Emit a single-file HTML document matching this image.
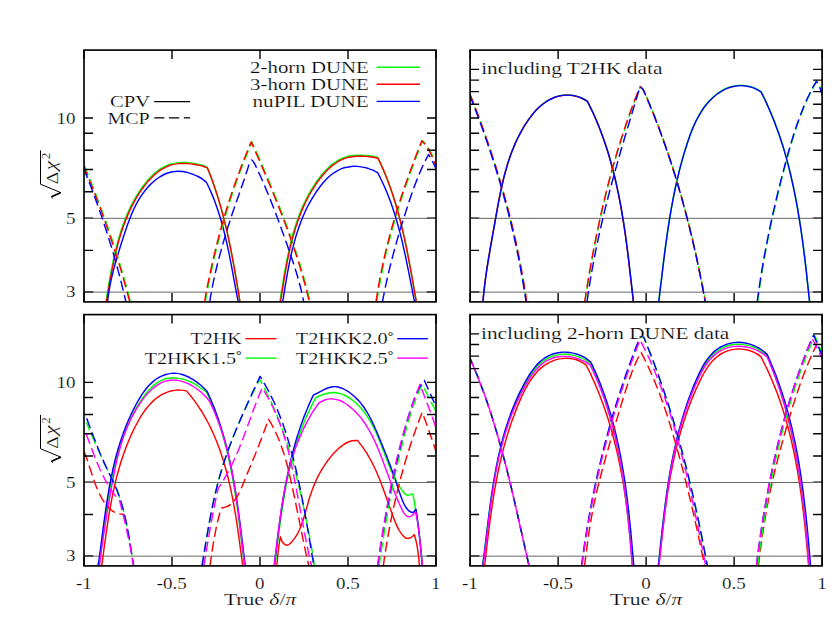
<!DOCTYPE html>
<html><head><meta charset="utf-8"><title>CPV / MCP sensitivity</title>
<style>html,body{margin:0;padding:0;background:#fff}svg{display:block}text{font-family:"Liberation Serif",serif;fill:#000;stroke:#fff;stroke-width:0.2px}</style></head><body>
<svg width="839" height="629" viewBox="0 0 839 629">
<rect width="839" height="629" fill="#fff"/>
<clipPath id="cp1"><rect x="84.00" y="50.10" width="352.00" height="251.80"/></clipPath>
<line x1="84.00" y1="218.34" x2="436.00" y2="218.34" stroke="#666" stroke-width="1.0"/>
<line x1="84.00" y1="292.13" x2="436.00" y2="292.13" stroke="#666" stroke-width="1.0"/>
<g clip-path="url(#cp1)" fill="none" stroke-width="1.45" stroke-linejoin="round">
<path d="M105.75 302.20C105.9 301.4 106.3 299.1 106.6 297.4C106.8 295.8 107.1 294.1 107.4 292.4C107.7 290.7 108.0 289.0 108.3 287.3C108.5 285.6 108.8 283.9 109.1 282.2C109.4 280.5 109.7 278.8 110.0 277.1C110.3 275.4 110.7 273.7 111.0 272.0C111.3 270.3 111.6 268.6 112.0 266.9C112.3 265.2 112.6 263.5 113.0 261.8C113.4 260.1 113.7 258.3 114.1 256.6C114.5 254.9 114.9 253.2 115.3 251.5C115.7 249.9 116.1 248.2 116.5 246.5C116.9 244.8 117.4 243.1 117.8 241.4C118.3 239.8 118.8 238.1 119.3 236.4C119.8 234.8 120.3 233.1 120.8 231.4C121.3 229.8 121.9 228.2 122.4 226.5C123.0 224.9 123.6 223.3 124.2 221.7C124.8 220.0 125.4 218.4 126.1 216.9C126.7 215.3 127.4 213.7 128.1 212.1C128.8 210.5 129.5 209.0 130.2 207.4C131.0 205.9 131.8 204.4 132.6 202.9C133.4 201.3 134.2 199.8 135.0 198.4C135.9 196.9 136.8 195.4 137.7 193.9C138.6 192.5 139.5 191.1 140.5 189.6C141.5 188.2 142.5 186.8 143.5 185.4C144.6 184.1 145.6 182.7 146.7 181.4C147.8 180.0 149.0 178.7 150.2 177.5C151.3 176.3 152.6 175.1 153.8 173.9C155.1 172.8 156.4 171.7 157.7 170.7C159.1 169.7 160.5 168.8 161.9 167.9C163.4 167.1 164.9 166.3 166.4 165.6C168.0 165.0 169.5 164.4 171.2 163.9C172.8 163.5 174.6 163.1 176.3 162.9C178.1 162.6 179.9 162.5 181.7 162.4C183.5 162.4 185.3 162.5 187.2 162.6C189.0 162.7 190.8 162.9 192.6 163.2C194.4 163.4 196.1 163.8 197.8 164.1C199.5 164.5 201.1 164.8 202.6 165.3C204.2 165.8 206.3 166.8 207.0 167.0C207.3 167.9 208.3 170.3 209.0 171.9C209.6 173.5 210.2 175.1 210.9 176.7C211.5 178.4 212.1 180.0 212.7 181.6C213.2 183.3 213.8 184.9 214.4 186.6C214.9 188.2 215.5 189.8 216.0 191.5C216.6 193.1 217.1 194.8 217.6 196.4C218.1 198.1 218.6 199.8 219.1 201.4C219.6 203.1 220.1 204.7 220.6 206.4C221.1 208.1 221.5 209.7 222.0 211.4C222.4 213.1 222.9 214.8 223.3 216.4C223.7 218.1 224.2 219.8 224.6 221.5C225.0 223.2 225.4 224.9 225.8 226.5C226.2 228.2 226.6 229.9 227.0 231.6C227.4 233.3 227.8 235.0 228.1 236.7C228.5 238.4 228.9 240.1 229.2 241.8C229.6 243.5 229.9 245.2 230.3 246.9C230.6 248.6 231.0 250.3 231.3 252.0C231.6 253.7 231.9 255.4 232.3 257.1C232.6 258.8 232.9 260.5 233.2 262.2C233.5 263.9 233.9 265.6 234.2 267.4C234.5 269.1 234.8 270.8 235.1 272.5C235.4 274.2 235.7 275.9 236.0 277.6C236.2 279.3 236.5 281.0 236.8 282.8C237.1 284.5 237.4 286.2 237.7 287.9C238.0 289.6 238.3 291.3 238.5 293.0C238.8 294.7 239.1 296.6 239.4 298.2C239.6 299.7 239.9 301.5 240.0 302.2" stroke="#00ff00"/>
<path d="M279.77 302.20C279.9 301.4 280.3 299.0 280.5 297.3C280.8 295.7 281.1 294.0 281.3 292.2C281.6 290.5 281.9 288.8 282.2 287.1C282.4 285.4 282.7 283.7 283.0 282.0C283.3 280.2 283.6 278.5 283.8 276.8C284.1 275.1 284.4 273.3 284.7 271.6C285.0 269.9 285.3 268.2 285.7 266.4C286.0 264.7 286.3 263.0 286.6 261.2C287.0 259.5 287.3 257.8 287.7 256.1C288.0 254.3 288.4 252.6 288.8 250.9C289.2 249.2 289.5 247.5 289.9 245.7C290.4 244.0 290.8 242.3 291.2 240.6C291.6 238.9 292.1 237.2 292.5 235.5C293.0 233.8 293.5 232.1 294.0 230.5C294.5 228.8 295.0 227.1 295.5 225.4C296.1 223.8 296.6 222.1 297.2 220.5C297.8 218.8 298.3 217.2 299.0 215.6C299.6 213.9 300.2 212.3 300.9 210.7C301.5 209.1 302.2 207.5 302.9 205.9C303.6 204.3 304.3 202.8 305.1 201.2C305.8 199.7 306.6 198.1 307.4 196.6C308.2 195.0 309.1 193.5 309.9 192.0C310.8 190.5 311.7 189.0 312.6 187.6C313.5 186.1 314.5 184.6 315.4 183.2C316.4 181.8 317.4 180.3 318.5 179.0C319.5 177.6 320.6 176.2 321.7 174.8C322.8 173.5 324.0 172.1 325.1 170.9C326.3 169.6 327.5 168.4 328.8 167.2C330.1 166.0 331.4 164.9 332.7 163.9C334.1 162.9 335.5 161.9 336.9 161.0C338.3 160.2 339.8 159.4 341.3 158.7C342.9 158.0 344.5 157.4 346.1 156.9C347.7 156.4 349.4 156.1 351.1 155.8C352.9 155.5 354.6 155.3 356.4 155.2C358.1 155.1 359.9 155.1 361.7 155.1C363.5 155.2 365.3 155.3 367.1 155.5C368.9 155.7 370.7 156.0 372.4 156.3C374.2 156.6 376.7 157.2 377.6 157.4C378.0 158.2 379.1 160.5 379.9 162.1C380.6 163.6 381.3 165.2 382.0 166.8C382.7 168.4 383.4 170.0 384.1 171.6C384.8 173.2 385.5 174.8 386.1 176.4C386.7 178.1 387.4 179.7 388.0 181.3C388.6 182.9 389.2 184.5 389.8 186.2C390.4 187.8 391.0 189.5 391.5 191.1C392.1 192.7 392.6 194.4 393.2 196.0C393.7 197.7 394.2 199.4 394.7 201.0C395.3 202.7 395.8 204.3 396.3 206.0C396.7 207.7 397.2 209.4 397.7 211.0C398.2 212.7 398.6 214.4 399.1 216.1C399.5 217.8 399.9 219.4 400.4 221.1C400.8 222.8 401.2 224.5 401.6 226.2C402.0 227.9 402.4 229.6 402.8 231.3C403.2 233.0 403.6 234.7 404.0 236.4C404.4 238.1 404.8 239.8 405.1 241.5C405.5 243.2 405.8 244.9 406.2 246.7C406.5 248.4 406.9 250.1 407.2 251.8C407.6 253.5 407.9 255.2 408.2 256.9C408.6 258.7 408.9 260.4 409.2 262.1C409.6 263.8 409.9 265.5 410.2 267.3C410.5 269.0 410.8 270.7 411.1 272.4C411.4 274.1 411.7 275.8 412.0 277.6C412.4 279.3 412.7 281.0 413.0 282.7C413.3 284.4 413.6 286.2 413.9 287.9C414.2 289.6 414.5 291.3 414.8 293.0C415.1 294.7 415.4 296.6 415.7 298.2C415.9 299.7 416.2 301.5 416.4 302.2" stroke="#00ff00"/>
<path d="M106.42 302.20C106.5 301.6 106.8 299.9 107.1 298.4C107.3 297.0 107.6 295.1 107.9 293.4C108.2 291.7 108.5 290.0 108.8 288.3C109.0 286.6 109.3 284.9 109.6 283.2C109.9 281.5 110.2 279.8 110.5 278.1C110.8 276.4 111.2 274.7 111.5 273.0C111.8 271.3 112.1 269.6 112.5 267.9C112.8 266.2 113.1 264.5 113.5 262.8C113.9 261.1 114.2 259.3 114.6 257.6C115.0 255.9 115.4 254.2 115.8 252.5C116.2 250.9 116.6 249.2 117.0 247.5C117.4 245.8 117.9 244.1 118.3 242.4C118.8 240.8 119.3 239.1 119.8 237.4C120.3 235.8 120.8 234.1 121.3 232.4C121.8 230.8 122.4 229.2 122.9 227.5C123.5 225.9 124.1 224.3 124.7 222.7C125.3 221.0 125.9 219.4 126.6 217.9C127.2 216.3 127.9 214.7 128.6 213.1C129.3 211.5 130.0 210.0 130.7 208.4C131.5 206.9 132.3 205.4 133.1 203.9C133.9 202.3 134.7 200.8 135.5 199.4C136.4 197.9 137.3 196.4 138.2 194.9C139.1 193.5 140.0 192.1 141.0 190.6C142.0 189.2 143.0 187.8 144.0 186.4C145.1 185.1 146.1 183.7 147.2 182.4C148.3 181.0 149.5 179.7 150.7 178.5C151.8 177.3 153.1 176.1 154.3 174.9C155.6 173.8 156.9 172.7 158.2 171.7C159.6 170.7 161.0 169.8 162.4 168.9C163.9 168.1 165.4 167.3 166.9 166.6C168.5 166.0 170.0 165.4 171.7 164.9C173.3 164.5 175.1 164.1 176.8 163.9C178.6 163.6 180.4 163.5 182.2 163.4C184.0 163.4 185.8 163.5 187.7 163.6C189.5 163.7 191.3 163.9 193.1 164.2C194.9 164.4 196.6 164.8 198.3 165.1C200.0 165.5 201.6 165.8 203.1 166.3C204.7 166.8 206.8 167.8 207.5 168.0C207.8 168.9 208.8 171.4 209.5 173.0C210.1 174.7 210.8 176.4 211.4 178.1C212.0 179.7 212.6 181.4 213.2 183.1C213.8 184.8 214.4 186.5 215.0 188.2C215.5 189.9 216.1 191.6 216.6 193.3C217.2 195.0 217.7 196.7 218.2 198.4C218.7 200.1 219.2 201.8 219.7 203.5C220.2 205.2 220.7 206.9 221.2 208.6C221.7 210.4 222.1 212.1 222.6 213.8C223.1 215.5 223.5 217.3 223.9 219.0C224.4 220.7 224.8 222.5 225.2 224.2C225.7 225.9 226.1 227.7 226.5 229.4C226.9 231.1 227.3 232.9 227.7 234.6C228.0 236.4 228.4 238.1 228.8 239.9C229.2 241.6 229.5 243.4 229.9 245.1C230.3 246.9 230.6 248.6 231.0 250.4C231.3 252.1 231.7 253.9 232.0 255.6C232.3 257.4 232.7 259.1 233.0 260.9C233.3 262.6 233.6 264.4 234.0 266.2C234.3 267.9 234.6 269.7 234.9 271.4C235.2 273.2 235.5 275.0 235.8 276.7C236.1 278.5 236.4 280.2 236.7 282.0C237.0 283.8 237.3 285.5 237.6 287.3C237.9 289.1 238.2 290.8 238.5 292.6C238.8 294.3 239.1 296.3 239.3 297.9C239.6 299.5 239.9 301.5 240.0 302.2" stroke="#ff0000"/>
<path d="M280.42 302.20C280.5 301.6 280.8 299.8 281.0 298.3C281.3 296.9 281.6 295.0 281.8 293.2C282.1 291.5 282.4 289.8 282.7 288.1C282.9 286.4 283.2 284.7 283.5 283.0C283.8 281.2 284.1 279.5 284.3 277.8C284.6 276.1 284.9 274.3 285.2 272.6C285.5 270.9 285.8 269.2 286.2 267.4C286.5 265.7 286.8 264.0 287.1 262.2C287.5 260.5 287.8 258.8 288.2 257.1C288.5 255.3 288.9 253.6 289.3 251.9C289.7 250.2 290.0 248.5 290.4 246.7C290.9 245.0 291.3 243.3 291.7 241.6C292.1 239.9 292.6 238.2 293.0 236.5C293.5 234.8 294.0 233.1 294.5 231.5C295.0 229.8 295.5 228.1 296.0 226.4C296.6 224.8 297.1 223.1 297.7 221.5C298.3 219.8 298.8 218.2 299.5 216.6C300.1 214.9 300.7 213.3 301.4 211.7C302.0 210.1 302.7 208.5 303.4 206.9C304.1 205.3 304.8 203.8 305.6 202.2C306.3 200.7 307.1 199.1 307.9 197.6C308.7 196.0 309.6 194.5 310.4 193.0C311.3 191.5 312.2 190.0 313.1 188.6C314.0 187.1 315.0 185.6 315.9 184.2C316.9 182.8 317.9 181.3 319.0 180.0C320.0 178.6 321.1 177.2 322.2 175.8C323.3 174.5 324.5 173.1 325.6 171.9C326.8 170.6 328.0 169.4 329.3 168.2C330.6 167.0 331.9 165.9 333.2 164.9C334.6 163.9 336.0 162.9 337.4 162.0C338.8 161.2 340.3 160.4 341.8 159.7C343.4 159.0 345.0 158.4 346.6 157.9C348.2 157.4 349.9 157.1 351.6 156.8C353.4 156.5 355.1 156.3 356.9 156.2C358.6 156.1 360.4 156.1 362.2 156.1C364.0 156.2 365.8 156.3 367.6 156.5C369.4 156.7 371.2 157.0 372.9 157.3C374.7 157.6 377.2 158.2 378.1 158.4C378.5 159.1 379.6 161.5 380.3 163.0C381.1 164.6 381.8 166.2 382.5 167.8C383.2 169.4 383.8 170.9 384.5 172.5C385.2 174.1 385.8 175.7 386.5 177.3C387.1 178.9 387.7 180.5 388.3 182.2C388.9 183.8 389.5 185.4 390.1 187.0C390.7 188.6 391.2 190.3 391.8 191.9C392.3 193.5 392.9 195.2 393.4 196.8C393.9 198.5 394.5 200.1 395.0 201.8C395.5 203.4 396.0 205.1 396.4 206.7C396.9 208.4 397.4 210.0 397.9 211.7C398.3 213.4 398.8 215.0 399.2 216.7C399.7 218.4 400.1 220.1 400.5 221.7C400.9 223.4 401.4 225.1 401.8 226.8C402.2 228.5 402.6 230.1 403.0 231.8C403.3 233.5 403.7 235.2 404.1 236.9C404.5 238.6 404.9 240.3 405.2 242.0C405.6 243.7 405.9 245.4 406.3 247.1C406.6 248.8 407.0 250.5 407.3 252.2C407.7 253.9 408.0 255.6 408.3 257.3C408.6 259.0 409.0 260.7 409.3 262.4C409.6 264.1 409.9 265.8 410.2 267.5C410.6 269.2 410.9 271.0 411.2 272.7C411.5 274.4 411.8 276.1 412.1 277.8C412.4 279.5 412.7 281.2 413.0 282.9C413.3 284.6 413.6 286.3 413.9 288.0C414.2 289.7 414.5 291.4 414.8 293.1C415.1 294.8 415.4 296.7 415.7 298.2C415.9 299.8 416.2 301.5 416.4 302.2" stroke="#ff0000"/>
<path d="M107.55 302.20C107.6 301.5 107.8 299.5 108.0 298.0C108.2 296.4 108.5 294.5 108.7 292.8C109.0 291.1 109.3 289.4 109.6 287.8C109.9 286.1 110.2 284.4 110.5 282.7C110.9 281.1 111.2 279.4 111.6 277.8C112.0 276.1 112.4 274.5 112.8 272.8C113.2 271.2 113.6 269.6 114.1 267.9C114.5 266.3 114.9 264.7 115.4 263.0C115.9 261.4 116.3 259.8 116.8 258.1C117.3 256.5 117.8 254.9 118.3 253.3C118.8 251.6 119.3 250.0 119.8 248.4C120.3 246.7 120.8 245.1 121.3 243.5C121.9 241.8 122.4 240.2 122.9 238.6C123.4 236.9 124.0 235.3 124.5 233.6C125.0 232.0 125.6 230.3 126.2 228.7C126.7 227.0 127.3 225.4 127.9 223.8C128.5 222.1 129.1 220.5 129.7 218.9C130.3 217.3 131.0 215.7 131.6 214.1C132.3 212.5 133.0 210.9 133.7 209.3C134.5 207.8 135.2 206.2 136.0 204.7C136.8 203.2 137.6 201.7 138.5 200.2C139.4 198.7 140.3 197.3 141.2 195.9C142.2 194.4 143.1 193.0 144.2 191.7C145.2 190.3 146.3 189.0 147.4 187.7C148.6 186.4 149.7 185.1 151.0 183.9C152.2 182.7 153.5 181.6 154.8 180.5C156.1 179.4 157.5 178.4 158.9 177.5C160.3 176.6 161.7 175.7 163.2 175.0C164.7 174.2 166.2 173.5 167.8 173.0C169.3 172.5 170.9 172.0 172.5 171.7C174.2 171.4 175.8 171.2 177.5 171.2C179.2 171.2 181.0 171.3 182.7 171.5C184.4 171.7 186.2 172.1 188.0 172.6C189.7 173.1 191.4 173.6 193.1 174.3C194.8 175.0 196.4 175.7 198.0 176.5C199.6 177.4 201.1 178.3 202.5 179.2C203.9 180.1 205.7 181.6 206.3 182.1C206.7 182.9 207.9 185.2 208.6 186.8C209.4 188.4 210.1 190.0 210.8 191.6C211.5 193.2 212.2 194.8 212.8 196.4C213.5 198.0 214.1 199.7 214.7 201.3C215.3 202.9 215.9 204.6 216.5 206.2C217.1 207.9 217.6 209.5 218.2 211.2C218.7 212.8 219.3 214.5 219.8 216.2C220.3 217.8 220.8 219.5 221.3 221.2C221.7 222.8 222.2 224.5 222.7 226.2C223.1 227.9 223.6 229.6 224.0 231.3C224.4 233.0 224.8 234.7 225.2 236.4C225.7 238.1 226.0 239.8 226.4 241.5C226.8 243.2 227.2 244.9 227.6 246.6C227.9 248.3 228.3 250.0 228.7 251.7C229.0 253.5 229.4 255.2 229.7 256.9C230.0 258.6 230.4 260.3 230.7 262.1C231.1 263.8 231.4 265.5 231.7 267.2C232.0 268.9 232.4 270.7 232.7 272.4C233.0 274.1 233.3 275.8 233.6 277.6C233.9 279.3 234.3 281.0 234.6 282.7C234.9 284.5 235.2 286.2 235.5 287.9C235.9 289.6 236.2 291.3 236.5 293.0C236.8 294.8 237.2 296.7 237.5 298.2C237.8 299.7 238.2 301.5 238.3 302.2" stroke="#0000ff"/>
<path d="M282.61 302.20C282.7 301.5 283.0 299.7 283.3 298.2C283.5 296.6 283.8 294.7 284.1 293.0C284.4 291.3 284.7 289.5 284.9 287.8C285.2 286.1 285.5 284.3 285.8 282.6C286.1 280.9 286.4 279.1 286.7 277.4C287.0 275.7 287.3 273.9 287.6 272.2C287.9 270.4 288.3 268.7 288.6 267.0C288.9 265.2 289.3 263.5 289.6 261.8C290.0 260.0 290.4 258.3 290.7 256.6C291.1 254.9 291.5 253.1 291.9 251.4C292.3 249.7 292.8 248.0 293.2 246.3C293.6 244.6 294.1 242.9 294.6 241.2C295.0 239.5 295.5 237.8 296.0 236.1C296.5 234.4 297.1 232.8 297.6 231.1C298.1 229.4 298.7 227.8 299.3 226.1C299.9 224.5 300.5 222.8 301.1 221.2C301.8 219.6 302.4 217.9 303.1 216.3C303.8 214.7 304.5 213.1 305.2 211.5C306.0 209.9 306.7 208.4 307.5 206.8C308.3 205.2 309.1 203.7 310.0 202.2C310.8 200.6 311.7 199.1 312.6 197.6C313.5 196.1 314.5 194.6 315.5 193.1C316.4 191.6 317.4 190.2 318.5 188.7C319.5 187.3 320.6 185.9 321.7 184.5C322.8 183.1 324.0 181.8 325.2 180.5C326.4 179.2 327.6 178.0 328.9 176.8C330.2 175.6 331.5 174.5 332.9 173.5C334.3 172.5 335.7 171.6 337.2 170.8C338.6 169.9 340.2 169.2 341.7 168.6C343.3 168.0 345.0 167.5 346.6 167.2C348.3 166.8 350.1 166.6 351.8 166.4C353.6 166.3 355.4 166.3 357.2 166.4C359.0 166.5 360.8 166.8 362.5 167.1C364.3 167.4 366.1 167.8 367.8 168.3C369.5 168.9 371.3 169.5 372.9 170.2C374.5 170.9 376.8 172.2 377.6 172.5C378.0 173.3 379.2 175.7 380.0 177.2C380.8 178.8 381.6 180.4 382.3 182.0C383.1 183.6 383.8 185.2 384.5 186.8C385.2 188.4 385.9 190.0 386.6 191.6C387.2 193.2 387.9 194.8 388.5 196.4C389.1 198.1 389.8 199.7 390.4 201.3C391.0 203.0 391.5 204.6 392.1 206.3C392.7 207.9 393.2 209.6 393.8 211.2C394.3 212.9 394.8 214.6 395.4 216.2C395.9 217.9 396.4 219.6 396.9 221.2C397.3 222.9 397.8 224.6 398.3 226.3C398.7 228.0 399.2 229.7 399.6 231.4C400.1 233.0 400.5 234.7 400.9 236.4C401.3 238.1 401.8 239.8 402.2 241.6C402.6 243.3 403.0 245.0 403.3 246.7C403.7 248.4 404.1 250.1 404.5 251.8C404.9 253.5 405.2 255.2 405.6 257.0C406.0 258.7 406.3 260.4 406.7 262.1C407.0 263.8 407.4 265.5 407.7 267.3C408.1 269.0 408.4 270.7 408.8 272.4C409.1 274.1 409.4 275.9 409.8 277.6C410.1 279.3 410.5 281.0 410.8 282.7C411.1 284.5 411.5 286.2 411.8 287.9C412.1 289.6 412.5 291.3 412.8 293.0C413.2 294.8 413.5 296.7 413.8 298.2C414.2 299.7 414.5 301.5 414.7 302.2" stroke="#0000ff"/>
<path d="M84.47 165.88C84.8 166.7 85.8 169.1 86.4 170.7C87.1 172.3 87.7 173.9 88.4 175.5C89.0 177.1 89.7 178.7 90.3 180.3C91.0 181.9 91.6 183.5 92.2 185.1C92.9 186.7 93.5 188.3 94.1 190.0C94.7 191.6 95.4 193.2 96.0 194.8C96.6 196.4 97.2 198.0 97.8 199.7C98.4 201.3 99.0 202.9 99.7 204.5C100.3 206.1 100.9 207.8 101.5 209.4C102.1 211.0 102.6 212.6 103.2 214.2C103.8 215.9 104.4 217.5 105.0 219.1C105.6 220.8 106.2 222.4 106.7 224.0C107.3 225.7 107.9 227.3 108.4 228.9C109.0 230.6 109.6 232.2 110.1 233.8C110.7 235.5 111.2 237.1 111.8 238.7C112.3 240.4 112.9 242.0 113.4 243.7C114.0 245.3 114.5 246.9 115.0 248.6C115.6 250.2 116.1 251.9 116.6 253.5C117.1 255.2 117.7 256.8 118.2 258.5C118.7 260.1 119.2 261.8 119.7 263.4C120.2 265.1 120.7 266.7 121.2 268.4C121.7 270.1 122.2 271.7 122.7 273.4C123.2 275.0 123.6 276.7 124.1 278.4C124.6 280.0 125.1 281.7 125.5 283.4C126.0 285.0 126.5 286.7 126.9 288.4C127.4 290.0 127.8 291.7 128.3 293.4C128.7 295.0 129.2 296.9 129.6 298.4C130.0 299.8 130.4 301.6 130.6 302.2" stroke="#00ff00" stroke-dasharray="10.2 4.6" stroke-dashoffset="0.4"/>
<path d="M205.22 302.20C205.3 301.5 205.7 299.6 206.0 298.1C206.2 296.5 206.6 294.6 206.9 292.9C207.2 291.2 207.6 289.5 207.9 287.8C208.2 286.0 208.6 284.3 208.9 282.6C209.3 280.9 209.6 279.2 210.0 277.4C210.3 275.7 210.7 274.0 211.1 272.3C211.4 270.6 211.8 268.9 212.2 267.1C212.6 265.4 213.0 263.7 213.4 262.0C213.7 260.3 214.1 258.6 214.5 256.9C214.9 255.2 215.4 253.5 215.8 251.8C216.2 250.0 216.6 248.3 217.0 246.6C217.4 244.9 217.9 243.2 218.3 241.5C218.8 239.8 219.2 238.1 219.6 236.4C220.1 234.7 220.5 233.0 221.0 231.3C221.5 229.6 221.9 228.0 222.4 226.3C222.9 224.6 223.4 222.9 223.8 221.2C224.3 219.5 224.8 217.8 225.3 216.1C225.8 214.5 226.3 212.8 226.8 211.1C227.3 209.4 227.8 207.7 228.4 206.1C228.9 204.4 229.4 202.7 229.9 201.0C230.5 199.4 231.0 197.7 231.6 196.0C232.1 194.4 232.7 192.7 233.2 191.0C233.8 189.4 234.4 187.7 234.9 186.1C235.5 184.4 236.1 182.8 236.7 181.1C237.3 179.5 237.8 177.8 238.4 176.2C239.0 174.5 239.6 172.9 240.3 171.2C240.9 169.6 241.5 167.9 242.1 166.3C242.7 164.7 243.4 163.0 244.0 161.4C244.7 159.8 245.3 158.2 246.0 156.5C246.6 154.9 247.3 153.3 247.9 151.7C248.6 150.1 249.3 148.4 250.0 146.8C250.6 145.2 251.7 142.8 252.0 142.0C252.4 142.8 253.4 145.2 254.1 146.8C254.8 148.4 255.5 149.9 256.2 151.5C256.9 153.1 257.6 154.7 258.3 156.3C259.0 157.9 259.7 159.5 260.4 161.1C261.1 162.7 261.7 164.2 262.4 165.8C263.1 167.4 263.8 169.0 264.5 170.6C265.2 172.2 265.9 173.8 266.5 175.4C267.2 177.0 267.9 178.6 268.6 180.2C269.2 181.8 269.9 183.4 270.6 185.0C271.3 186.6 271.9 188.2 272.6 189.8C273.2 191.4 273.9 193.0 274.6 194.7C275.2 196.3 275.9 197.9 276.5 199.5C277.2 201.1 277.8 202.7 278.5 204.3C279.1 205.9 279.8 207.5 280.4 209.2C281.0 210.8 281.7 212.4 282.3 214.0C282.9 215.6 283.5 217.3 284.1 218.9C284.8 220.5 285.4 222.1 286.0 223.8C286.6 225.4 287.2 227.0 287.8 228.6C288.4 230.3 289.0 231.9 289.6 233.5C290.2 235.2 290.8 236.8 291.3 238.4C291.9 240.1 292.5 241.7 293.1 243.4C293.6 245.0 294.2 246.6 294.7 248.3C295.3 249.9 295.8 251.6 296.4 253.2C296.9 254.9 297.5 256.5 298.0 258.2C298.5 259.8 299.0 261.5 299.6 263.1C300.1 264.8 300.6 266.5 301.1 268.1C301.6 269.8 302.1 271.4 302.6 273.1C303.0 274.8 303.5 276.4 304.0 278.1C304.5 279.8 304.9 281.5 305.4 283.1C305.8 284.8 306.3 286.5 306.7 288.2C307.2 289.8 307.6 291.5 308.0 293.2C308.4 294.9 308.9 296.8 309.3 298.3C309.6 299.8 310.0 301.5 310.2 302.2" stroke="#00ff00" stroke-dasharray="10.2 4.6" stroke-dashoffset="0.4"/>
<path d="M376.73 302.20C376.8 301.5 377.1 299.5 377.4 298.0C377.6 296.4 377.9 294.5 378.2 292.7C378.4 291.0 378.7 289.3 379.0 287.5C379.3 285.8 379.6 284.0 380.0 282.3C380.3 280.6 380.6 278.8 380.9 277.1C381.3 275.4 381.6 273.7 382.0 271.9C382.3 270.2 382.7 268.5 383.0 266.8C383.4 265.0 383.8 263.3 384.1 261.6C384.5 259.9 384.9 258.2 385.3 256.4C385.7 254.7 386.1 253.0 386.5 251.3C386.9 249.6 387.3 247.9 387.8 246.2C388.2 244.4 388.6 242.7 389.1 241.0C389.5 239.3 390.0 237.6 390.4 235.9C390.9 234.2 391.3 232.5 391.8 230.8C392.3 229.1 392.7 227.4 393.2 225.7C393.7 224.0 394.2 222.3 394.7 220.6C395.2 218.9 395.7 217.3 396.2 215.6C396.7 213.9 397.2 212.2 397.7 210.5C398.2 208.8 398.8 207.1 399.3 205.5C399.8 203.8 400.4 202.1 400.9 200.4C401.4 198.7 402.0 197.1 402.5 195.4C403.1 193.7 403.7 192.0 404.2 190.4C404.8 188.7 405.4 187.0 405.9 185.4C406.5 183.7 407.1 182.0 407.7 180.4C408.3 178.7 408.8 177.0 409.4 175.4C410.0 173.7 410.6 172.1 411.2 170.4C411.8 168.8 412.5 167.1 413.1 165.5C413.7 163.8 414.3 162.2 414.9 160.5C415.5 158.9 416.2 157.2 416.8 155.6C417.4 153.9 418.1 152.3 418.7 150.7C419.3 149.0 420.0 147.4 420.6 145.7C421.3 144.1 422.3 141.7 422.6 140.8C423.4 141.8 425.9 144.2 427.6 146.7C429.3 149.2 431.1 152.7 432.6 155.9C434.1 159.1 435.7 163.2 436.8 165.9C437.9 168.5 438.9 170.7 439.3 171.7" stroke="#00ff00" stroke-dasharray="10.2 4.6" stroke-dashoffset="0.4"/>
<path d="M83.67 165.88C84.0 166.7 85.0 169.1 85.6 170.7C86.3 172.3 86.9 173.9 87.6 175.5C88.2 177.1 88.9 178.7 89.5 180.3C90.2 181.9 90.8 183.5 91.4 185.1C92.1 186.7 92.7 188.3 93.3 190.0C93.9 191.6 94.6 193.2 95.2 194.8C95.8 196.4 96.4 198.0 97.0 199.7C97.6 201.3 98.2 202.9 98.9 204.5C99.5 206.1 100.1 207.8 100.7 209.4C101.3 211.0 101.8 212.6 102.4 214.2C103.0 215.9 103.6 217.5 104.2 219.1C104.8 220.8 105.4 222.4 105.9 224.0C106.5 225.7 107.1 227.3 107.6 228.9C108.2 230.6 108.8 232.2 109.3 233.8C109.9 235.5 110.4 237.1 111.0 238.7C111.5 240.4 112.1 242.0 112.6 243.7C113.2 245.3 113.7 246.9 114.2 248.6C114.8 250.2 115.3 251.9 115.8 253.5C116.3 255.2 116.9 256.8 117.4 258.5C117.9 260.1 118.4 261.8 118.9 263.4C119.4 265.1 119.9 266.7 120.4 268.4C120.9 270.1 121.4 271.7 121.9 273.4C122.4 275.0 122.8 276.7 123.3 278.4C123.8 280.0 124.3 281.7 124.7 283.4C125.2 285.0 125.7 286.7 126.1 288.4C126.6 290.0 127.0 291.7 127.5 293.4C127.9 295.0 128.4 296.9 128.8 298.4C129.2 299.8 129.6 301.6 129.8 302.2" stroke="#ff0000" stroke-dasharray="10.2 4.6"/>
<path d="M204.42 302.20C204.5 301.5 204.9 299.6 205.2 298.1C205.4 296.5 205.8 294.6 206.1 292.9C206.4 291.2 206.8 289.5 207.1 287.8C207.4 286.0 207.8 284.3 208.1 282.6C208.5 280.9 208.8 279.2 209.2 277.4C209.5 275.7 209.9 274.0 210.3 272.3C210.6 270.6 211.0 268.9 211.4 267.1C211.8 265.4 212.2 263.7 212.6 262.0C212.9 260.3 213.3 258.6 213.7 256.9C214.1 255.2 214.6 253.5 215.0 251.8C215.4 250.0 215.8 248.3 216.2 246.6C216.6 244.9 217.1 243.2 217.5 241.5C218.0 239.8 218.4 238.1 218.8 236.4C219.3 234.7 219.7 233.0 220.2 231.3C220.7 229.6 221.1 228.0 221.6 226.3C222.1 224.6 222.6 222.9 223.0 221.2C223.5 219.5 224.0 217.8 224.5 216.1C225.0 214.5 225.5 212.8 226.0 211.1C226.5 209.4 227.0 207.7 227.6 206.1C228.1 204.4 228.6 202.7 229.1 201.0C229.7 199.4 230.2 197.7 230.8 196.0C231.3 194.4 231.9 192.7 232.4 191.0C233.0 189.4 233.6 187.7 234.1 186.1C234.7 184.4 235.3 182.8 235.9 181.1C236.5 179.5 237.0 177.8 237.6 176.2C238.2 174.5 238.8 172.9 239.5 171.2C240.1 169.6 240.7 167.9 241.3 166.3C241.9 164.7 242.6 163.0 243.2 161.4C243.9 159.8 244.5 158.2 245.2 156.5C245.8 154.9 246.5 153.3 247.1 151.7C247.8 150.1 248.5 148.4 249.2 146.8C249.8 145.2 250.9 142.8 251.2 142.0C251.6 142.8 252.6 145.2 253.3 146.8C254.0 148.4 254.7 149.9 255.4 151.5C256.1 153.1 256.8 154.7 257.5 156.3C258.2 157.9 258.9 159.5 259.6 161.1C260.3 162.7 260.9 164.2 261.6 165.8C262.3 167.4 263.0 169.0 263.7 170.6C264.4 172.2 265.1 173.8 265.7 175.4C266.4 177.0 267.1 178.6 267.8 180.2C268.4 181.8 269.1 183.4 269.8 185.0C270.5 186.6 271.1 188.2 271.8 189.8C272.4 191.4 273.1 193.0 273.8 194.7C274.4 196.3 275.1 197.9 275.7 199.5C276.4 201.1 277.0 202.7 277.7 204.3C278.3 205.9 279.0 207.5 279.6 209.2C280.2 210.8 280.9 212.4 281.5 214.0C282.1 215.6 282.7 217.3 283.3 218.9C284.0 220.5 284.6 222.1 285.2 223.8C285.8 225.4 286.4 227.0 287.0 228.6C287.6 230.3 288.2 231.9 288.8 233.5C289.4 235.2 290.0 236.8 290.5 238.4C291.1 240.1 291.7 241.7 292.3 243.4C292.8 245.0 293.4 246.6 293.9 248.3C294.5 249.9 295.0 251.6 295.6 253.2C296.1 254.9 296.7 256.5 297.2 258.2C297.7 259.8 298.2 261.5 298.8 263.1C299.3 264.8 299.8 266.5 300.3 268.1C300.8 269.8 301.3 271.4 301.8 273.1C302.2 274.8 302.7 276.4 303.2 278.1C303.7 279.8 304.1 281.5 304.6 283.1C305.0 284.8 305.5 286.5 305.9 288.2C306.4 289.8 306.8 291.5 307.2 293.2C307.6 294.9 308.1 296.8 308.5 298.3C308.8 299.8 309.2 301.5 309.4 302.2" stroke="#ff0000" stroke-dasharray="10.2 4.6"/>
<path d="M375.93 302.20C376.0 301.5 376.3 299.5 376.6 298.0C376.8 296.4 377.1 294.5 377.4 292.7C377.6 291.0 377.9 289.3 378.2 287.5C378.5 285.8 378.8 284.0 379.2 282.3C379.5 280.6 379.8 278.8 380.1 277.1C380.5 275.4 380.8 273.7 381.2 271.9C381.5 270.2 381.9 268.5 382.2 266.8C382.6 265.0 383.0 263.3 383.3 261.6C383.7 259.9 384.1 258.2 384.5 256.4C384.9 254.7 385.3 253.0 385.7 251.3C386.1 249.6 386.5 247.9 387.0 246.2C387.4 244.4 387.8 242.7 388.3 241.0C388.7 239.3 389.2 237.6 389.6 235.9C390.1 234.2 390.5 232.5 391.0 230.8C391.5 229.1 391.9 227.4 392.4 225.7C392.9 224.0 393.4 222.3 393.9 220.6C394.4 218.9 394.9 217.3 395.4 215.6C395.9 213.9 396.4 212.2 396.9 210.5C397.4 208.8 398.0 207.1 398.5 205.5C399.0 203.8 399.6 202.1 400.1 200.4C400.6 198.7 401.2 197.1 401.7 195.4C402.3 193.7 402.9 192.0 403.4 190.4C404.0 188.7 404.6 187.0 405.1 185.4C405.7 183.7 406.3 182.0 406.9 180.4C407.5 178.7 408.0 177.0 408.6 175.4C409.2 173.7 409.8 172.1 410.4 170.4C411.0 168.8 411.7 167.1 412.3 165.5C412.9 163.8 413.5 162.2 414.1 160.5C414.7 158.9 415.4 157.2 416.0 155.6C416.6 153.9 417.3 152.3 417.9 150.7C418.5 149.0 419.2 147.4 419.8 145.7C420.5 144.1 421.5 141.7 421.8 140.8C422.6 141.8 425.1 144.2 426.8 146.7C428.5 149.2 430.3 152.7 431.8 155.9C433.3 159.1 434.9 163.2 436.0 165.9C437.1 168.5 438.1 170.7 438.5 171.7" stroke="#ff0000" stroke-dasharray="10.2 4.6"/>
<path d="M83.67 168.38C84.0 169.2 85.0 171.6 85.6 173.2C86.3 174.9 86.9 176.5 87.5 178.1C88.2 179.8 88.8 181.4 89.4 183.0C90.1 184.6 90.7 186.3 91.3 187.9C91.9 189.6 92.6 191.2 93.2 192.8C93.8 194.5 94.4 196.1 95.0 197.7C95.6 199.4 96.2 201.0 96.8 202.7C97.4 204.3 98.0 206.0 98.5 207.6C99.1 209.3 99.7 210.9 100.3 212.6C100.8 214.2 101.4 215.9 102.0 217.5C102.5 219.2 103.1 220.9 103.6 222.5C104.2 224.2 104.7 225.8 105.3 227.5C105.8 229.2 106.4 230.8 106.9 232.5C107.4 234.1 108.0 235.8 108.5 237.5C109.0 239.2 109.5 240.8 110.0 242.5C110.6 244.2 111.1 245.8 111.6 247.5C112.1 249.2 112.6 250.9 113.1 252.5C113.6 254.2 114.0 255.9 114.5 257.6C115.0 259.3 115.5 260.9 116.0 262.6C116.4 264.3 116.9 266.0 117.4 267.7C117.8 269.4 118.3 271.1 118.7 272.7C119.2 274.4 119.6 276.1 120.1 277.8C120.5 279.5 120.9 281.2 121.4 282.9C121.8 284.6 122.2 286.3 122.6 288.0C123.1 289.7 123.5 291.4 123.9 293.1C124.3 294.8 124.7 296.7 125.1 298.2C125.4 299.7 125.8 301.5 126.0 302.2" stroke="#0000ff" stroke-dasharray="10.2 4.6"/>
<path d="M209.63 302.20C209.7 301.6 210.0 299.8 210.3 298.3C210.5 296.8 210.8 295.0 211.2 293.3C211.5 291.6 211.8 289.9 212.1 288.2C212.4 286.5 212.8 284.8 213.1 283.1C213.5 281.5 213.8 279.8 214.2 278.1C214.6 276.4 214.9 274.7 215.3 273.0C215.7 271.4 216.1 269.7 216.5 268.0C216.9 266.3 217.3 264.6 217.7 263.0C218.2 261.3 218.6 259.6 219.0 257.9C219.5 256.3 219.9 254.6 220.4 252.9C220.8 251.2 221.3 249.6 221.7 247.9C222.2 246.3 222.7 244.6 223.1 242.9C223.6 241.3 224.1 239.6 224.6 238.0C225.1 236.3 225.6 234.7 226.1 233.0C226.6 231.4 227.1 229.8 227.6 228.1C228.1 226.5 228.6 224.9 229.2 223.2C229.7 221.6 230.2 220.0 230.7 218.4C231.3 216.8 231.8 215.1 232.3 213.5C232.9 211.9 233.4 210.3 234.0 208.7C234.5 207.1 235.1 205.6 235.6 204.0C236.2 202.4 236.7 200.8 237.3 199.2C237.8 197.6 238.4 196.0 239.0 194.4C239.5 192.8 240.1 191.2 240.7 189.6C241.2 188.0 241.8 186.4 242.4 184.7C242.9 183.0 243.5 181.4 244.1 179.7C244.7 178.0 245.3 176.2 245.8 174.5C246.4 172.7 247.0 170.9 247.6 169.1C248.2 167.3 248.6 165.1 249.3 163.5C250.0 162.0 250.8 160.0 251.6 159.9C252.5 159.8 253.4 161.7 254.2 163.0C255.0 164.3 255.7 166.0 256.4 167.5C257.1 169.1 257.9 170.6 258.6 172.1C259.3 173.7 260.0 175.2 260.7 176.8C261.4 178.3 262.1 179.9 262.8 181.4C263.4 183.0 264.1 184.6 264.8 186.1C265.5 187.7 266.1 189.3 266.8 190.9C267.4 192.4 268.1 194.0 268.7 195.6C269.4 197.2 270.0 198.8 270.7 200.4C271.3 202.0 271.9 203.6 272.6 205.2C273.2 206.8 273.8 208.4 274.4 210.0C275.0 211.6 275.7 213.2 276.3 214.9C276.9 216.5 277.5 218.1 278.1 219.7C278.7 221.3 279.3 223.0 279.9 224.6C280.5 226.2 281.1 227.8 281.6 229.4C282.2 231.1 282.8 232.7 283.4 234.3C284.0 235.9 284.5 237.6 285.1 239.2C285.7 240.8 286.3 242.4 286.8 244.1C287.4 245.7 288.0 247.3 288.5 248.9C289.1 250.6 289.7 252.2 290.2 253.8C290.8 255.4 291.3 257.0 291.9 258.7C292.4 260.3 293.0 261.9 293.5 263.5C294.0 265.2 294.6 266.8 295.1 268.4C295.6 270.0 296.1 271.7 296.6 273.3C297.1 274.9 297.6 276.6 298.0 278.2C298.5 279.9 299.0 281.5 299.4 283.2C299.9 284.8 300.3 286.5 300.7 288.1C301.1 289.8 301.5 291.5 301.9 293.2C302.3 294.8 302.7 296.7 303.0 298.2C303.3 299.7 303.6 301.5 303.7 302.2" stroke="#0000ff" stroke-dasharray="10.2 4.6"/>
<path d="M382.37 302.20C382.5 301.5 382.8 299.7 383.1 298.2C383.4 296.7 383.8 294.8 384.1 293.1C384.5 291.4 384.8 289.7 385.2 288.0C385.6 286.3 385.9 284.6 386.3 282.9C386.7 281.2 387.0 279.5 387.4 277.8C387.8 276.1 388.2 274.4 388.6 272.7C389.0 271.0 389.4 269.3 389.8 267.6C390.2 265.9 390.7 264.3 391.1 262.6C391.5 260.9 392.0 259.2 392.4 257.5C392.8 255.8 393.3 254.1 393.7 252.5C394.2 250.8 394.6 249.1 395.1 247.4C395.6 245.7 396.0 244.1 396.5 242.4C397.0 240.7 397.4 239.0 397.9 237.4C398.4 235.7 398.9 234.0 399.4 232.3C399.9 230.7 400.4 229.0 400.9 227.3C401.4 225.7 401.9 224.0 402.4 222.3C402.9 220.7 403.4 219.0 404.0 217.4C404.5 215.7 405.0 214.0 405.6 212.4C406.1 210.7 406.6 209.1 407.2 207.4C407.7 205.7 408.2 204.1 408.8 202.4C409.3 200.8 409.9 199.1 410.5 197.5C411.0 195.8 411.6 194.2 412.2 192.6C412.8 190.9 413.3 189.3 413.9 187.7C414.5 186.0 415.2 184.4 415.8 182.8C416.4 181.2 417.0 179.6 417.7 178.0C418.3 176.4 419.0 174.8 419.6 173.2C420.3 171.6 421.0 170.0 421.7 168.4C422.4 166.9 423.1 165.3 423.8 163.7C424.6 162.2 425.3 160.6 426.1 159.1C426.9 157.6 428.1 155.3 428.5 154.5C429.0 155.4 430.6 157.7 431.8 160.0C433.1 162.4 434.9 166.3 436.0 168.7C437.1 171.1 438.1 173.3 438.5 174.2" stroke="#0000ff" stroke-dasharray="10.2 4.6"/>
</g>
<path d="M84.00 291.93h9.00M436.00 291.93h-9.00M84.00 250.37h9.00M436.00 250.37h-9.00M84.00 218.14h9.00M436.00 218.14h-9.00M84.00 191.80h9.00M436.00 191.80h-9.00M84.00 169.53h9.00M436.00 169.53h-9.00M84.00 150.24h9.00M436.00 150.24h-9.00M84.00 133.22h9.00M436.00 133.22h-9.00M84.00 118.00h9.00M436.00 118.00h-9.00M84.00 50.10v9.00M84.00 301.90v-9.00M172.00 50.10v9.00M172.00 301.90v-9.00M260.00 50.10v9.00M260.00 301.90v-9.00M348.00 50.10v9.00M348.00 301.90v-9.00M436.00 50.10v9.00M436.00 301.90v-9.00" stroke="#000" stroke-width="1.40" fill="none"/>
<path d="M84.00 218.34h9.50M436.00 218.34h-9.50" stroke="#666" stroke-width="1.0" fill="none" opacity="1"/>
<path d="M84.00 292.13h9.50M436.00 292.13h-9.50" stroke="#666" stroke-width="1.0" fill="none" opacity="1"/>
<rect x="84.00" y="50.10" width="352.00" height="251.80" fill="none" stroke="#000" stroke-width="1.65"/>
<clipPath id="cp2"><rect x="470.10" y="50.10" width="352.00" height="251.80"/></clipPath>
<line x1="470.10" y1="218.34" x2="822.10" y2="218.34" stroke="#666" stroke-width="1.0"/>
<line x1="470.10" y1="292.13" x2="822.10" y2="292.13" stroke="#666" stroke-width="1.0"/>
<g clip-path="url(#cp2)" fill="none" stroke-width="1.45" stroke-linejoin="round">
<path d="M482.92 302.20C483.0 301.5 483.1 299.5 483.3 297.9C483.4 296.4 483.6 294.6 483.8 292.9C484.0 291.2 484.2 289.5 484.3 287.8C484.5 286.1 484.7 284.4 485.0 282.7C485.2 281.0 485.4 279.4 485.6 277.7C485.9 276.0 486.1 274.3 486.3 272.6C486.6 271.0 486.8 269.3 487.1 267.6C487.3 265.9 487.6 264.3 487.9 262.6C488.1 260.9 488.4 259.3 488.7 257.6C489.0 255.9 489.2 254.2 489.5 252.6C489.8 250.9 490.1 249.2 490.4 247.6C490.7 245.9 491.0 244.2 491.3 242.6C491.6 240.9 491.9 239.2 492.2 237.5C492.5 235.9 492.8 234.2 493.1 232.5C493.4 230.9 493.7 229.2 494.0 227.5C494.3 225.8 494.6 224.2 494.9 222.5C495.2 220.8 495.4 219.1 495.7 217.5C496.0 215.8 496.3 214.1 496.6 212.4C496.9 210.7 497.2 209.1 497.6 207.4C497.9 205.7 498.2 204.0 498.5 202.3C498.8 200.7 499.1 199.0 499.5 197.3C499.8 195.6 500.1 194.0 500.5 192.3C500.8 190.6 501.2 189.0 501.5 187.3C501.9 185.6 502.3 184.0 502.7 182.3C503.1 180.7 503.5 179.0 503.9 177.4C504.3 175.7 504.7 174.1 505.1 172.4C505.6 170.8 506.0 169.2 506.5 167.5C507.0 165.9 507.5 164.3 508.0 162.7C508.5 161.1 509.0 159.4 509.6 157.8C510.1 156.2 510.7 154.6 511.3 153.1C511.9 151.5 512.5 149.9 513.1 148.3C513.8 146.7 514.4 145.2 515.1 143.6C515.8 142.1 516.5 140.5 517.2 139.0C518.0 137.4 518.7 135.9 519.5 134.4C520.3 132.9 521.1 131.4 522.0 129.9C522.8 128.4 523.7 126.9 524.6 125.4C525.5 123.9 526.4 122.5 527.4 121.0C528.4 119.6 529.4 118.2 530.4 116.8C531.5 115.4 532.5 114.1 533.6 112.8C534.7 111.5 535.9 110.2 537.1 109.0C538.3 107.8 539.5 106.7 540.7 105.6C542.0 104.5 543.3 103.5 544.6 102.5C546.0 101.6 547.3 100.7 548.8 99.9C550.2 99.1 551.6 98.4 553.1 97.8C554.6 97.1 556.2 96.6 557.7 96.2C559.3 95.7 560.9 95.4 562.5 95.2C564.1 94.9 565.8 94.8 567.4 94.8C569.1 94.8 570.7 94.9 572.4 95.2C574.1 95.4 575.8 95.8 577.4 96.3C579.1 96.8 580.8 97.5 582.5 98.3C584.1 99.1 586.6 100.6 587.4 101.1C587.8 101.9 589.0 104.2 589.8 105.8C590.6 107.4 591.3 109.0 592.1 110.5C592.8 112.1 593.5 113.7 594.2 115.3C594.9 116.9 595.6 118.5 596.3 120.1C597.0 121.7 597.7 123.3 598.3 124.9C599.0 126.5 599.6 128.1 600.2 129.7C600.9 131.3 601.5 133.0 602.1 134.6C602.7 136.2 603.2 137.9 603.8 139.5C604.4 141.1 605.0 142.8 605.5 144.4C606.0 146.0 606.6 147.7 607.1 149.3C607.6 151.0 608.1 152.6 608.6 154.3C609.1 155.9 609.6 157.6 610.1 159.3C610.6 160.9 611.0 162.6 611.5 164.3C612.0 165.9 612.4 167.6 612.8 169.3C613.3 171.0 613.7 172.6 614.1 174.3C614.5 176.0 614.9 177.7 615.3 179.4C615.7 181.1 616.1 182.7 616.5 184.4C616.9 186.1 617.2 187.8 617.6 189.5C617.9 191.2 618.3 192.9 618.6 194.6C619.0 196.3 619.3 198.0 619.6 199.7C620.0 201.4 620.3 203.1 620.6 204.8C620.9 206.5 621.2 208.2 621.5 210.0C621.8 211.7 622.1 213.4 622.4 215.1C622.7 216.8 623.0 218.5 623.2 220.2C623.5 222.0 623.8 223.7 624.0 225.4C624.3 227.1 624.6 228.8 624.8 230.6C625.1 232.3 625.3 234.0 625.5 235.7C625.8 237.5 626.0 239.2 626.3 240.9C626.5 242.6 626.7 244.4 626.9 246.1C627.2 247.8 627.4 249.5 627.6 251.3C627.8 253.0 628.0 254.7 628.3 256.5C628.5 258.2 628.7 259.9 628.9 261.6C629.1 263.4 629.3 265.1 629.5 266.8C629.7 268.5 629.9 270.3 630.1 272.0C630.3 273.7 630.5 275.5 630.7 277.2C630.9 278.9 631.1 280.6 631.3 282.4C631.5 284.1 631.7 285.8 631.8 287.5C632.0 289.3 632.2 291.0 632.4 292.7C632.6 294.4 632.8 296.3 633.0 297.9C633.2 299.5 633.4 301.5 633.5 302.2" stroke="#00ff00" stroke-width="1.30"/>
<path d="M482.80 302.20C482.9 301.5 483.0 299.8 483.1 298.2C483.3 296.7 483.5 294.9 483.6 293.2C483.8 291.5 484.0 289.8 484.2 288.1C484.4 286.4 484.6 284.7 484.8 283.0C485.0 281.3 485.2 279.7 485.5 278.0C485.7 276.3 485.9 274.6 486.2 272.9C486.4 271.3 486.7 269.6 486.9 267.9C487.2 266.2 487.5 264.6 487.7 262.9C488.0 261.2 488.3 259.6 488.5 257.9C488.8 256.2 489.1 254.5 489.4 252.9C489.7 251.2 489.9 249.5 490.2 247.9C490.5 246.2 490.8 244.5 491.1 242.9C491.4 241.2 491.7 239.5 492.0 237.8C492.3 236.2 492.6 234.5 492.9 232.8C493.2 231.2 493.5 229.5 493.8 227.8C494.1 226.1 494.4 224.5 494.7 222.8C495.0 221.1 495.3 219.4 495.6 217.8C495.9 216.1 496.2 214.4 496.5 212.7C496.8 211.0 497.1 209.4 497.4 207.7C497.7 206.0 498.0 204.3 498.3 202.6C498.7 201.0 499.0 199.3 499.3 197.6C499.6 195.9 500.0 194.3 500.3 192.6C500.7 190.9 501.0 189.3 501.4 187.6C501.8 185.9 502.1 184.3 502.5 182.6C502.9 181.0 503.3 179.3 503.7 177.7C504.1 176.0 504.6 174.4 505.0 172.7C505.4 171.1 505.9 169.5 506.4 167.8C506.8 166.2 507.3 164.6 507.8 163.0C508.4 161.4 508.9 159.7 509.4 158.1C510.0 156.5 510.5 154.9 511.1 153.4C511.7 151.8 512.3 150.2 513.0 148.6C513.6 147.0 514.3 145.5 514.9 143.9C515.6 142.4 516.3 140.8 517.1 139.3C517.8 137.7 518.6 136.2 519.4 134.7C520.1 133.2 521.0 131.7 521.8 130.2C522.7 128.7 523.5 127.2 524.4 125.7C525.3 124.2 526.3 122.8 527.3 121.3C528.2 119.9 529.2 118.5 530.3 117.1C531.3 115.7 532.4 114.4 533.5 113.1C534.6 111.8 535.7 110.5 536.9 109.3C538.1 108.1 539.3 107.0 540.6 105.9C541.8 104.8 543.1 103.8 544.5 102.8C545.8 101.9 547.2 101.0 548.6 100.2C550.0 99.4 551.5 98.7 553.0 98.1C554.5 97.4 556.0 96.9 557.6 96.5C559.2 96.0 560.7 95.7 562.4 95.5C564.0 95.2 565.6 95.1 567.3 95.1C568.9 95.1 570.6 95.2 572.3 95.5C573.9 95.7 575.6 96.1 577.3 96.6C579.0 97.1 580.6 97.8 582.3 98.6C584.0 99.4 586.4 100.9 587.3 101.4C587.7 102.2 588.9 104.5 589.6 106.1C590.4 107.7 591.2 109.3 591.9 110.8C592.6 112.4 593.4 114.0 594.1 115.6C594.8 117.2 595.5 118.8 596.2 120.4C596.8 122.0 597.5 123.6 598.2 125.2C598.8 126.8 599.5 128.4 600.1 130.0C600.7 131.6 601.3 133.3 601.9 134.9C602.5 136.5 603.1 138.2 603.7 139.8C604.2 141.4 604.8 143.1 605.3 144.7C605.9 146.3 606.4 148.0 607.0 149.6C607.5 151.3 608.0 152.9 608.5 154.6C609.0 156.2 609.5 157.9 609.9 159.6C610.4 161.2 610.9 162.9 611.3 164.6C611.8 166.2 612.2 167.9 612.7 169.6C613.1 171.3 613.5 172.9 614.0 174.6C614.4 176.3 614.8 178.0 615.2 179.7C615.6 181.4 615.9 183.0 616.3 184.7C616.7 186.4 617.1 188.1 617.4 189.8C617.8 191.5 618.1 193.2 618.5 194.9C618.8 196.6 619.2 198.3 619.5 200.0C619.8 201.7 620.1 203.4 620.5 205.1C620.8 206.8 621.1 208.5 621.4 210.3C621.7 212.0 622.0 213.7 622.2 215.4C622.5 217.1 622.8 218.8 623.1 220.5C623.4 222.3 623.6 224.0 623.9 225.7C624.1 227.4 624.4 229.1 624.7 230.9C624.9 232.6 625.2 234.3 625.4 236.0C625.6 237.8 625.9 239.5 626.1 241.2C626.3 242.9 626.6 244.7 626.8 246.4C627.0 248.1 627.2 249.8 627.5 251.6C627.7 253.3 627.9 255.0 628.1 256.8C628.3 258.5 628.5 260.2 628.7 261.9C628.9 263.7 629.1 265.4 629.3 267.1C629.5 268.8 629.7 270.6 629.9 272.3C630.1 274.0 630.3 275.8 630.5 277.5C630.7 279.2 630.9 280.9 631.1 282.7C631.3 284.4 631.5 286.1 631.7 287.8C631.9 289.6 632.1 291.3 632.3 293.0C632.5 294.7 632.7 296.6 632.9 298.2C633.0 299.7 633.2 301.5 633.3 302.2" stroke="#ff0000" stroke-width="1.30"/>
<path d="M658.65 302.20C658.7 301.5 659.0 299.3 659.2 297.7C659.4 296.1 659.6 294.3 659.8 292.6C660.0 290.8 660.2 289.1 660.4 287.4C660.6 285.7 660.8 284.0 661.1 282.3C661.3 280.6 661.5 278.8 661.7 277.1C661.9 275.4 662.1 273.7 662.3 272.0C662.5 270.3 662.7 268.6 662.9 266.9C663.1 265.2 663.3 263.5 663.5 261.8C663.7 260.1 664.0 258.4 664.2 256.6C664.4 254.9 664.6 253.2 664.8 251.5C665.0 249.8 665.3 248.1 665.5 246.4C665.7 244.7 665.9 243.0 666.2 241.3C666.4 239.6 666.7 238.0 666.9 236.3C667.1 234.6 667.4 232.9 667.6 231.2C667.9 229.5 668.1 227.8 668.4 226.1C668.6 224.4 668.9 222.7 669.2 221.0C669.4 219.3 669.7 217.6 670.0 215.9C670.3 214.3 670.6 212.6 670.9 210.9C671.1 209.2 671.4 207.5 671.8 205.8C672.1 204.1 672.4 202.5 672.7 200.8C673.0 199.1 673.3 197.4 673.7 195.7C674.0 194.0 674.3 192.4 674.7 190.7C675.0 189.0 675.4 187.3 675.8 185.6C676.1 184.0 676.5 182.3 676.9 180.6C677.3 178.9 677.7 177.2 678.1 175.6C678.5 173.9 678.9 172.2 679.3 170.5C679.7 168.9 680.2 167.2 680.6 165.5C681.1 163.8 681.5 162.2 682.0 160.5C682.4 158.8 682.9 157.2 683.4 155.5C683.9 153.8 684.4 152.1 684.9 150.5C685.4 148.8 685.9 147.1 686.5 145.5C687.0 143.8 687.5 142.1 688.1 140.5C688.7 138.8 689.2 137.1 689.8 135.5C690.4 133.8 691.0 132.2 691.7 130.6C692.3 128.9 693.0 127.3 693.7 125.7C694.4 124.1 695.1 122.5 695.9 121.0C696.6 119.4 697.4 117.9 698.3 116.4C699.1 114.9 700.0 113.4 700.9 111.9C701.8 110.5 702.7 109.0 703.7 107.6C704.7 106.2 705.8 104.9 706.9 103.6C708.0 102.3 709.1 101.0 710.3 99.8C711.5 98.5 712.7 97.4 714.0 96.3C715.3 95.1 716.6 94.1 718.0 93.1C719.3 92.2 720.7 91.2 722.1 90.4C723.6 89.6 725.1 88.9 726.6 88.2C728.1 87.6 729.6 87.0 731.2 86.6C732.8 86.1 734.4 85.8 736.0 85.6C737.6 85.3 739.3 85.2 740.9 85.2C742.6 85.2 744.2 85.3 745.9 85.6C747.6 85.8 749.3 86.2 751.0 86.7C752.7 87.2 754.4 87.9 756.1 88.7C757.7 89.5 760.2 91.1 761.1 91.6C761.5 92.4 762.6 94.7 763.4 96.3C764.2 97.9 764.9 99.4 765.7 101.0C766.4 102.6 767.1 104.2 767.8 105.7C768.5 107.3 769.2 108.9 769.9 110.5C770.6 112.1 771.3 113.7 771.9 115.3C772.6 116.9 773.2 118.5 773.9 120.1C774.5 121.7 775.1 123.3 775.7 125.0C776.3 126.6 776.9 128.2 777.5 129.8C778.1 131.4 778.7 133.1 779.2 134.7C779.8 136.3 780.3 138.0 780.9 139.6C781.4 141.3 781.9 142.9 782.5 144.5C783.0 146.2 783.5 147.8 784.0 149.5C784.5 151.1 785.0 152.8 785.4 154.5C785.9 156.1 786.4 157.8 786.8 159.4C787.3 161.1 787.7 162.8 788.2 164.5C788.6 166.1 789.0 167.8 789.4 169.5C789.8 171.1 790.3 172.8 790.7 174.5C791.0 176.2 791.4 177.9 791.8 179.6C792.2 181.2 792.6 182.9 792.9 184.6C793.3 186.3 793.7 188.0 794.0 189.7C794.4 191.4 794.7 193.1 795.0 194.8C795.4 196.5 795.7 198.2 796.0 199.9C796.3 201.6 796.7 203.3 797.0 205.0C797.3 206.7 797.6 208.4 797.9 210.1C798.2 211.8 798.4 213.5 798.7 215.3C799.0 217.0 799.3 218.7 799.6 220.4C799.8 222.1 800.1 223.8 800.4 225.5C800.6 227.2 800.9 229.0 801.1 230.7C801.4 232.4 801.6 234.1 801.9 235.8C802.1 237.6 802.3 239.3 802.6 241.0C802.8 242.7 803.0 244.4 803.3 246.2C803.5 247.9 803.7 249.6 803.9 251.3C804.1 253.0 804.3 254.8 804.6 256.5C804.8 258.2 805.0 259.9 805.2 261.7C805.4 263.4 805.6 265.1 805.8 266.8C806.0 268.5 806.2 270.3 806.4 272.0C806.6 273.7 806.8 275.4 807.0 277.1C807.1 278.9 807.3 280.6 807.5 282.3C807.7 284.0 807.9 285.7 808.1 287.5C808.3 289.2 808.5 290.9 808.6 292.6C808.8 294.3 809.0 296.2 809.2 297.8C809.4 299.4 809.6 301.5 809.7 302.2" stroke="#00ff00"/>
<path d="M482.99 302.20C483.0 301.5 483.2 299.7 483.3 298.2C483.5 296.7 483.7 294.8 483.8 293.1C484.0 291.4 484.2 289.7 484.4 288.0C484.6 286.3 484.8 284.7 485.0 283.0C485.2 281.3 485.4 279.6 485.7 277.9C485.9 276.2 486.1 274.6 486.4 272.9C486.6 271.2 486.9 269.5 487.1 267.9C487.4 266.2 487.7 264.5 487.9 262.8C488.2 261.2 488.5 259.5 488.7 257.8C489.0 256.2 489.3 254.5 489.6 252.8C489.9 251.1 490.1 249.5 490.4 247.8C490.7 246.1 491.0 244.5 491.3 242.8C491.6 241.1 491.9 239.5 492.2 237.8C492.5 236.1 492.8 234.4 493.1 232.8C493.4 231.1 493.7 229.4 494.0 227.8C494.3 226.1 494.6 224.4 494.9 222.7C495.2 221.1 495.5 219.4 495.8 217.7C496.1 216.0 496.4 214.3 496.7 212.7C497.0 211.0 497.3 209.3 497.6 207.6C497.9 206.0 498.2 204.3 498.5 202.6C498.9 200.9 499.2 199.2 499.5 197.6C499.8 195.9 500.2 194.2 500.5 192.6C500.9 190.9 501.2 189.2 501.6 187.6C502.0 185.9 502.3 184.2 502.7 182.6C503.1 180.9 503.5 179.3 503.9 177.6C504.3 176.0 504.8 174.3 505.2 172.7C505.6 171.1 506.1 169.4 506.6 167.8C507.0 166.2 507.5 164.5 508.0 162.9C508.6 161.3 509.1 159.7 509.6 158.1C510.2 156.5 510.7 154.9 511.3 153.3C511.9 151.7 512.5 150.1 513.2 148.6C513.8 147.0 514.5 145.4 515.1 143.9C515.8 142.3 516.5 140.8 517.3 139.2C518.0 137.7 518.8 136.2 519.6 134.6C520.3 133.1 521.2 131.6 522.0 130.1C522.9 128.6 523.7 127.1 524.6 125.7C525.5 124.2 526.5 122.7 527.5 121.3C528.4 119.9 529.4 118.4 530.5 117.1C531.5 115.7 532.6 114.3 533.7 113.0C534.8 111.7 535.9 110.5 537.1 109.3C538.3 108.1 539.5 106.9 540.8 105.8C542.0 104.8 543.3 103.7 544.7 102.8C546.0 101.8 547.4 101.0 548.8 100.2C550.2 99.4 551.7 98.6 553.2 98.0C554.7 97.4 556.2 96.8 557.8 96.4C559.4 96.0 560.9 95.6 562.6 95.4C564.2 95.2 565.8 95.1 567.5 95.1C569.1 95.1 570.8 95.2 572.5 95.4C574.1 95.7 575.8 96.1 577.5 96.6C579.2 97.1 580.8 97.7 582.5 98.5C584.2 99.3 586.6 100.9 587.5 101.4C587.9 102.1 589.1 104.5 589.8 106.1C590.6 107.6 591.4 109.2 592.1 110.8C592.8 112.4 593.6 114.0 594.3 115.5C595.0 117.1 595.7 118.7 596.4 120.3C597.0 121.9 597.7 123.5 598.4 125.1C599.0 126.7 599.7 128.4 600.3 130.0C600.9 131.6 601.5 133.2 602.1 134.8C602.7 136.5 603.3 138.1 603.9 139.7C604.4 141.4 605.0 143.0 605.5 144.6C606.1 146.3 606.6 147.9 607.2 149.6C607.7 151.2 608.2 152.9 608.7 154.5C609.2 156.2 609.7 157.9 610.1 159.5C610.6 161.2 611.1 162.8 611.5 164.5C612.0 166.2 612.4 167.9 612.9 169.5C613.3 171.2 613.7 172.9 614.2 174.6C614.6 176.2 615.0 177.9 615.4 179.6C615.8 181.3 616.1 183.0 616.5 184.7C616.9 186.4 617.3 188.1 617.6 189.8C618.0 191.5 618.3 193.2 618.7 194.9C619.0 196.6 619.4 198.3 619.7 200.0C620.0 201.7 620.3 203.4 620.7 205.1C621.0 206.8 621.3 208.5 621.6 210.2C621.9 211.9 622.2 213.6 622.4 215.4C622.7 217.1 623.0 218.8 623.3 220.5C623.6 222.2 623.8 223.9 624.1 225.7C624.3 227.4 624.6 229.1 624.9 230.8C625.1 232.5 625.4 234.3 625.6 236.0C625.8 237.7 626.1 239.4 626.3 241.2C626.5 242.9 626.8 244.6 627.0 246.3C627.2 248.1 627.4 249.8 627.7 251.5C627.9 253.2 628.1 255.0 628.3 256.7C628.5 258.4 628.7 260.2 628.9 261.9C629.1 263.6 629.3 265.3 629.5 267.1C629.7 268.8 629.9 270.5 630.1 272.3C630.3 274.0 630.5 275.7 630.7 277.4C630.9 279.2 631.1 280.9 631.3 282.6C631.5 284.3 631.7 286.1 631.9 287.8C632.1 289.5 632.3 291.2 632.5 293.0C632.7 294.7 632.9 296.6 633.1 298.1C633.2 299.7 633.4 301.5 633.5 302.2" stroke="#0000ff"/>
<path d="M658.69 302.20C658.8 301.5 659.0 299.6 659.2 298.1C659.4 296.6 659.6 294.7 659.8 293.0C660.0 291.2 660.2 289.5 660.4 287.8C660.6 286.1 660.8 284.4 661.1 282.7C661.3 281.0 661.5 279.2 661.7 277.5C661.9 275.8 662.1 274.1 662.3 272.4C662.5 270.7 662.7 269.0 662.9 267.3C663.1 265.6 663.3 263.9 663.5 262.2C663.7 260.5 664.0 258.8 664.2 257.0C664.4 255.3 664.6 253.6 664.8 251.9C665.0 250.2 665.3 248.5 665.5 246.8C665.7 245.1 665.9 243.4 666.2 241.7C666.4 240.0 666.7 238.4 666.9 236.7C667.1 235.0 667.4 233.3 667.6 231.6C667.9 229.9 668.1 228.2 668.4 226.5C668.6 224.8 668.9 223.1 669.2 221.4C669.4 219.7 669.7 218.0 670.0 216.3C670.3 214.7 670.6 213.0 670.9 211.3C671.1 209.6 671.4 207.9 671.8 206.2C672.1 204.5 672.4 202.9 672.7 201.2C673.0 199.5 673.3 197.8 673.7 196.1C674.0 194.4 674.3 192.8 674.7 191.1C675.0 189.4 675.4 187.7 675.8 186.0C676.1 184.4 676.5 182.7 676.9 181.0C677.3 179.3 677.7 177.6 678.1 176.0C678.5 174.3 678.9 172.6 679.3 170.9C679.7 169.3 680.2 167.6 680.6 165.9C681.1 164.2 681.5 162.6 682.0 160.9C682.4 159.2 682.9 157.6 683.4 155.9C683.9 154.2 684.4 152.5 684.9 150.9C685.4 149.2 685.9 147.5 686.5 145.9C687.0 144.2 687.5 142.5 688.1 140.9C688.7 139.2 689.2 137.5 689.8 135.9C690.4 134.2 691.0 132.6 691.7 131.0C692.3 129.3 693.0 127.7 693.7 126.1C694.4 124.5 695.1 122.9 695.9 121.4C696.6 119.8 697.4 118.3 698.3 116.8C699.1 115.3 700.0 113.8 700.9 112.3C701.8 110.9 702.7 109.4 703.7 108.0C704.7 106.6 705.8 105.3 706.9 104.0C708.0 102.7 709.1 101.4 710.3 100.2C711.5 98.9 712.7 97.8 714.0 96.7C715.3 95.5 716.6 94.5 718.0 93.5C719.3 92.6 720.7 91.6 722.1 90.8C723.6 90.0 725.1 89.3 726.6 88.6C728.1 88.0 729.6 87.4 731.2 87.0C732.8 86.5 734.4 86.2 736.0 86.0C737.6 85.7 739.3 85.6 740.9 85.6C742.6 85.6 744.2 85.7 745.9 86.0C747.6 86.2 749.3 86.6 751.0 87.1C752.7 87.6 754.4 88.3 756.1 89.1C757.7 89.9 760.2 91.5 761.1 92.0C761.5 92.8 762.6 95.1 763.4 96.7C764.2 98.3 764.9 99.8 765.7 101.4C766.4 103.0 767.1 104.6 767.8 106.1C768.5 107.7 769.2 109.3 769.9 110.9C770.6 112.5 771.3 114.1 771.9 115.7C772.6 117.3 773.2 118.9 773.9 120.5C774.5 122.1 775.1 123.7 775.7 125.4C776.3 127.0 776.9 128.6 777.5 130.2C778.1 131.8 778.7 133.5 779.2 135.1C779.8 136.7 780.3 138.4 780.9 140.0C781.4 141.7 781.9 143.3 782.5 144.9C783.0 146.6 783.5 148.2 784.0 149.9C784.5 151.5 785.0 153.2 785.4 154.9C785.9 156.5 786.4 158.2 786.8 159.8C787.3 161.5 787.7 163.2 788.2 164.9C788.6 166.5 789.0 168.2 789.4 169.9C789.8 171.5 790.3 173.2 790.7 174.9C791.0 176.6 791.4 178.3 791.8 180.0C792.2 181.6 792.6 183.3 792.9 185.0C793.3 186.7 793.7 188.4 794.0 190.1C794.4 191.8 794.7 193.5 795.0 195.2C795.4 196.9 795.7 198.6 796.0 200.3C796.3 202.0 796.7 203.7 797.0 205.4C797.3 207.1 797.6 208.8 797.9 210.5C798.2 212.2 798.4 213.9 798.7 215.7C799.0 217.4 799.3 219.1 799.6 220.8C799.8 222.5 800.1 224.2 800.4 225.9C800.6 227.6 800.9 229.4 801.1 231.1C801.4 232.8 801.6 234.5 801.9 236.2C802.1 238.0 802.3 239.7 802.6 241.4C802.8 243.1 803.0 244.8 803.3 246.6C803.5 248.3 803.7 250.0 803.9 251.7C804.1 253.4 804.3 255.2 804.6 256.9C804.8 258.6 805.0 260.3 805.2 262.1C805.4 263.8 805.6 265.5 805.8 267.2C806.0 268.9 806.2 270.7 806.4 272.4C806.6 274.1 806.8 275.8 807.0 277.5C807.1 279.3 807.3 281.0 807.5 282.7C807.7 284.4 807.9 286.1 808.1 287.9C808.3 289.6 808.5 291.3 808.6 293.0C808.8 294.7 809.0 296.6 809.2 298.2C809.4 299.7 809.6 301.5 809.6 302.2" stroke="#0000ff"/>
<path d="M470.07 95.02C470.4 95.8 471.3 98.2 472.0 99.8C472.6 101.4 473.2 103.0 473.8 104.6C474.4 106.2 475.1 107.8 475.7 109.4C476.3 111.0 476.9 112.7 477.5 114.3C478.1 115.9 478.7 117.5 479.3 119.1C479.9 120.7 480.5 122.3 481.1 123.9C481.6 125.5 482.2 127.2 482.8 128.8C483.4 130.4 484.0 132.0 484.5 133.6C485.1 135.3 485.7 136.9 486.2 138.5C486.8 140.1 487.4 141.7 487.9 143.4C488.5 145.0 489.0 146.6 489.6 148.2C490.1 149.9 490.6 151.5 491.2 153.1C491.7 154.8 492.2 156.4 492.8 158.0C493.3 159.7 493.8 161.3 494.3 162.9C494.9 164.6 495.4 166.2 495.9 167.9C496.4 169.5 496.9 171.1 497.4 172.8C497.9 174.4 498.4 176.1 498.9 177.7C499.4 179.3 499.9 181.0 500.4 182.6C500.8 184.3 501.3 185.9 501.8 187.6C502.3 189.2 502.7 190.9 503.2 192.5C503.7 194.2 504.1 195.8 504.6 197.5C505.0 199.2 505.5 200.8 505.9 202.5C506.4 204.1 506.8 205.8 507.3 207.4C507.7 209.1 508.1 210.8 508.6 212.4C509.0 214.1 509.4 215.7 509.8 217.4C510.2 219.1 510.6 220.7 511.1 222.4C511.5 224.1 511.9 225.7 512.3 227.4C512.7 229.1 513.0 230.8 513.4 232.4C513.8 234.1 514.2 235.8 514.6 237.4C515.0 239.1 515.3 240.8 515.7 242.5C516.1 244.2 516.4 245.8 516.8 247.5C517.1 249.2 517.5 250.9 517.8 252.5C518.2 254.2 518.5 255.9 518.9 257.6C519.2 259.3 519.5 261.0 519.8 262.6C520.2 264.3 520.5 266.0 520.8 267.7C521.1 269.4 521.4 271.1 521.7 272.8C522.0 274.5 522.3 276.2 522.6 277.9C522.9 279.5 523.2 281.2 523.5 282.9C523.8 284.6 524.0 286.3 524.3 288.0C524.6 289.7 524.9 291.4 525.1 293.1C525.4 294.8 525.7 296.7 525.9 298.2C526.1 299.7 526.3 301.5 526.4 302.2" stroke="#00ff00" stroke-dasharray="10.2 4.6" stroke-dashoffset="1.6"/>
<path d="M470.37 95.02C470.7 95.8 471.6 98.2 472.3 99.8C472.9 101.4 473.5 103.0 474.1 104.6C474.7 106.2 475.4 107.8 476.0 109.4C476.6 111.0 477.2 112.7 477.8 114.3C478.4 115.9 479.0 117.5 479.6 119.1C480.2 120.7 480.8 122.3 481.4 123.9C481.9 125.5 482.5 127.2 483.1 128.8C483.7 130.4 484.3 132.0 484.8 133.6C485.4 135.3 486.0 136.9 486.5 138.5C487.1 140.1 487.7 141.7 488.2 143.4C488.8 145.0 489.3 146.6 489.9 148.2C490.4 149.9 490.9 151.5 491.5 153.1C492.0 154.8 492.5 156.4 493.1 158.0C493.6 159.7 494.1 161.3 494.6 162.9C495.2 164.6 495.7 166.2 496.2 167.9C496.7 169.5 497.2 171.1 497.7 172.8C498.2 174.4 498.7 176.1 499.2 177.7C499.7 179.3 500.2 181.0 500.7 182.6C501.1 184.3 501.6 185.9 502.1 187.6C502.6 189.2 503.0 190.9 503.5 192.5C504.0 194.2 504.4 195.8 504.9 197.5C505.3 199.2 505.8 200.8 506.2 202.5C506.7 204.1 507.1 205.8 507.6 207.4C508.0 209.1 508.4 210.8 508.9 212.4C509.3 214.1 509.7 215.7 510.1 217.4C510.5 219.1 510.9 220.7 511.4 222.4C511.8 224.1 512.2 225.7 512.6 227.4C513.0 229.1 513.3 230.8 513.7 232.4C514.1 234.1 514.5 235.8 514.9 237.4C515.3 239.1 515.6 240.8 516.0 242.5C516.4 244.2 516.7 245.8 517.1 247.5C517.4 249.2 517.8 250.9 518.1 252.5C518.5 254.2 518.8 255.9 519.2 257.6C519.5 259.3 519.8 261.0 520.1 262.6C520.5 264.3 520.8 266.0 521.1 267.7C521.4 269.4 521.7 271.1 522.0 272.8C522.3 274.5 522.6 276.2 522.9 277.9C523.2 279.5 523.5 281.2 523.8 282.9C524.1 284.6 524.3 286.3 524.6 288.0C524.9 289.7 525.2 291.4 525.4 293.1C525.7 294.8 526.0 296.7 526.2 298.2C526.4 299.7 526.6 301.5 526.7 302.2" stroke="#ff0000" stroke-dasharray="10.2 4.6" stroke-dashoffset="0.8"/>
<path d="M469.67 95.02C470.0 95.8 470.9 98.2 471.6 99.8C472.2 101.4 472.8 103.0 473.4 104.6C474.0 106.2 474.7 107.8 475.3 109.4C475.9 111.0 476.5 112.7 477.1 114.3C477.7 115.9 478.3 117.5 478.9 119.1C479.5 120.7 480.1 122.3 480.7 123.9C481.2 125.5 481.8 127.2 482.4 128.8C483.0 130.4 483.6 132.0 484.1 133.6C484.7 135.3 485.3 136.9 485.8 138.5C486.4 140.1 487.0 141.7 487.5 143.4C488.1 145.0 488.6 146.6 489.2 148.2C489.7 149.9 490.2 151.5 490.8 153.1C491.3 154.8 491.8 156.4 492.4 158.0C492.9 159.7 493.4 161.3 493.9 162.9C494.5 164.6 495.0 166.2 495.5 167.9C496.0 169.5 496.5 171.1 497.0 172.8C497.5 174.4 498.0 176.1 498.5 177.7C499.0 179.3 499.5 181.0 500.0 182.6C500.4 184.3 500.9 185.9 501.4 187.6C501.9 189.2 502.3 190.9 502.8 192.5C503.3 194.2 503.7 195.8 504.2 197.5C504.6 199.2 505.1 200.8 505.5 202.5C506.0 204.1 506.4 205.8 506.9 207.4C507.3 209.1 507.7 210.8 508.2 212.4C508.6 214.1 509.0 215.7 509.4 217.4C509.8 219.1 510.2 220.7 510.7 222.4C511.1 224.1 511.5 225.7 511.9 227.4C512.3 229.1 512.6 230.8 513.0 232.4C513.4 234.1 513.8 235.8 514.2 237.4C514.6 239.1 514.9 240.8 515.3 242.5C515.7 244.2 516.0 245.8 516.4 247.5C516.7 249.2 517.1 250.9 517.4 252.5C517.8 254.2 518.1 255.9 518.5 257.6C518.8 259.3 519.1 261.0 519.4 262.6C519.8 264.3 520.1 266.0 520.4 267.7C520.7 269.4 521.0 271.1 521.3 272.8C521.6 274.5 521.9 276.2 522.2 277.9C522.5 279.5 522.8 281.2 523.1 282.9C523.4 284.6 523.6 286.3 523.9 288.0C524.2 289.7 524.5 291.4 524.7 293.1C525.0 294.8 525.3 296.7 525.5 298.2C525.7 299.7 525.9 301.5 526.0 302.2" stroke="#0000ff" stroke-dasharray="10.2 4.6"/>
<path d="M584.89 302.20C585.0 301.5 585.3 299.7 585.5 298.1C585.8 296.6 586.1 294.7 586.3 293.0C586.6 291.3 586.9 289.5 587.2 287.8C587.4 286.1 587.7 284.4 588.0 282.7C588.3 281.0 588.6 279.2 588.9 277.5C589.2 275.8 589.5 274.1 589.7 272.4C590.0 270.7 590.3 269.0 590.7 267.2C591.0 265.5 591.3 263.8 591.6 262.1C591.9 260.4 592.2 258.7 592.5 257.0C592.8 255.3 593.2 253.6 593.5 251.8C593.8 250.1 594.1 248.4 594.5 246.7C594.8 245.0 595.1 243.3 595.5 241.6C595.8 239.9 596.2 238.2 596.5 236.5C596.8 234.8 597.2 233.1 597.6 231.4C597.9 229.7 598.3 228.0 598.6 226.3C599.0 224.6 599.4 222.9 599.7 221.2C600.1 219.5 600.5 217.8 600.8 216.1C601.2 214.4 601.6 212.7 602.0 211.0C602.4 209.3 602.8 207.6 603.2 205.9C603.6 204.2 604.0 202.5 604.4 200.8C604.8 199.1 605.2 197.4 605.6 195.7C606.0 194.1 606.4 192.4 606.9 190.7C607.3 189.0 607.7 187.3 608.1 185.6C608.6 183.9 609.0 182.3 609.4 180.6C609.9 178.9 610.3 177.2 610.8 175.5C611.2 173.9 611.7 172.2 612.1 170.5C612.6 168.8 613.1 167.2 613.5 165.5C614.0 163.8 614.5 162.1 615.0 160.5C615.5 158.8 615.9 157.1 616.4 155.5C616.9 153.8 617.4 152.1 617.9 150.5C618.4 148.8 618.9 147.1 619.4 145.5C620.0 143.8 620.5 142.2 621.0 140.5C621.5 138.8 622.0 137.2 622.6 135.5C623.1 133.9 623.7 132.2 624.2 130.6C624.7 128.9 625.3 127.3 625.9 125.6C626.4 124.0 627.0 122.4 627.5 120.7C628.1 119.1 628.7 117.4 629.3 115.8C629.8 114.1 630.4 112.5 631.0 110.9C631.6 109.2 632.2 107.6 632.8 106.0C633.4 104.3 634.0 102.7 634.6 101.1C635.3 99.5 635.9 97.8 636.5 96.2C637.1 94.6 637.8 93.0 638.4 91.4C639.1 89.7 640.0 87.3 640.4 86.5L643.53 89.68C643.9 90.5 644.9 92.9 645.6 94.4C646.3 96.0 647.0 97.6 647.7 99.2C648.3 100.8 649.0 102.4 649.7 104.0C650.3 105.6 651.0 107.2 651.6 108.8C652.3 110.4 652.9 112.0 653.6 113.6C654.2 115.2 654.8 116.8 655.5 118.4C656.1 120.1 656.7 121.7 657.4 123.3C658.0 124.9 658.6 126.5 659.2 128.1C659.8 129.8 660.4 131.4 661.0 133.0C661.6 134.6 662.2 136.2 662.8 137.9C663.4 139.5 663.9 141.1 664.5 142.8C665.1 144.4 665.7 146.0 666.2 147.6C666.8 149.3 667.4 150.9 667.9 152.6C668.5 154.2 669.0 155.8 669.6 157.5C670.1 159.1 670.7 160.7 671.2 162.4C671.7 164.0 672.3 165.7 672.8 167.3C673.3 169.0 673.8 170.6 674.3 172.3C674.9 173.9 675.4 175.6 675.9 177.2C676.4 178.9 676.9 180.5 677.4 182.2C677.9 183.8 678.4 185.5 678.9 187.2C679.3 188.8 679.8 190.5 680.3 192.1C680.8 193.8 681.3 195.5 681.7 197.1C682.2 198.8 682.7 200.5 683.1 202.1C683.6 203.8 684.0 205.5 684.5 207.1C684.9 208.8 685.4 210.5 685.8 212.1C686.3 213.8 686.7 215.5 687.1 217.2C687.6 218.8 688.0 220.5 688.4 222.2C688.9 223.9 689.3 225.5 689.7 227.2C690.1 228.9 690.5 230.6 690.9 232.3C691.3 233.9 691.8 235.6 692.2 237.3C692.6 239.0 692.9 240.7 693.3 242.4C693.7 244.0 694.1 245.7 694.5 247.4C694.9 249.1 695.3 250.8 695.7 252.5C696.0 254.2 696.4 255.9 696.8 257.5C697.1 259.2 697.5 260.9 697.9 262.6C698.2 264.3 698.6 266.0 698.9 267.7C699.3 269.4 699.6 271.1 700.0 272.8C700.3 274.5 700.7 276.2 701.0 277.9C701.4 279.6 701.7 281.3 702.0 282.9C702.4 284.6 702.7 286.3 703.0 288.0C703.3 289.7 703.7 291.4 704.0 293.1C704.3 294.8 704.7 296.7 704.9 298.2C705.2 299.7 705.5 301.5 705.7 302.2" stroke="#00ff00" stroke-dasharray="10.2 4.6" stroke-dashoffset="1.5"/>
<path d="M584.59 302.20C584.7 301.5 585.0 299.7 585.2 298.1C585.5 296.6 585.8 294.7 586.0 293.0C586.3 291.3 586.6 289.5 586.9 287.8C587.1 286.1 587.4 284.4 587.7 282.7C588.0 281.0 588.3 279.2 588.6 277.5C588.9 275.8 589.2 274.1 589.4 272.4C589.7 270.7 590.0 269.0 590.4 267.2C590.7 265.5 591.0 263.8 591.3 262.1C591.6 260.4 591.9 258.7 592.2 257.0C592.5 255.3 592.9 253.6 593.2 251.8C593.5 250.1 593.8 248.4 594.2 246.7C594.5 245.0 594.8 243.3 595.2 241.6C595.5 239.9 595.9 238.2 596.2 236.5C596.5 234.8 596.9 233.1 597.3 231.4C597.6 229.7 598.0 228.0 598.3 226.3C598.7 224.6 599.1 222.9 599.4 221.2C599.8 219.5 600.2 217.8 600.5 216.1C600.9 214.4 601.3 212.7 601.7 211.0C602.1 209.3 602.5 207.6 602.9 205.9C603.3 204.2 603.7 202.5 604.1 200.8C604.5 199.1 604.9 197.4 605.3 195.7C605.7 194.1 606.1 192.4 606.6 190.7C607.0 189.0 607.4 187.3 607.8 185.6C608.3 183.9 608.7 182.3 609.1 180.6C609.6 178.9 610.0 177.2 610.5 175.5C610.9 173.9 611.4 172.2 611.8 170.5C612.3 168.8 612.8 167.2 613.2 165.5C613.7 163.8 614.2 162.1 614.7 160.5C615.2 158.8 615.6 157.1 616.1 155.5C616.6 153.8 617.1 152.1 617.6 150.5C618.1 148.8 618.6 147.1 619.1 145.5C619.7 143.8 620.2 142.2 620.7 140.5C621.2 138.8 621.7 137.2 622.3 135.5C622.8 133.9 623.4 132.2 623.9 130.6C624.4 128.9 625.0 127.3 625.6 125.6C626.1 124.0 626.7 122.4 627.2 120.7C627.8 119.1 628.4 117.4 629.0 115.8C629.5 114.1 630.1 112.5 630.7 110.9C631.3 109.2 631.9 107.6 632.5 106.0C633.1 104.3 633.7 102.7 634.3 101.1C635.0 99.5 635.6 97.8 636.2 96.2C636.8 94.6 637.5 93.0 638.1 91.4C638.8 89.7 639.7 87.3 640.1 86.5L643.23 89.68C643.6 90.5 644.6 92.9 645.3 94.4C646.0 96.0 646.7 97.6 647.4 99.2C648.0 100.8 648.7 102.4 649.4 104.0C650.0 105.6 650.7 107.2 651.3 108.8C652.0 110.4 652.6 112.0 653.3 113.6C653.9 115.2 654.5 116.8 655.2 118.4C655.8 120.1 656.4 121.7 657.1 123.3C657.7 124.9 658.3 126.5 658.9 128.1C659.5 129.8 660.1 131.4 660.7 133.0C661.3 134.6 661.9 136.2 662.5 137.9C663.1 139.5 663.6 141.1 664.2 142.8C664.8 144.4 665.4 146.0 665.9 147.6C666.5 149.3 667.1 150.9 667.6 152.6C668.2 154.2 668.7 155.8 669.3 157.5C669.8 159.1 670.4 160.7 670.9 162.4C671.4 164.0 672.0 165.7 672.5 167.3C673.0 169.0 673.5 170.6 674.0 172.3C674.6 173.9 675.1 175.6 675.6 177.2C676.1 178.9 676.6 180.5 677.1 182.2C677.6 183.8 678.1 185.5 678.6 187.2C679.0 188.8 679.5 190.5 680.0 192.1C680.5 193.8 681.0 195.5 681.4 197.1C681.9 198.8 682.4 200.5 682.8 202.1C683.3 203.8 683.7 205.5 684.2 207.1C684.6 208.8 685.1 210.5 685.5 212.1C686.0 213.8 686.4 215.5 686.8 217.2C687.3 218.8 687.7 220.5 688.1 222.2C688.6 223.9 689.0 225.5 689.4 227.2C689.8 228.9 690.2 230.6 690.6 232.3C691.0 233.9 691.5 235.6 691.9 237.3C692.3 239.0 692.6 240.7 693.0 242.4C693.4 244.0 693.8 245.7 694.2 247.4C694.6 249.1 695.0 250.8 695.4 252.5C695.7 254.2 696.1 255.9 696.5 257.5C696.8 259.2 697.2 260.9 697.6 262.6C697.9 264.3 698.3 266.0 698.6 267.7C699.0 269.4 699.3 271.1 699.7 272.8C700.0 274.5 700.4 276.2 700.7 277.9C701.1 279.6 701.4 281.3 701.7 282.9C702.1 284.6 702.4 286.3 702.7 288.0C703.0 289.7 703.4 291.4 703.7 293.1C704.0 294.8 704.4 296.7 704.6 298.2C704.9 299.7 705.2 301.5 705.4 302.2" stroke="#ff0000" stroke-dasharray="10.2 4.6" stroke-dashoffset="0.0"/>
<path d="M586.98 302.20C587.1 301.5 587.3 299.6 587.5 298.1C587.8 296.6 588.0 294.7 588.3 293.0C588.5 291.2 588.8 289.5 589.1 287.8C589.3 286.1 589.6 284.4 589.9 282.7C590.2 281.0 590.5 279.3 590.7 277.5C591.0 275.8 591.3 274.1 591.6 272.4C591.9 270.7 592.2 269.0 592.6 267.3C592.9 265.6 593.2 263.9 593.5 262.2C593.8 260.5 594.1 258.8 594.5 257.1C594.8 255.4 595.1 253.7 595.5 252.0C595.8 250.3 596.2 248.6 596.5 246.9C596.9 245.2 597.2 243.5 597.6 241.8C597.9 240.1 598.3 238.4 598.7 236.7C599.0 235.0 599.4 233.4 599.8 231.7C600.2 230.0 600.6 228.3 600.9 226.6C601.3 224.9 601.7 223.2 602.1 221.5C602.5 219.8 602.9 218.2 603.3 216.5C603.7 214.8 604.1 213.1 604.5 211.4C604.9 209.7 605.4 208.1 605.8 206.4C606.2 204.7 606.6 203.0 607.0 201.3C607.5 199.7 607.9 198.0 608.3 196.3C608.8 194.6 609.2 193.0 609.6 191.3C610.1 189.6 610.5 187.9 611.0 186.3C611.4 184.6 611.9 182.9 612.3 181.2C612.8 179.6 613.2 177.9 613.7 176.2C614.1 174.6 614.6 172.9 615.1 171.2C615.5 169.5 616.0 167.9 616.5 166.2C616.9 164.5 617.4 162.9 617.9 161.2C618.3 159.5 618.8 157.9 619.3 156.2C619.8 154.5 620.3 152.9 620.7 151.2C621.2 149.5 621.7 147.9 622.2 146.2C622.7 144.6 623.2 142.9 623.7 141.2C624.1 139.6 624.6 137.9 625.1 136.2C625.6 134.6 626.1 132.9 626.6 131.3C627.1 129.6 627.6 127.9 628.1 126.3C628.6 124.6 629.1 123.0 629.6 121.3C630.1 119.6 630.6 118.0 631.1 116.3C631.6 114.7 632.1 113.0 632.6 111.4C633.1 109.7 633.6 108.0 634.1 106.4C634.6 104.7 635.1 103.1 635.6 101.4C636.1 99.8 636.6 98.1 637.1 96.4C637.6 94.8 638.1 93.1 638.6 91.5C639.1 89.8 639.8 87.3 640.1 86.5L643.23 89.68C643.6 90.5 644.6 92.9 645.3 94.4C646.0 96.0 646.7 97.6 647.4 99.2C648.0 100.8 648.7 102.4 649.4 104.0C650.0 105.6 650.7 107.2 651.3 108.8C652.0 110.4 652.6 112.0 653.3 113.6C653.9 115.2 654.5 116.8 655.2 118.4C655.8 120.1 656.4 121.7 657.1 123.3C657.7 124.9 658.3 126.5 658.9 128.1C659.5 129.8 660.1 131.4 660.7 133.0C661.3 134.6 661.9 136.2 662.5 137.9C663.1 139.5 663.6 141.1 664.2 142.8C664.8 144.4 665.4 146.0 665.9 147.6C666.5 149.3 667.1 150.9 667.6 152.6C668.2 154.2 668.7 155.8 669.3 157.5C669.8 159.1 670.4 160.7 670.9 162.4C671.4 164.0 672.0 165.7 672.5 167.3C673.0 169.0 673.5 170.6 674.0 172.3C674.6 173.9 675.1 175.6 675.6 177.2C676.1 178.9 676.6 180.5 677.1 182.2C677.6 183.8 678.1 185.5 678.6 187.2C679.0 188.8 679.5 190.5 680.0 192.1C680.5 193.8 681.0 195.5 681.4 197.1C681.9 198.8 682.4 200.5 682.8 202.1C683.3 203.8 683.7 205.5 684.2 207.1C684.6 208.8 685.1 210.5 685.5 212.1C686.0 213.8 686.4 215.5 686.8 217.2C687.3 218.8 687.7 220.5 688.1 222.2C688.6 223.9 689.0 225.5 689.4 227.2C689.8 228.9 690.2 230.6 690.6 232.3C691.0 233.9 691.5 235.6 691.9 237.3C692.3 239.0 692.6 240.7 693.0 242.4C693.4 244.0 693.8 245.7 694.2 247.4C694.6 249.1 695.0 250.8 695.4 252.5C695.7 254.2 696.1 255.9 696.5 257.5C696.8 259.2 697.2 260.9 697.6 262.6C697.9 264.3 698.3 266.0 698.6 267.7C699.0 269.4 699.3 271.1 699.7 272.8C700.0 274.5 700.4 276.2 700.7 277.9C701.1 279.6 701.4 281.3 701.7 282.9C702.1 284.6 702.4 286.3 702.7 288.0C703.0 289.7 703.4 291.4 703.7 293.1C704.0 294.8 704.4 296.7 704.6 298.2C704.9 299.7 705.2 301.5 705.4 302.2" stroke="#0000ff" stroke-dasharray="10.2 4.6" stroke-dashoffset="-1.0"/>
<path d="M757.58 302.20C757.7 301.5 757.9 299.7 758.1 298.2C758.3 296.7 758.6 294.8 758.8 293.1C759.0 291.4 759.3 289.7 759.5 288.0C759.8 286.3 760.0 284.6 760.3 282.9C760.5 281.2 760.8 279.6 761.0 277.9C761.3 276.2 761.6 274.5 761.8 272.8C762.1 271.1 762.4 269.4 762.7 267.7C763.0 266.0 763.3 264.4 763.5 262.7C763.8 261.0 764.1 259.3 764.4 257.6C764.7 255.9 765.0 254.3 765.4 252.6C765.7 250.9 766.0 249.2 766.3 247.5C766.6 245.9 766.9 244.2 767.3 242.5C767.6 240.8 767.9 239.1 768.3 237.5C768.6 235.8 769.0 234.1 769.3 232.4C769.6 230.8 770.0 229.1 770.3 227.4C770.7 225.8 771.1 224.1 771.4 222.4C771.8 220.7 772.1 219.1 772.5 217.4C772.9 215.7 773.2 214.1 773.6 212.4C774.0 210.7 774.4 209.1 774.8 207.4C775.2 205.7 775.5 204.1 775.9 202.4C776.3 200.7 776.7 199.1 777.1 197.4C777.5 195.7 777.9 194.1 778.3 192.4C778.7 190.7 779.1 189.1 779.5 187.4C780.0 185.7 780.4 184.1 780.8 182.4C781.2 180.8 781.6 179.1 782.1 177.4C782.5 175.8 782.9 174.1 783.4 172.4C783.8 170.8 784.2 169.1 784.7 167.5C785.1 165.8 785.5 164.1 786.0 162.5C786.4 160.8 786.9 159.2 787.3 157.5C787.8 155.8 788.2 154.2 788.7 152.5C789.2 150.9 789.7 149.2 790.1 147.6C790.6 145.9 791.1 144.3 791.6 142.6C792.1 141.0 792.6 139.3 793.1 137.7C793.6 136.1 794.1 134.4 794.6 132.8C795.2 131.2 795.7 129.5 796.2 127.9C796.8 126.3 797.3 124.7 797.9 123.1C798.5 121.5 799.1 119.9 799.6 118.3C800.2 116.7 800.8 115.1 801.4 113.5C802.1 111.9 802.7 110.3 803.3 108.7C804.0 107.1 804.6 105.6 805.3 104.0C806.0 102.5 806.6 100.9 807.3 99.4C808.0 97.8 808.8 96.3 809.5 94.8C810.2 93.2 811.0 91.7 811.8 90.2C812.6 88.7 813.3 87.2 814.2 85.7C815.0 84.3 816.3 82.1 816.7 81.3C817.2 82.1 818.6 83.7 819.5 85.8C820.5 88.0 821.7 91.8 822.5 94.2C823.4 96.6 824.2 99.1 824.5 100.0" stroke="#00ff00" stroke-dasharray="10.2 4.6" stroke-dashoffset="0.8"/>
<path d="M757.18 302.20C757.3 301.5 757.5 299.7 757.7 298.2C757.9 296.7 758.2 294.8 758.4 293.1C758.6 291.4 758.9 289.7 759.1 288.0C759.4 286.3 759.6 284.6 759.9 282.9C760.1 281.2 760.4 279.6 760.6 277.9C760.9 276.2 761.2 274.5 761.4 272.8C761.7 271.1 762.0 269.4 762.3 267.7C762.6 266.0 762.9 264.4 763.1 262.7C763.4 261.0 763.7 259.3 764.0 257.6C764.3 255.9 764.6 254.3 765.0 252.6C765.3 250.9 765.6 249.2 765.9 247.5C766.2 245.9 766.5 244.2 766.9 242.5C767.2 240.8 767.5 239.1 767.9 237.5C768.2 235.8 768.6 234.1 768.9 232.4C769.2 230.8 769.6 229.1 769.9 227.4C770.3 225.8 770.7 224.1 771.0 222.4C771.4 220.7 771.7 219.1 772.1 217.4C772.5 215.7 772.8 214.1 773.2 212.4C773.6 210.7 774.0 209.1 774.4 207.4C774.8 205.7 775.1 204.1 775.5 202.4C775.9 200.7 776.3 199.1 776.7 197.4C777.1 195.7 777.5 194.1 777.9 192.4C778.3 190.7 778.7 189.1 779.1 187.4C779.6 185.7 780.0 184.1 780.4 182.4C780.8 180.8 781.2 179.1 781.7 177.4C782.1 175.8 782.5 174.1 783.0 172.4C783.4 170.8 783.8 169.1 784.3 167.5C784.7 165.8 785.1 164.1 785.6 162.5C786.0 160.8 786.5 159.2 786.9 157.5C787.4 155.8 787.8 154.2 788.3 152.5C788.8 150.9 789.3 149.2 789.7 147.6C790.2 145.9 790.7 144.3 791.2 142.6C791.7 141.0 792.2 139.3 792.7 137.7C793.2 136.1 793.7 134.4 794.2 132.8C794.8 131.2 795.3 129.5 795.8 127.9C796.4 126.3 796.9 124.7 797.5 123.1C798.1 121.5 798.7 119.9 799.2 118.3C799.8 116.7 800.4 115.1 801.0 113.5C801.7 111.9 802.3 110.3 802.9 108.7C803.6 107.1 804.2 105.6 804.9 104.0C805.6 102.5 806.2 100.9 806.9 99.4C807.6 97.8 808.4 96.3 809.1 94.8C809.8 93.2 810.6 91.7 811.4 90.2C812.2 88.7 812.9 87.2 813.8 85.7C814.6 84.3 815.9 82.1 816.3 81.3C816.8 82.1 818.2 83.7 819.1 85.8C820.1 88.0 821.3 91.8 822.1 94.2C823.0 96.6 823.8 99.1 824.1 100.0" stroke="#0000ff" stroke-dasharray="10.2 4.6"/>
</g>
<path d="M470.10 291.93h9.00M822.10 291.93h-9.00M470.10 250.37h9.00M822.10 250.37h-9.00M470.10 218.14h9.00M822.10 218.14h-9.00M470.10 191.80h9.00M822.10 191.80h-9.00M470.10 169.53h9.00M822.10 169.53h-9.00M470.10 150.24h9.00M822.10 150.24h-9.00M470.10 133.22h9.00M822.10 133.22h-9.00M470.10 118.00h9.00M822.10 118.00h-9.00M470.10 104.23h9.00M822.10 104.23h-9.00M470.10 91.66h9.00M822.10 91.66h-9.00M470.10 80.10h9.00M822.10 80.10h-9.00M470.10 69.39h9.00M822.10 69.39h-9.00M470.10 50.10v9.00M470.10 301.90v-9.00M558.10 50.10v9.00M558.10 301.90v-9.00M646.10 50.10v9.00M646.10 301.90v-9.00M734.10 50.10v9.00M734.10 301.90v-9.00M822.10 50.10v9.00M822.10 301.90v-9.00" stroke="#000" stroke-width="1.40" fill="none"/>
<path d="M470.10 218.34h9.50M822.10 218.34h-9.50" stroke="#666" stroke-width="1.0" fill="none" opacity="1"/>
<path d="M470.10 292.13h9.50M822.10 292.13h-9.50" stroke="#666" stroke-width="1.0" fill="none" opacity="1"/>
<rect x="470.10" y="50.10" width="352.00" height="251.80" fill="none" stroke="#000" stroke-width="1.65"/>
<clipPath id="cp3"><rect x="84.00" y="314.60" width="352.00" height="251.30"/></clipPath>
<line x1="84.00" y1="482.50" x2="436.00" y2="482.50" stroke="#666" stroke-width="1.0"/>
<line x1="84.00" y1="556.15" x2="436.00" y2="556.15" stroke="#666" stroke-width="1.0"/>
<g clip-path="url(#cp3)" fill="none" stroke-width="1.45" stroke-linejoin="round">
<path d="M101.63 566.20C101.7 566.0 101.7 566.0 101.8 564.9C102.0 563.8 102.3 561.5 102.5 559.8C102.8 558.1 103.0 556.4 103.2 554.7C103.5 553.0 103.7 551.3 103.9 549.5C104.2 547.8 104.4 546.1 104.6 544.4C104.9 542.7 105.1 541.0 105.3 539.3C105.6 537.6 105.8 535.9 106.0 534.2C106.3 532.6 106.5 530.9 106.8 529.2C107.0 527.5 107.3 525.8 107.5 524.1C107.8 522.4 108.0 520.7 108.3 519.0C108.6 517.3 108.8 515.6 109.1 513.9C109.4 512.3 109.7 510.6 110.0 508.9C110.3 507.2 110.6 505.5 110.9 503.9C111.2 502.2 111.5 500.5 111.8 498.8C112.1 497.2 112.5 495.5 112.8 493.8C113.2 492.1 113.5 490.5 113.9 488.8C114.3 487.2 114.6 485.5 115.0 483.8C115.4 482.2 115.8 480.5 116.2 478.9C116.6 477.2 117.1 475.6 117.5 473.9C118.0 472.3 118.4 470.6 118.9 469.0C119.3 467.3 119.8 465.7 120.3 464.0C120.8 462.4 121.3 460.8 121.9 459.1C122.4 457.5 123.0 455.9 123.5 454.3C124.1 452.6 124.7 451.0 125.3 449.4C125.9 447.8 126.5 446.2 127.1 444.6C127.8 443.0 128.4 441.4 129.1 439.8C129.8 438.2 130.5 436.6 131.2 435.0C131.9 433.4 132.7 431.8 133.4 430.2C134.2 428.6 135.0 427.0 135.8 425.5C136.6 423.9 137.5 422.3 138.3 420.8C139.2 419.3 140.1 417.7 141.0 416.2C141.9 414.8 142.9 413.3 143.9 411.9C144.9 410.5 145.9 409.1 146.9 407.8C148.0 406.4 149.1 405.1 150.2 403.9C151.4 402.7 152.6 401.5 153.8 400.4C155.0 399.3 156.3 398.3 157.6 397.3C158.9 396.4 160.3 395.5 161.7 394.7C163.1 393.9 164.6 393.2 166.1 392.6C167.6 392.0 169.2 391.4 170.8 391.0C172.4 390.6 174.1 390.3 175.8 390.1C177.5 390.0 179.2 389.9 181.0 390.1C182.8 390.2 185.6 390.7 186.5 390.9C187.0 391.5 188.7 393.5 189.8 394.8C190.9 396.2 192.0 397.6 193.0 398.9C194.1 400.3 195.1 401.7 196.1 403.1C197.1 404.5 198.0 405.9 199.0 407.3C199.9 408.8 200.9 410.2 201.8 411.7C202.7 413.1 203.5 414.6 204.4 416.1C205.2 417.5 206.1 419.0 206.9 420.5C207.7 422.0 208.5 423.5 209.2 425.0C210.0 426.6 210.8 428.1 211.5 429.6C212.2 431.2 212.9 432.7 213.6 434.3C214.3 435.8 215.0 437.4 215.6 439.0C216.3 440.6 216.9 442.1 217.5 443.7C218.1 445.3 218.7 446.9 219.3 448.5C219.9 450.2 220.5 451.8 221.0 453.4C221.6 455.0 222.1 456.6 222.6 458.3C223.1 459.9 223.6 461.6 224.1 463.2C224.6 464.9 225.1 466.5 225.6 468.2C226.0 469.8 226.5 471.5 226.9 473.2C227.4 474.8 227.8 476.5 228.2 478.2C228.6 479.9 229.0 481.6 229.4 483.3C229.8 484.9 230.2 486.6 230.5 488.3C230.9 490.0 231.3 491.7 231.6 493.4C232.0 495.1 232.3 496.8 232.6 498.5C232.9 500.2 233.3 501.9 233.6 503.7C233.9 505.4 234.2 507.1 234.5 508.8C234.8 510.5 235.1 512.2 235.4 513.9C235.7 515.6 235.9 517.4 236.2 519.1C236.5 520.8 236.7 522.5 237.0 524.2C237.3 525.9 237.5 527.7 237.8 529.4C238.0 531.1 238.3 532.8 238.5 534.5C238.8 536.2 239.0 537.9 239.2 539.7C239.5 541.4 239.7 543.1 239.9 544.8C240.2 546.5 240.4 548.2 240.6 549.9C240.9 551.6 241.1 553.3 241.3 555.0C241.5 556.7 241.8 558.4 242.0 560.1C242.2 561.7 242.5 564.1 242.7 565.1C242.8 566.1 242.8 566.0 242.8 566.2" stroke="#ff0000"/>
<path d="M276.73 566.20C276.7 566.2 276.5 568.4 276.8 566.0C277.0 563.5 277.7 555.5 278.1 551.8C278.5 548.0 278.9 545.9 279.3 543.4C279.6 540.9 280.2 537.9 280.4 536.8C280.8 537.7 281.4 540.8 282.5 542.2C283.6 543.7 285.4 545.2 286.8 545.3C288.2 545.4 289.6 543.9 290.8 542.9C292.0 541.8 293.1 540.3 294.1 538.9C295.2 537.6 296.1 536.1 297.0 534.6C297.9 533.1 298.6 531.6 299.4 530.0C300.1 528.4 300.8 526.8 301.4 525.1C302.0 523.4 302.6 521.7 303.2 520.0C303.7 518.3 304.2 516.5 304.8 514.8C305.3 513.0 305.7 511.3 306.2 509.5C306.7 507.7 307.2 506.0 307.7 504.2C308.2 502.4 308.7 500.7 309.2 498.9C309.7 497.2 310.3 495.5 310.9 493.8C311.4 492.1 312.0 490.4 312.7 488.7C313.3 487.0 314.0 485.4 314.7 483.7C315.4 482.1 316.1 480.5 316.8 478.9C317.6 477.3 318.4 475.7 319.2 474.2C320.0 472.6 320.9 471.1 321.8 469.6C322.7 468.1 323.6 466.6 324.6 465.1C325.6 463.7 326.6 462.2 327.6 460.8C328.7 459.4 329.8 458.0 330.9 456.6C332.1 455.2 333.3 453.9 334.5 452.6C335.8 451.3 337.0 449.9 338.4 448.7C339.7 447.5 341.1 446.3 342.6 445.3C344.0 444.2 345.6 443.3 347.1 442.5C348.7 441.8 350.4 441.2 352.1 440.8C353.9 440.5 356.7 440.5 357.6 440.4C358.1 441.1 359.8 443.2 360.8 444.6C361.9 446.0 362.9 447.4 363.9 448.8C364.9 450.3 365.8 451.7 366.7 453.2C367.6 454.7 368.5 456.2 369.3 457.7C370.2 459.2 371.0 460.7 371.8 462.2C372.6 463.7 373.4 465.3 374.1 466.8C374.9 468.4 375.6 470.0 376.3 471.5C377.0 473.1 377.7 474.7 378.3 476.3C379.0 477.9 379.7 479.5 380.3 481.1C380.9 482.8 381.6 484.4 382.2 486.0C382.8 487.7 383.4 489.3 384.0 490.9C384.6 492.6 385.2 494.2 385.8 495.9C386.4 497.6 387.0 499.2 387.5 500.9C388.1 502.6 388.7 504.2 389.3 505.9C389.9 507.6 390.5 509.3 391.1 510.9C391.7 512.6 392.3 514.3 392.9 516.0C393.5 517.6 394.1 519.3 394.8 521.0C395.5 522.6 396.1 524.3 396.9 525.9C397.6 527.5 398.4 529.0 399.3 530.5C400.1 531.9 401.1 533.4 402.1 534.6C403.2 535.8 404.3 537.4 405.6 538.0C406.9 538.5 408.4 538.5 409.8 538.0C411.3 537.5 413.5 535.3 414.3 534.7C414.6 535.7 415.4 538.4 415.9 540.3C416.4 542.2 416.7 544.1 417.1 546.0C417.4 547.9 417.7 549.8 418.0 551.8C418.2 553.7 418.5 555.7 418.7 557.6C418.9 559.6 419.1 562.1 419.2 563.5C419.4 564.9 419.5 565.7 419.5 566.2" stroke="#ff0000"/>
<path d="M98.86 566.20C98.9 566.0 98.9 566.0 99.1 564.9C99.2 563.9 99.6 561.5 99.9 559.8C100.1 558.1 100.4 556.4 100.6 554.7C100.9 553.0 101.1 551.3 101.3 549.6C101.6 547.8 101.8 546.1 102.0 544.4C102.3 542.7 102.5 541.0 102.7 539.3C102.9 537.5 103.2 535.8 103.4 534.1C103.6 532.4 103.8 530.7 104.1 528.9C104.3 527.2 104.5 525.5 104.7 523.8C105.0 522.1 105.2 520.3 105.4 518.6C105.6 516.9 105.9 515.2 106.1 513.5C106.3 511.8 106.6 510.0 106.8 508.3C107.1 506.6 107.3 504.9 107.6 503.2C107.8 501.5 108.1 499.8 108.3 498.0C108.6 496.3 108.9 494.6 109.2 492.9C109.4 491.2 109.7 489.5 110.0 487.8C110.3 486.1 110.6 484.4 111.0 482.7C111.3 481.0 111.6 479.3 111.9 477.6C112.3 475.9 112.6 474.3 113.0 472.6C113.4 470.9 113.7 469.2 114.1 467.5C114.5 465.8 114.9 464.2 115.3 462.5C115.7 460.8 116.2 459.2 116.6 457.5C117.1 455.8 117.5 454.2 118.0 452.5C118.5 450.9 119.0 449.2 119.5 447.6C120.0 446.0 120.5 444.3 121.1 442.7C121.6 441.0 122.2 439.4 122.8 437.8C123.3 436.2 123.9 434.6 124.6 432.9C125.2 431.3 125.8 429.7 126.5 428.1C127.2 426.5 127.9 424.9 128.6 423.4C129.3 421.8 130.0 420.2 130.8 418.6C131.6 417.0 132.4 415.5 133.2 413.9C134.0 412.4 134.8 410.8 135.7 409.3C136.5 407.7 137.4 406.2 138.3 404.7C139.3 403.1 140.2 401.6 141.2 400.1C142.1 398.6 143.2 397.2 144.2 395.8C145.2 394.4 146.3 393.0 147.4 391.7C148.6 390.3 149.7 389.1 150.9 387.9C152.1 386.7 153.4 385.6 154.6 384.6C155.9 383.6 157.3 382.7 158.7 381.8C160.1 381.0 161.5 380.3 163.0 379.7C164.5 379.1 166.0 378.6 167.6 378.3C169.2 378.0 170.9 377.8 172.6 377.7C174.3 377.7 176.2 377.8 178.0 378.1C179.8 378.3 181.7 378.7 183.5 379.2C185.3 379.7 187.1 380.4 188.9 381.1C190.6 381.8 192.2 382.6 193.8 383.4C195.3 384.3 196.6 385.2 198.0 386.1C199.3 387.1 200.5 388.1 201.9 389.0C203.3 389.9 205.6 391.2 206.3 391.7C206.7 392.5 207.8 394.9 208.5 396.5C209.3 398.1 210.0 399.7 210.7 401.3C211.4 402.9 212.0 404.5 212.7 406.1C213.3 407.8 214.0 409.4 214.6 411.0C215.2 412.6 215.8 414.3 216.4 415.9C217.0 417.5 217.6 419.2 218.2 420.8C218.7 422.5 219.3 424.1 219.8 425.8C220.4 427.4 220.9 429.1 221.4 430.8C221.9 432.4 222.4 434.1 222.9 435.8C223.4 437.4 223.8 439.1 224.3 440.8C224.7 442.5 225.2 444.2 225.6 445.8C226.1 447.5 226.5 449.2 226.9 450.9C227.3 452.6 227.7 454.3 228.1 456.0C228.5 457.7 228.9 459.4 229.2 461.1C229.6 462.8 229.9 464.5 230.3 466.2C230.6 467.9 231.0 469.6 231.3 471.3C231.7 473.0 232.0 474.8 232.3 476.5C232.6 478.2 232.9 479.9 233.2 481.6C233.5 483.4 233.8 485.1 234.1 486.8C234.4 488.5 234.7 490.3 234.9 492.0C235.2 493.7 235.5 495.4 235.7 497.2C236.0 498.9 236.2 500.6 236.5 502.4C236.7 504.1 237.0 505.8 237.2 507.6C237.5 509.3 237.7 511.0 237.9 512.8C238.2 514.5 238.4 516.2 238.6 518.0C238.9 519.7 239.1 521.4 239.3 523.2C239.5 524.9 239.7 526.7 239.9 528.4C240.2 530.1 240.4 531.9 240.6 533.6C240.8 535.3 241.0 537.1 241.2 538.8C241.4 540.5 241.6 542.3 241.8 544.0C242.1 545.8 242.3 547.5 242.5 549.2C242.7 551.0 242.9 552.7 243.1 554.4C243.3 556.1 243.5 557.9 243.7 559.6C244.0 561.3 244.2 563.7 244.4 564.8C244.5 565.9 244.5 566.0 244.6 566.2" stroke="#00ff00"/>
<path d="M274.85 566.20C274.9 566.0 274.9 565.9 275.0 564.8C275.2 563.7 275.4 561.3 275.7 559.6C275.9 557.8 276.1 556.1 276.3 554.4C276.5 552.6 276.7 550.9 276.9 549.2C277.1 547.4 277.3 545.7 277.5 543.9C277.7 542.2 277.9 540.5 278.2 538.7C278.4 537.0 278.6 535.2 278.8 533.5C279.0 531.7 279.3 530.0 279.5 528.3C279.7 526.5 279.9 524.8 280.2 523.0C280.4 521.3 280.6 519.5 280.9 517.8C281.1 516.1 281.4 514.3 281.6 512.6C281.9 510.8 282.1 509.1 282.4 507.4C282.7 505.6 282.9 503.9 283.2 502.1C283.5 500.4 283.8 498.7 284.1 496.9C284.4 495.2 284.7 493.5 285.0 491.7C285.3 490.0 285.6 488.3 285.9 486.6C286.2 484.8 286.6 483.1 286.9 481.4C287.2 479.7 287.6 478.0 288.0 476.3C288.3 474.5 288.7 472.8 289.1 471.1C289.5 469.4 289.9 467.7 290.3 466.0C290.7 464.3 291.1 462.6 291.5 460.9C292.0 459.2 292.4 457.5 292.8 455.9C293.3 454.2 293.8 452.5 294.3 450.8C294.7 449.1 295.2 447.5 295.7 445.8C296.3 444.1 296.8 442.5 297.3 440.8C297.9 439.2 298.4 437.5 299.0 435.9C299.5 434.2 300.1 432.6 300.7 430.9C301.3 429.3 301.9 427.7 302.6 426.1C303.2 424.4 303.9 422.8 304.5 421.2C305.2 419.6 305.9 418.0 306.6 416.4C307.3 414.8 308.0 413.2 308.8 411.6C309.5 410.0 310.3 408.4 311.0 406.9C311.8 405.3 312.6 403.7 313.4 402.2C314.3 400.6 315.5 398.3 316.0 397.5C316.7 397.2 319.0 396.1 320.6 395.5C322.3 394.8 324.0 394.2 325.8 393.7C327.5 393.3 329.3 392.9 331.1 392.7C332.8 392.5 334.6 392.5 336.3 392.7C338.0 392.9 339.7 393.4 341.3 393.9C342.9 394.5 344.5 395.2 346.0 396.0C347.6 396.8 349.0 397.7 350.4 398.7C351.9 399.7 353.2 400.7 354.5 401.8C355.8 402.9 357.0 404.0 358.2 405.2C359.5 406.5 360.6 407.7 361.7 409.0C362.8 410.3 363.9 411.7 364.9 413.1C365.9 414.5 366.9 415.9 367.8 417.4C368.8 418.8 369.7 420.3 370.6 421.9C371.4 423.4 372.3 425.0 373.1 426.5C373.9 428.1 374.7 429.7 375.4 431.3C376.2 432.9 376.9 434.6 377.6 436.2C378.3 437.8 379.0 439.5 379.7 441.1C380.4 442.8 381.0 444.4 381.7 446.1C382.3 447.7 382.9 449.4 383.5 451.0C384.2 452.7 384.8 454.3 385.4 455.9C386.0 457.6 386.6 459.2 387.2 460.8C387.9 462.4 388.5 464.0 389.1 465.6C389.8 467.2 390.5 468.8 391.1 470.4C391.8 472.0 392.5 473.5 393.3 475.1C394.0 476.6 394.8 478.2 395.6 479.7C396.4 481.3 397.2 482.8 398.1 484.3C399.0 485.8 399.9 487.3 400.9 488.7C401.9 490.2 402.9 491.8 404.1 492.9C405.2 494.0 406.4 495.2 407.8 495.3C409.3 495.4 411.8 494.0 412.6 493.7C412.8 494.5 413.3 495.7 413.8 498.4C414.3 501.0 415.2 507.8 415.5 509.7C415.6 510.6 416.2 513.3 416.5 515.1C416.9 516.9 417.2 518.7 417.5 520.5C417.8 522.3 418.0 524.1 418.3 525.9C418.5 527.8 418.8 529.6 419.0 531.4C419.2 533.2 419.4 535.0 419.6 536.8C419.8 538.7 420.0 540.5 420.2 542.3C420.4 544.1 420.5 546.0 420.7 547.8C420.9 549.6 421.0 551.4 421.2 553.3C421.4 555.1 421.5 556.9 421.7 558.7C421.9 560.6 422.1 563.0 422.2 564.2C422.4 565.5 422.4 565.9 422.4 566.2" stroke="#00ff00"/>
<path d="M98.05 566.20C98.1 566.0 98.1 566.0 98.2 565.0C98.4 564.0 98.7 561.6 99.0 559.9C99.2 558.2 99.4 556.5 99.7 554.8C99.9 553.1 100.1 551.4 100.4 549.7C100.6 548.1 100.8 546.4 101.0 544.7C101.2 543.0 101.5 541.3 101.7 539.6C101.9 537.9 102.1 536.2 102.4 534.5C102.6 532.8 102.8 531.1 103.0 529.4C103.2 527.7 103.5 526.0 103.7 524.3C103.9 522.6 104.1 520.9 104.4 519.2C104.6 517.5 104.8 515.8 105.1 514.1C105.3 512.4 105.6 510.7 105.8 509.0C106.1 507.3 106.3 505.6 106.6 504.0C106.8 502.3 107.1 500.6 107.4 498.9C107.6 497.2 107.9 495.5 108.2 493.8C108.5 492.1 108.7 490.5 109.0 488.8C109.3 487.1 109.6 485.4 110.0 483.8C110.3 482.1 110.6 480.4 110.9 478.7C111.3 477.1 111.6 475.4 112.0 473.7C112.3 472.1 112.7 470.4 113.0 468.7C113.4 467.1 113.8 465.4 114.2 463.8C114.6 462.1 115.0 460.5 115.4 458.8C115.9 457.2 116.3 455.5 116.7 453.9C117.2 452.3 117.7 450.6 118.1 449.0C118.6 447.3 119.1 445.7 119.6 444.1C120.1 442.5 120.7 440.8 121.2 439.2C121.7 437.6 122.3 436.0 122.9 434.4C123.4 432.8 124.0 431.2 124.7 429.6C125.3 428.0 125.9 426.4 126.5 424.8C127.2 423.2 127.9 421.6 128.5 420.0C129.2 418.5 129.9 416.9 130.7 415.3C131.4 413.8 132.1 412.2 132.9 410.6C133.7 409.1 134.5 407.5 135.3 406.0C136.1 404.4 136.9 402.9 137.8 401.4C138.7 399.8 139.6 398.3 140.5 396.8C141.4 395.3 142.4 393.9 143.4 392.4C144.4 391.0 145.4 389.6 146.5 388.3C147.6 387.0 148.7 385.7 149.9 384.5C151.1 383.3 152.3 382.2 153.6 381.1C154.9 380.1 156.3 379.1 157.7 378.2C159.1 377.4 160.6 376.6 162.1 375.9C163.7 375.3 165.2 374.7 166.8 374.3C168.4 373.9 170.0 373.6 171.6 373.4C173.3 373.3 174.9 373.3 176.5 373.4C178.2 373.6 179.8 373.9 181.4 374.3C183.0 374.7 184.6 375.3 186.2 376.0C187.8 376.6 189.4 377.4 190.9 378.3C192.4 379.1 193.9 380.1 195.4 381.1C196.8 382.1 198.3 383.2 199.6 384.3C201.0 385.5 202.3 386.7 203.5 387.8C204.8 389.0 206.5 390.8 207.1 391.4C207.5 392.2 208.6 394.6 209.3 396.2C210.0 397.8 210.7 399.4 211.4 401.0C212.1 402.6 212.8 404.3 213.4 405.9C214.1 407.5 214.7 409.1 215.3 410.8C215.9 412.4 216.5 414.1 217.1 415.7C217.7 417.4 218.3 419.0 218.8 420.7C219.4 422.3 219.9 424.0 220.5 425.6C221.0 427.3 221.5 428.9 222.0 430.6C222.5 432.3 223.0 434.0 223.5 435.6C224.0 437.3 224.4 439.0 224.9 440.7C225.3 442.3 225.8 444.0 226.2 445.7C226.6 447.4 227.1 449.1 227.5 450.8C227.9 452.5 228.3 454.2 228.7 455.9C229.1 457.6 229.4 459.3 229.8 461.0C230.2 462.7 230.5 464.4 230.9 466.1C231.2 467.8 231.6 469.5 231.9 471.2C232.2 473.0 232.6 474.7 232.9 476.4C233.2 478.1 233.5 479.8 233.8 481.5C234.1 483.3 234.4 485.0 234.7 486.7C235.0 488.4 235.3 490.2 235.6 491.9C235.8 493.6 236.1 495.4 236.4 497.1C236.6 498.8 236.9 500.5 237.1 502.3C237.4 504.0 237.6 505.7 237.9 507.5C238.1 509.2 238.4 510.9 238.6 512.7C238.8 514.4 239.1 516.2 239.3 517.9C239.5 519.6 239.8 521.4 240.0 523.1C240.2 524.8 240.4 526.6 240.6 528.3C240.9 530.1 241.1 531.8 241.3 533.5C241.5 535.3 241.7 537.0 241.9 538.7C242.1 540.5 242.3 542.2 242.6 544.0C242.8 545.7 243.0 547.4 243.2 549.2C243.4 550.9 243.6 552.6 243.8 554.4C244.0 556.1 244.2 557.8 244.4 559.6C244.7 561.3 244.9 563.7 245.1 564.8C245.2 565.9 245.2 566.0 245.3 566.2" stroke="#0000ff"/>
<path d="M274.17 566.20C274.2 566.0 274.2 566.0 274.3 564.9C274.4 563.9 274.7 561.6 274.9 559.8C275.1 558.1 275.3 556.4 275.5 554.7C275.7 553.0 276.0 551.3 276.2 549.6C276.4 547.9 276.6 546.2 276.8 544.5C277.0 542.8 277.2 541.1 277.4 539.4C277.6 537.7 277.8 536.0 278.1 534.3C278.3 532.6 278.5 530.8 278.7 529.1C278.9 527.4 279.2 525.7 279.4 524.0C279.6 522.3 279.9 520.6 280.1 518.9C280.3 517.2 280.6 515.5 280.8 513.8C281.1 512.1 281.3 510.4 281.6 508.7C281.8 507.0 282.1 505.3 282.4 503.6C282.6 501.9 282.9 500.2 283.2 498.5C283.5 496.8 283.8 495.1 284.1 493.4C284.3 491.7 284.6 490.0 284.9 488.3C285.3 486.6 285.6 484.9 285.9 483.2C286.2 481.5 286.5 479.8 286.9 478.1C287.2 476.5 287.6 474.8 287.9 473.1C288.3 471.4 288.6 469.7 289.0 468.0C289.4 466.4 289.7 464.7 290.1 463.0C290.5 461.4 290.9 459.7 291.3 458.0C291.7 456.4 292.2 454.7 292.6 453.0C293.0 451.4 293.4 449.7 293.9 448.1C294.4 446.4 294.8 444.8 295.3 443.1C295.8 441.5 296.2 439.8 296.7 438.2C297.2 436.6 297.7 434.9 298.3 433.3C298.8 431.7 299.3 430.0 299.9 428.4C300.4 426.8 301.0 425.2 301.6 423.6C302.1 421.9 302.7 420.3 303.3 418.7C303.9 417.1 304.5 415.5 305.2 413.9C305.8 412.3 306.4 410.7 307.1 409.2C307.8 407.6 308.4 406.0 309.1 404.4C309.8 402.8 310.5 401.3 311.2 399.7C312.0 398.1 313.1 395.8 313.5 395.0C314.2 394.7 316.4 393.7 317.9 392.9C319.5 392.1 321.1 391.1 322.7 390.3C324.3 389.5 326.0 388.6 327.7 388.0C329.4 387.4 331.2 386.9 332.9 386.7C334.6 386.5 336.3 386.7 338.0 387.0C339.6 387.4 341.3 388.0 342.9 388.7C344.5 389.4 346.1 390.3 347.5 391.2C349.0 392.1 350.4 393.1 351.8 394.2C353.1 395.3 354.4 396.4 355.6 397.6C356.9 398.7 358.0 400.0 359.2 401.3C360.3 402.5 361.4 403.9 362.4 405.3C363.4 406.6 364.4 408.1 365.3 409.5C366.3 411.0 367.2 412.5 368.1 414.0C368.9 415.5 369.8 417.0 370.6 418.6C371.4 420.2 372.2 421.8 372.9 423.4C373.7 425.0 374.4 426.6 375.1 428.3C375.9 429.9 376.6 431.5 377.3 433.2C378.0 434.8 378.6 436.5 379.3 438.1C380.0 439.8 380.7 441.4 381.3 443.0C382.0 444.6 382.7 446.3 383.3 447.9C384.0 449.5 384.6 451.1 385.3 452.7C385.9 454.3 386.6 455.9 387.2 457.5C387.8 459.2 388.4 460.8 389.0 462.4C389.7 464.0 390.3 465.6 390.9 467.2C391.4 468.7 392.0 470.3 392.6 471.9C393.2 473.6 393.7 475.1 394.3 476.8C394.8 478.4 395.3 480.0 395.9 481.6C396.4 483.2 397.0 484.9 397.5 486.5C398.1 488.2 398.6 489.9 399.2 491.6C399.8 493.3 400.4 495.1 401.1 496.9C401.8 498.6 402.4 500.5 403.2 502.2C404.0 503.9 404.8 505.6 405.7 507.0C406.6 508.4 407.6 509.7 408.7 510.6C409.9 511.6 411.3 512.7 412.5 512.5C413.7 512.3 415.4 509.8 416.0 509.2C416.1 510.1 416.5 512.9 416.8 514.7C417.0 516.5 417.3 518.3 417.5 520.2C417.8 522.0 418.0 523.8 418.2 525.6C418.5 527.5 418.7 529.3 418.9 531.1C419.1 533.0 419.3 534.8 419.5 536.6C419.7 538.5 419.9 540.3 420.1 542.1C420.3 544.0 420.5 545.8 420.6 547.6C420.8 549.5 421.0 551.3 421.2 553.1C421.4 555.0 421.6 556.8 421.7 558.6C421.9 560.5 422.2 562.9 422.3 564.1C422.4 565.4 422.5 565.9 422.5 566.2" stroke="#0000ff"/>
<path d="M99.40 566.20C99.4 566.0 99.4 566.0 99.6 564.9C99.7 563.8 100.0 561.5 100.2 559.8C100.4 558.0 100.6 556.3 100.9 554.6C101.1 552.9 101.3 551.2 101.5 549.5C101.8 547.8 102.0 546.1 102.3 544.4C102.5 542.7 102.7 541.0 103.0 539.3C103.2 537.6 103.5 535.9 103.7 534.2C104.0 532.4 104.3 530.7 104.5 529.0C104.8 527.3 105.0 525.6 105.3 523.9C105.6 522.2 105.8 520.5 106.1 518.8C106.4 517.1 106.7 515.4 106.9 513.7C107.2 512.0 107.5 510.3 107.8 508.6C108.1 506.9 108.4 505.2 108.7 503.5C108.9 501.8 109.2 500.1 109.5 498.4C109.8 496.7 110.1 495.0 110.4 493.3C110.7 491.6 111.0 489.9 111.3 488.2C111.6 486.5 111.9 484.8 112.3 483.1C112.6 481.4 112.9 479.7 113.2 478.1C113.5 476.4 113.8 474.7 114.2 473.0C114.5 471.3 114.8 469.6 115.2 467.9C115.6 466.3 115.9 464.6 116.3 462.9C116.7 461.2 117.0 459.6 117.4 457.9C117.8 456.2 118.3 454.6 118.7 452.9C119.1 451.3 119.6 449.6 120.0 448.0C120.5 446.3 121.0 444.7 121.5 443.0C122.0 441.4 122.5 439.8 123.1 438.2C123.6 436.5 124.2 434.9 124.8 433.3C125.4 431.7 126.0 430.1 126.6 428.5C127.3 426.9 128.0 425.3 128.7 423.7C129.4 422.2 130.1 420.6 130.9 419.0C131.7 417.5 132.5 415.9 133.3 414.4C134.1 412.8 135.0 411.3 135.9 409.8C136.8 408.3 137.7 406.8 138.7 405.3C139.7 403.8 140.7 402.3 141.7 400.8C142.8 399.4 143.9 397.9 145.0 396.6C146.1 395.2 147.3 393.9 148.5 392.6C149.7 391.4 150.9 390.1 152.2 389.0C153.5 387.9 154.8 386.8 156.1 385.9C157.5 385.0 158.9 384.1 160.3 383.3C161.7 382.6 163.2 381.9 164.7 381.4C166.2 380.9 167.7 380.5 169.3 380.3C170.8 380.0 172.4 379.9 174.1 380.0C175.7 380.0 177.4 380.3 179.1 380.6C180.8 380.9 182.6 381.5 184.3 382.1C186.0 382.7 187.7 383.4 189.3 384.2C191.0 385.1 192.6 386.0 194.2 387.0C195.8 388.0 197.3 389.1 198.7 390.2C200.1 391.3 201.5 392.5 202.7 393.7C204.0 394.9 205.2 396.1 206.3 397.3C207.4 398.5 208.8 400.3 209.3 400.9C209.7 401.7 210.9 404.1 211.6 405.7C212.4 407.3 213.1 408.9 213.8 410.5C214.5 412.1 215.2 413.7 215.8 415.3C216.5 417.0 217.1 418.6 217.8 420.2C218.4 421.9 219.0 423.5 219.6 425.1C220.2 426.8 220.8 428.4 221.3 430.1C221.9 431.8 222.4 433.4 222.9 435.1C223.4 436.8 223.9 438.4 224.4 440.1C224.9 441.8 225.4 443.5 225.9 445.2C226.3 446.8 226.8 448.5 227.2 450.2C227.6 451.9 228.0 453.6 228.5 455.3C228.9 457.0 229.3 458.7 229.6 460.4C230.0 462.1 230.4 463.9 230.7 465.6C231.1 467.3 231.4 469.0 231.8 470.7C232.1 472.4 232.4 474.2 232.8 475.9C233.1 477.6 233.4 479.4 233.7 481.1C234.0 482.8 234.3 484.6 234.6 486.3C234.8 488.0 235.1 489.8 235.4 491.5C235.7 493.2 235.9 495.0 236.2 496.7C236.4 498.5 236.7 500.2 236.9 502.0C237.2 503.7 237.4 505.4 237.6 507.2C237.9 508.9 238.1 510.7 238.3 512.4C238.5 514.2 238.8 515.9 239.0 517.7C239.2 519.4 239.4 521.2 239.6 522.9C239.8 524.7 240.0 526.4 240.3 528.2C240.5 529.9 240.7 531.7 240.9 533.4C241.1 535.2 241.3 536.9 241.5 538.7C241.7 540.4 241.9 542.2 242.1 543.9C242.3 545.7 242.6 547.4 242.8 549.1C243.0 550.9 243.2 552.6 243.4 554.4C243.6 556.1 243.9 557.8 244.1 559.6C244.3 561.3 244.6 563.7 244.8 564.8C244.9 565.9 244.9 566.0 245.0 566.2" stroke="#ff00ff"/>
<path d="M274.24 566.20C274.3 566.0 274.3 566.1 274.4 565.0C274.5 564.0 274.8 561.7 275.0 560.0C275.2 558.3 275.4 556.6 275.6 554.9C275.8 553.2 276.0 551.5 276.2 549.8C276.4 548.1 276.6 546.3 276.8 544.6C277.0 542.9 277.2 541.2 277.4 539.5C277.6 537.8 277.8 536.1 278.0 534.4C278.2 532.7 278.4 530.9 278.6 529.2C278.8 527.5 279.1 525.8 279.3 524.1C279.5 522.4 279.7 520.7 280.0 518.9C280.2 517.2 280.4 515.5 280.7 513.8C280.9 512.1 281.1 510.4 281.4 508.7C281.7 507.0 281.9 505.3 282.2 503.6C282.5 501.9 282.7 500.1 283.0 498.4C283.3 496.7 283.6 495.0 283.9 493.4C284.2 491.7 284.5 490.0 284.9 488.3C285.2 486.6 285.5 484.9 285.9 483.2C286.2 481.5 286.6 479.9 287.0 478.2C287.4 476.5 287.7 474.8 288.1 473.2C288.5 471.5 289.0 469.9 289.4 468.2C289.8 466.6 290.3 464.9 290.7 463.3C291.2 461.6 291.7 460.0 292.2 458.3C292.7 456.7 293.2 455.1 293.7 453.5C294.2 451.9 294.8 450.2 295.3 448.6C295.9 447.0 296.5 445.4 297.1 443.8C297.7 442.2 298.3 440.7 299.0 439.1C299.6 437.5 300.3 435.9 301.0 434.4C301.6 432.8 302.3 431.3 303.1 429.7C303.8 428.2 304.6 426.7 305.3 425.1C306.1 423.6 306.9 422.1 307.7 420.6C308.5 419.1 309.4 417.6 310.3 416.1C311.1 414.6 312.0 413.2 312.9 411.7C313.9 410.2 314.8 408.8 315.8 407.3C316.8 405.9 318.3 403.8 318.8 403.0C319.7 402.6 322.3 400.9 324.1 400.2C325.8 399.5 327.6 399.1 329.3 398.9C331.0 398.8 332.7 398.8 334.3 399.1C336.0 399.3 337.6 399.8 339.2 400.3C340.8 400.9 342.3 401.7 343.8 402.5C345.3 403.4 346.8 404.4 348.2 405.4C349.6 406.5 351.0 407.6 352.3 408.8C353.7 409.9 354.9 411.2 356.1 412.4C357.4 413.7 358.5 415.0 359.7 416.4C360.8 417.7 361.9 419.1 362.9 420.5C364.0 422.0 365.0 423.4 365.9 424.9C366.9 426.4 367.8 427.9 368.7 429.5C369.6 431.0 370.5 432.6 371.3 434.2C372.1 435.7 372.9 437.4 373.7 439.0C374.5 440.6 375.3 442.2 376.0 443.9C376.7 445.5 377.4 447.2 378.1 448.8C378.8 450.5 379.5 452.2 380.1 453.8C380.8 455.5 381.4 457.1 382.1 458.8C382.7 460.5 383.3 462.1 383.9 463.8C384.5 465.4 385.1 467.0 385.7 468.7C386.3 470.3 386.9 471.9 387.5 473.6C388.1 475.2 388.7 476.8 389.3 478.5C389.9 480.1 390.5 481.7 391.2 483.4C391.8 485.0 392.4 486.6 393.0 488.3C393.7 489.9 394.3 491.6 395.0 493.2C395.6 494.9 396.3 496.5 397.0 498.2C397.7 499.9 398.4 501.6 399.1 503.2C399.9 504.9 400.6 506.7 401.4 508.3C402.2 510.0 403.0 511.9 403.9 513.2C404.9 514.6 405.9 515.9 407.1 516.4C408.4 516.9 410.0 516.8 411.4 516.1C412.8 515.3 414.9 512.4 415.6 511.7C415.8 512.7 416.4 515.5 416.7 517.4C417.1 519.3 417.4 521.2 417.7 523.2C418.0 525.1 418.2 527.0 418.5 528.9C418.8 530.8 419.0 532.7 419.2 534.7C419.5 536.6 419.7 538.5 419.9 540.4C420.1 542.4 420.3 544.3 420.5 546.2C420.7 548.1 420.9 550.1 421.1 552.0C421.2 553.9 421.4 555.9 421.6 557.8C421.8 559.7 422.1 562.2 422.2 563.6C422.3 565.0 422.4 565.8 422.5 566.2" stroke="#ff00ff"/>
<path d="M84.17 451.77C84.5 452.6 85.5 455.1 86.1 456.8C86.8 458.5 87.4 460.3 88.0 462.1C88.5 463.8 89.1 465.6 89.7 467.5C90.3 469.3 90.9 471.1 91.5 472.9C92.1 474.8 92.7 476.6 93.3 478.4C93.9 480.3 94.6 482.1 95.2 483.9C95.9 485.7 96.6 487.5 97.4 489.2C98.1 491.0 98.9 492.7 99.7 494.4C100.6 496.0 101.5 497.7 102.4 499.3C103.4 500.8 104.4 502.4 105.4 503.8C106.5 505.3 107.7 506.7 108.9 508.0C110.2 509.2 111.5 510.4 113.0 511.4C114.5 512.3 116.1 513.1 117.9 513.6C119.7 514.1 122.7 514.3 123.7 514.4L124.39 517.06" stroke="#ff0000" stroke-dasharray="10.2 4.6" stroke-dashoffset="0.0"/>
<path d="M209.97 566.20C210.0 565.8 210.1 565.2 210.3 563.9C210.5 562.5 210.8 560.1 211.1 558.2C211.4 556.3 211.6 554.5 211.9 552.6C212.2 550.7 212.5 548.8 212.8 546.9C213.1 545.1 213.4 543.2 213.7 541.3C214.0 539.4 214.3 537.6 214.7 535.7C215.0 533.8 215.4 532.0 215.8 530.1C216.1 528.3 216.5 526.4 216.9 524.5C217.4 522.7 217.8 520.9 218.3 519.0C218.7 517.2 219.2 515.3 219.7 513.5C220.2 511.7 221.1 509.0 221.4 508.1C222.3 507.8 225.1 507.4 226.7 506.7C228.4 506.0 229.8 505.1 231.1 504.0C232.4 502.9 233.5 501.6 234.6 500.2C235.7 498.9 236.6 497.3 237.6 495.8C238.5 494.2 239.3 492.6 240.1 490.9C240.9 489.2 241.6 487.4 242.4 485.7C243.1 484.0 243.8 482.2 244.5 480.5C245.2 478.7 245.9 477.0 246.6 475.3C247.3 473.6 248.0 471.9 248.7 470.2C249.4 468.5 250.1 466.8 250.8 465.1C251.5 463.4 252.2 461.7 252.9 460.1C253.6 458.4 254.3 456.7 255.0 455.0C255.6 453.4 256.3 451.7 257.0 450.0C257.6 448.4 258.3 446.7 259.0 445.0C259.6 443.3 260.3 441.6 260.9 439.9C261.6 438.3 262.2 436.6 262.8 434.9C263.5 433.1 264.1 431.4 264.7 429.7C265.4 428.0 266.0 426.3 266.6 424.5C267.2 422.8 268.1 420.1 268.4 419.2C268.9 420.0 270.3 422.2 271.2 423.7C272.0 425.2 272.9 426.8 273.7 428.3C274.5 429.9 275.2 431.4 276.0 433.0C276.7 434.6 277.4 436.2 278.1 437.7C278.8 439.3 279.4 440.9 280.0 442.6C280.7 444.2 281.2 445.8 281.8 447.4C282.4 449.1 282.9 450.7 283.5 452.4C284.0 454.0 284.5 455.7 285.0 457.4C285.5 459.0 286.0 460.7 286.4 462.4C286.9 464.1 287.3 465.7 287.8 467.4C288.2 469.1 288.6 470.8 289.0 472.5C289.4 474.2 289.8 475.9 290.2 477.6C290.6 479.3 291.0 481.0 291.4 482.8C291.7 484.5 292.1 486.2 292.5 487.9C292.8 489.6 293.2 491.3 293.6 493.0C293.9 494.7 294.3 496.5 294.7 498.2C295.0 499.9 295.4 501.6 295.7 503.3C296.1 505.0 296.4 506.8 296.8 508.5C297.1 510.2 297.5 511.9 297.8 513.6C298.2 515.3 298.5 517.1 298.9 518.8C299.2 520.5 299.5 522.2 299.9 523.9C300.2 525.7 300.6 527.4 300.9 529.1C301.3 530.8 301.6 532.5 302.0 534.2C302.3 536.0 302.7 537.7 303.0 539.4C303.4 541.1 303.7 542.8 304.1 544.5C304.5 546.2 304.8 547.9 305.2 549.6C305.5 551.4 305.9 553.1 306.3 554.8C306.7 556.5 307.0 558.2 307.4 559.9C307.8 561.6 308.3 563.9 308.6 565.0C308.8 566.0 308.8 566.0 308.9 566.2" stroke="#ff0000" stroke-dasharray="10.2 4.6" stroke-dashoffset="0.0"/>
<path d="M383.28 566.20C383.3 566.0 383.3 565.8 383.5 564.7C383.6 563.6 384.0 561.3 384.2 559.5C384.5 557.8 384.7 556.1 385.0 554.4C385.3 552.6 385.5 550.9 385.8 549.2C386.1 547.4 386.4 545.7 386.7 544.0C386.9 542.3 387.2 540.5 387.5 538.8C387.8 537.1 388.1 535.4 388.4 533.7C388.8 531.9 389.1 530.2 389.4 528.5C389.7 526.8 390.0 525.1 390.4 523.3C390.7 521.6 391.0 519.9 391.4 518.2C391.7 516.5 392.1 514.8 392.4 513.0C392.8 511.3 393.2 509.6 393.5 507.9C393.9 506.2 394.3 504.5 394.7 502.8C395.1 501.1 395.4 499.4 395.8 497.7C396.2 496.0 396.6 494.3 397.0 492.6C397.5 490.9 397.9 489.2 398.3 487.5C398.7 485.8 399.1 484.1 399.6 482.4C400.0 480.7 400.5 479.0 400.9 477.3C401.4 475.6 401.8 473.9 402.3 472.2C402.7 470.6 403.2 468.9 403.7 467.2C404.2 465.5 404.6 463.8 405.1 462.2C405.6 460.5 406.1 458.8 406.6 457.1C407.1 455.5 407.7 453.8 408.2 452.1C408.7 450.4 409.2 448.8 409.8 447.1C410.3 445.5 410.8 443.8 411.4 442.1C411.9 440.5 412.5 438.8 413.1 437.2C413.6 435.5 414.2 433.9 414.8 432.2C415.4 430.6 415.9 428.9 416.5 427.3C417.1 425.6 417.7 424.0 418.4 422.3C419.0 420.7 419.6 419.1 420.2 417.4C420.8 415.8 421.8 413.4 422.1 412.6C422.5 413.4 423.6 416.0 424.2 417.8C424.9 419.5 425.6 421.3 426.2 423.0C426.9 424.8 427.5 426.5 428.1 428.3C428.7 430.1 429.3 431.9 429.9 433.6C430.6 435.4 431.1 437.2 431.8 438.9C432.4 440.7 433.0 442.5 433.6 444.3C434.2 446.0 434.8 447.8 435.4 449.6C436.0 451.3 436.7 453.1 437.3 454.9C438.0 456.6 439.0 459.2 439.3 460.1" stroke="#ff0000" stroke-dasharray="10.2 4.6" stroke-dashoffset="0.0"/>
<path d="M86.34 422.57C86.7 423.4 87.7 425.8 88.4 427.4C89.1 429.0 89.7 430.6 90.4 432.2C91.1 433.8 91.8 435.4 92.5 436.9C93.2 438.5 93.9 440.1 94.6 441.7C95.2 443.3 95.9 444.9 96.6 446.5C97.3 448.1 98.0 449.7 98.8 451.3C99.5 452.8 100.2 454.4 100.9 456.0C101.6 457.6 102.4 459.2 103.1 460.7C103.8 462.3 104.6 463.9 105.3 465.4C106.1 467.0 106.8 468.5 107.6 470.1C108.4 471.6 109.2 473.2 109.9 474.7C110.7 476.3 111.5 477.8 112.2 479.4C113.0 480.9 113.7 482.5 114.4 484.1C115.1 485.6 115.8 487.2 116.4 488.8C117.1 490.4 117.7 492.0 118.3 493.6C118.8 495.3 119.4 496.9 119.9 498.5C120.5 500.2 121.0 501.8 121.5 503.5C122.0 505.1 122.4 506.8 122.9 508.5C123.3 510.2 123.8 511.8 124.2 513.5C124.6 515.2 125.0 516.9 125.4 518.6C125.7 520.3 126.1 522.0 126.4 523.7C126.8 525.4 127.1 527.1 127.5 528.9C127.8 530.6 128.1 532.3 128.4 534.0C128.7 535.7 129.0 537.5 129.3 539.2C129.6 540.9 129.9 542.6 130.2 544.3C130.5 546.1 130.7 547.8 131.0 549.5C131.3 551.2 131.6 553.0 131.9 554.7C132.1 556.4 132.4 558.1 132.7 559.8C133.0 561.5 133.4 563.9 133.6 565.0C133.7 566.0 133.7 566.0 133.8 566.2" stroke="#00ff00" stroke-dasharray="10.2 4.6" stroke-dashoffset="2.0"/>
<path d="M202.05 566.20C202.1 566.0 202.1 566.0 202.3 565.0C202.4 563.9 202.8 561.6 203.1 559.9C203.4 558.2 203.7 556.5 204.0 554.8C204.2 553.1 204.5 551.4 204.8 549.7C205.1 548.0 205.4 546.3 205.6 544.6C205.9 542.9 206.2 541.2 206.5 539.5C206.8 537.8 207.0 536.2 207.3 534.5C207.6 532.8 207.9 531.1 208.2 529.4C208.5 527.7 208.8 526.0 209.1 524.3C209.4 522.6 209.7 520.9 210.0 519.2C210.3 517.5 210.6 515.8 211.0 514.1C211.3 512.5 211.6 510.8 211.9 509.1C212.3 507.4 212.6 505.7 213.0 504.0C213.3 502.4 213.7 500.7 214.0 499.0C214.4 497.3 214.8 495.7 215.1 494.0C215.5 492.3 215.9 490.6 216.3 489.0C216.7 487.3 217.1 485.6 217.5 484.0C218.0 482.3 218.4 480.7 218.9 479.0C219.3 477.4 219.8 475.7 220.2 474.1C220.7 472.4 221.2 470.8 221.7 469.1C222.2 467.5 222.7 465.8 223.2 464.2C223.7 462.6 224.3 461.0 224.8 459.3C225.3 457.7 225.9 456.1 226.5 454.5C227.0 452.8 227.6 451.2 228.2 449.6C228.8 448.0 229.4 446.4 230.0 444.8C230.6 443.2 231.3 441.6 231.9 440.0C232.5 438.4 233.2 436.8 233.8 435.2C234.5 433.6 235.1 432.0 235.8 430.4C236.4 428.8 237.1 427.3 237.8 425.7C238.5 424.1 239.2 422.5 239.8 420.9C240.5 419.4 241.2 417.8 241.9 416.2C242.6 414.6 243.3 413.1 244.1 411.5C244.8 410.0 245.5 408.4 246.2 406.8C246.9 405.3 247.7 403.7 248.4 402.2C249.1 400.6 249.9 399.1 250.6 397.5C251.4 396.0 252.1 394.4 252.9 392.9C253.6 391.4 254.4 389.8 255.1 388.3C255.9 386.8 256.6 385.3 257.4 383.7C258.2 382.2 259.3 379.9 259.7 379.2C260.1 380.0 261.4 382.3 262.2 383.9C263.0 385.4 263.8 387.0 264.6 388.6C265.4 390.1 266.2 391.7 266.9 393.3C267.7 394.8 268.5 396.4 269.2 398.0C270.0 399.6 270.7 401.2 271.5 402.8C272.2 404.3 272.9 405.9 273.6 407.5C274.3 409.1 275.0 410.7 275.7 412.3C276.4 414.0 277.1 415.6 277.7 417.2C278.4 418.8 279.0 420.4 279.6 422.1C280.3 423.7 280.9 425.3 281.5 427.0C282.1 428.6 282.7 430.2 283.3 431.9C283.9 433.5 284.4 435.2 285.0 436.8C285.5 438.5 286.1 440.1 286.6 441.8C287.2 443.5 287.7 445.1 288.2 446.8C288.7 448.5 289.3 450.1 289.8 451.8C290.3 453.5 290.7 455.2 291.2 456.8C291.7 458.5 292.2 460.2 292.7 461.9C293.1 463.6 293.6 465.3 294.0 466.9C294.5 468.6 294.9 470.3 295.4 472.0C295.8 473.7 296.2 475.4 296.6 477.1C297.1 478.8 297.5 480.5 297.9 482.2C298.3 483.9 298.7 485.6 299.1 487.3C299.5 489.0 299.9 490.8 300.3 492.5C300.7 494.2 301.1 495.9 301.5 497.6C301.8 499.3 302.2 501.0 302.6 502.7C303.0 504.4 303.3 506.2 303.7 507.9C304.1 509.6 304.4 511.3 304.8 513.0C305.2 514.7 305.5 516.4 305.9 518.2C306.2 519.9 306.6 521.6 306.9 523.3C307.3 525.0 307.6 526.7 308.0 528.5C308.3 530.2 308.7 531.9 309.0 533.6C309.3 535.3 309.7 537.0 310.0 538.8C310.3 540.5 310.6 542.2 310.9 543.9C311.2 545.7 311.5 547.4 311.8 549.1C312.1 550.8 312.4 552.6 312.7 554.3C312.9 556.0 313.2 557.7 313.5 559.5C313.7 561.2 314.0 563.6 314.2 564.7C314.4 565.8 314.4 565.9 314.4 566.2" stroke="#00ff00" stroke-dasharray="10.2 4.6" stroke-dashoffset="0.5"/>
<path d="M379.04 566.20C379.1 566.0 379.1 566.0 379.2 564.9C379.4 563.8 379.7 561.5 380.0 559.8C380.2 558.1 380.5 556.4 380.8 554.7C381.0 553.0 381.3 551.3 381.5 549.5C381.8 547.8 382.1 546.1 382.3 544.4C382.6 542.7 382.9 541.0 383.1 539.3C383.4 537.6 383.7 535.9 384.0 534.2C384.2 532.5 384.5 530.8 384.8 529.1C385.1 527.4 385.3 525.8 385.6 524.1C385.9 522.4 386.2 520.7 386.5 519.0C386.8 517.3 387.1 515.6 387.4 513.9C387.7 512.2 388.0 510.5 388.3 508.8C388.6 507.1 388.9 505.4 389.2 503.7C389.5 502.0 389.9 500.3 390.2 498.7C390.5 497.0 390.8 495.3 391.2 493.6C391.5 491.9 391.8 490.2 392.2 488.5C392.5 486.8 392.8 485.2 393.2 483.5C393.5 481.8 393.9 480.1 394.2 478.4C394.6 476.7 395.0 475.0 395.3 473.4C395.7 471.7 396.1 470.0 396.4 468.3C396.8 466.6 397.2 464.9 397.6 463.3C398.0 461.6 398.4 459.9 398.8 458.2C399.2 456.5 399.6 454.9 400.0 453.2C400.4 451.5 400.8 449.8 401.2 448.2C401.6 446.5 402.0 444.8 402.5 443.2C402.9 441.5 403.3 439.8 403.8 438.1C404.2 436.5 404.6 434.8 405.1 433.1C405.5 431.5 406.0 429.8 406.5 428.2C406.9 426.5 407.4 424.8 407.9 423.2C408.4 421.5 408.8 419.9 409.3 418.2C409.8 416.6 410.4 414.9 410.9 413.3C411.4 411.7 411.9 410.0 412.5 408.4C413.0 406.8 413.6 405.2 414.2 403.6C414.8 402.0 415.4 400.4 416.0 398.8C416.6 397.2 417.2 395.6 417.9 394.0C418.6 392.4 419.2 390.9 419.9 389.3C420.6 387.8 421.8 385.5 422.1 384.7C422.9 386.1 425.2 390.3 426.8 393.4C428.4 396.5 430.3 400.3 431.8 403.4C433.3 406.4 434.7 408.9 436.0 411.7C437.2 414.5 438.8 418.7 439.3 420.1" stroke="#00ff00" stroke-dasharray="10.2 4.6" stroke-dashoffset="1.0"/>
<path d="M86.67 418.40C87.0 419.2 87.9 421.6 88.5 423.2C89.1 424.8 89.7 426.5 90.3 428.1C90.9 429.7 91.5 431.3 92.1 432.9C92.7 434.5 93.3 436.1 93.9 437.7C94.6 439.4 95.2 441.0 95.8 442.6C96.4 444.2 97.1 445.8 97.7 447.4C98.3 449.0 99.0 450.6 99.6 452.2C100.3 453.7 101.0 455.3 101.6 456.9C102.3 458.5 103.0 460.1 103.7 461.6C104.4 463.2 105.1 464.8 105.8 466.3C106.5 467.9 107.3 469.4 108.0 471.0C108.8 472.5 109.5 474.0 110.3 475.6C111.0 477.1 111.8 478.6 112.5 480.2C113.3 481.7 114.0 483.3 114.7 484.8C115.4 486.4 116.1 488.0 116.7 489.6C117.3 491.1 117.9 492.7 118.5 494.3C119.1 495.9 119.6 497.6 120.2 499.2C120.7 500.8 121.2 502.5 121.7 504.1C122.2 505.7 122.6 507.4 123.1 509.1C123.5 510.7 123.9 512.4 124.3 514.1C124.7 515.7 125.1 517.4 125.5 519.1C125.9 520.8 126.2 522.5 126.6 524.2C126.9 525.9 127.2 527.6 127.6 529.3C127.9 531.0 128.2 532.7 128.5 534.4C128.8 536.1 129.1 537.8 129.4 539.5C129.7 541.2 129.9 542.9 130.2 544.6C130.5 546.3 130.8 548.0 131.0 549.8C131.3 551.5 131.6 553.2 131.9 554.9C132.1 556.6 132.4 558.3 132.7 560.0C133.0 561.7 133.4 564.0 133.6 565.1C133.7 566.1 133.7 566.0 133.8 566.2" stroke="#0000ff" stroke-dasharray="10.2 4.6" stroke-dashoffset="0.0"/>
<path d="M201.95 566.20C202.0 566.0 202.0 565.9 202.2 564.8C202.4 563.7 202.7 561.4 203.0 559.7C203.3 558.0 203.6 556.2 203.8 554.5C204.1 552.8 204.4 551.1 204.7 549.4C205.0 547.6 205.2 545.9 205.5 544.2C205.8 542.5 206.1 540.8 206.4 539.0C206.7 537.3 207.0 535.6 207.3 533.9C207.6 532.2 207.9 530.5 208.2 528.7C208.5 527.0 208.8 525.3 209.1 523.6C209.4 521.9 209.7 520.2 210.1 518.5C210.4 516.8 210.7 515.1 211.1 513.3C211.4 511.6 211.7 509.9 212.1 508.2C212.4 506.5 212.8 504.8 213.2 503.1C213.5 501.4 213.9 499.7 214.3 498.0C214.7 496.3 215.1 494.7 215.5 493.0C215.9 491.3 216.3 489.6 216.7 487.9C217.1 486.2 217.5 484.5 218.0 482.9C218.4 481.2 218.9 479.5 219.3 477.8C219.8 476.2 220.3 474.5 220.8 472.8C221.3 471.2 221.7 469.5 222.3 467.8C222.8 466.2 223.3 464.5 223.8 462.9C224.4 461.2 224.9 459.6 225.5 457.9C226.0 456.3 226.6 454.7 227.2 453.0C227.7 451.4 228.3 449.7 228.9 448.1C229.5 446.5 230.1 444.9 230.8 443.2C231.4 441.6 232.0 440.0 232.6 438.4C233.3 436.7 233.9 435.1 234.6 433.5C235.2 431.9 235.9 430.3 236.5 428.7C237.2 427.1 237.9 425.5 238.5 423.9C239.2 422.3 239.9 420.7 240.6 419.1C241.3 417.5 242.0 415.9 242.7 414.3C243.4 412.7 244.1 411.1 244.8 409.5C245.5 407.9 246.2 406.3 246.9 404.7C247.6 403.1 248.4 401.5 249.1 400.0C249.8 398.4 250.5 396.8 251.3 395.2C252.0 393.6 252.7 392.1 253.4 390.5C254.2 388.9 254.9 387.3 255.6 385.8C256.4 384.2 257.1 382.6 257.9 381.1C258.6 379.5 259.7 377.1 260.1 376.3C260.5 377.1 261.9 379.3 262.8 380.8C263.7 382.3 264.6 383.8 265.4 385.3C266.3 386.8 267.1 388.4 267.9 389.9C268.8 391.4 269.6 393.0 270.3 394.5C271.1 396.1 271.9 397.6 272.6 399.2C273.3 400.7 274.1 402.3 274.8 403.9C275.5 405.4 276.2 407.0 276.9 408.6C277.5 410.2 278.2 411.8 278.8 413.4C279.5 415.0 280.1 416.6 280.7 418.2C281.3 419.8 281.9 421.4 282.5 423.0C283.1 424.7 283.7 426.3 284.2 427.9C284.8 429.5 285.3 431.2 285.9 432.8C286.4 434.5 286.9 436.1 287.4 437.7C287.9 439.4 288.4 441.1 288.9 442.7C289.4 444.4 289.9 446.0 290.4 447.7C290.8 449.4 291.3 451.0 291.7 452.7C292.2 454.4 292.6 456.0 293.1 457.7C293.5 459.4 293.9 461.1 294.3 462.8C294.7 464.4 295.1 466.1 295.6 467.8C296.0 469.5 296.3 471.2 296.7 472.9C297.1 474.6 297.5 476.3 297.9 478.0C298.2 479.7 298.6 481.3 299.0 483.0C299.3 484.7 299.7 486.4 300.1 488.1C300.4 489.8 300.8 491.5 301.1 493.3C301.4 495.0 301.8 496.7 302.1 498.4C302.4 500.1 302.8 501.8 303.1 503.5C303.4 505.2 303.7 506.9 304.1 508.6C304.4 510.3 304.7 512.0 305.0 513.7C305.3 515.4 305.6 517.2 305.9 518.9C306.2 520.6 306.5 522.3 306.8 524.0C307.1 525.7 307.4 527.4 307.7 529.1C308.0 530.8 308.3 532.6 308.6 534.3C308.9 536.0 309.2 537.7 309.5 539.4C309.8 541.1 310.0 542.8 310.3 544.5C310.6 546.2 310.9 547.9 311.2 549.6C311.5 551.3 311.8 553.0 312.0 554.7C312.3 556.5 312.6 558.2 312.9 559.9C313.2 561.6 313.6 563.9 313.8 565.0C313.9 566.0 313.9 566.0 314.0 566.2" stroke="#0000ff" stroke-dasharray="10.2 4.6" stroke-dashoffset="0.0"/>
<path d="M377.65 566.20C377.7 566.0 377.7 565.9 377.8 564.8C378.0 563.7 378.3 561.4 378.6 559.7C378.8 558.0 379.1 556.3 379.3 554.6C379.6 552.8 379.9 551.1 380.1 549.4C380.4 547.7 380.6 546.0 380.9 544.3C381.2 542.6 381.4 540.9 381.7 539.2C382.0 537.5 382.3 535.8 382.5 534.1C382.8 532.4 383.1 530.7 383.4 529.0C383.7 527.3 384.0 525.6 384.3 523.9C384.6 522.2 384.9 520.5 385.2 518.8C385.5 517.1 385.8 515.4 386.1 513.7C386.4 512.0 386.7 510.3 387.0 508.7C387.3 507.0 387.6 505.3 388.0 503.6C388.3 501.9 388.6 500.2 388.9 498.5C389.3 496.8 389.6 495.1 389.9 493.4C390.3 491.7 390.6 490.1 391.0 488.4C391.3 486.7 391.6 485.0 392.0 483.3C392.3 481.6 392.7 479.9 393.1 478.2C393.4 476.6 393.8 474.9 394.2 473.2C394.5 471.5 394.9 469.8 395.3 468.1C395.6 466.4 396.0 464.8 396.4 463.1C396.8 461.4 397.2 459.7 397.6 458.0C398.0 456.3 398.4 454.6 398.8 453.0C399.2 451.3 399.6 449.6 400.0 447.9C400.4 446.2 400.8 444.5 401.2 442.9C401.6 441.2 402.1 439.5 402.5 437.8C402.9 436.1 403.4 434.5 403.8 432.8C404.3 431.1 404.7 429.4 405.2 427.8C405.6 426.1 406.1 424.4 406.6 422.8C407.1 421.1 407.5 419.4 408.0 417.8C408.5 416.1 409.0 414.5 409.6 412.8C410.1 411.2 410.6 409.6 411.1 407.9C411.7 406.3 412.2 404.6 412.8 403.0C413.3 401.4 413.9 399.8 414.5 398.2C415.1 396.6 415.8 395.0 416.5 393.4C417.1 391.9 417.9 390.4 418.7 388.9C419.5 387.4 420.3 385.9 421.2 384.5C422.2 383.1 423.8 381.0 424.3 380.4C424.7 381.3 426.0 384.2 426.9 386.1C427.8 388.0 428.6 389.9 429.5 391.8C430.3 393.8 431.2 395.7 432.0 397.6C432.9 399.5 433.7 401.5 434.6 403.4C435.4 405.3 436.2 407.3 437.0 409.2C437.8 411.1 438.9 414.1 439.3 415.1" stroke="#0000ff" stroke-dasharray="10.2 4.6" stroke-dashoffset="0.0"/>
<path d="M86.34 434.25C86.6 435.1 87.6 437.6 88.2 439.3C88.8 440.9 89.4 442.6 90.0 444.3C90.6 446.0 91.2 447.6 91.9 449.3C92.5 451.0 93.1 452.7 93.8 454.3C94.4 456.0 95.1 457.7 95.7 459.3C96.4 461.0 97.1 462.7 97.8 464.3C98.5 466.0 99.2 467.6 99.9 469.2C100.7 470.8 101.4 472.5 102.2 474.1C103.0 475.7 103.8 477.2 104.6 478.8C105.5 480.4 106.3 481.9 107.2 483.5C108.1 485.0 109.1 486.5 110.0 488.0C111.0 489.5 112.0 491.0 113.0 492.5C114.1 493.9 115.1 495.3 116.2 496.7C117.4 498.1 119.1 500.2 119.7 500.9C119.9 501.7 120.6 504.4 121.0 506.1C121.5 507.9 121.9 509.6 122.3 511.4C122.8 513.1 123.2 514.9 123.6 516.6C124.0 518.4 124.4 520.1 124.9 521.9C125.3 523.7 125.7 525.4 126.1 527.2C126.5 528.9 126.8 530.7 127.2 532.5C127.6 534.2 128.0 536.0 128.3 537.8C128.7 539.5 129.1 541.3 129.4 543.1C129.8 544.9 130.1 546.6 130.5 548.4C130.8 550.2 131.1 552.0 131.4 553.7C131.7 555.5 132.1 557.3 132.3 559.1C132.6 560.8 133.0 563.2 133.2 564.4C133.4 565.6 133.4 565.9 133.5 566.2" stroke="#ff00ff" stroke-dasharray="10.2 4.6" stroke-dashoffset="0.0"/>
<path d="M203.72 566.20C203.8 565.9 203.8 565.5 204.1 564.3C204.3 563.0 204.7 560.6 205.0 558.8C205.3 557.0 205.6 555.2 205.9 553.4C206.2 551.6 206.5 549.8 206.8 547.9C207.1 546.1 207.4 544.3 207.7 542.5C208.1 540.7 208.4 538.9 208.7 537.1C209.0 535.2 209.3 533.4 209.6 531.6C209.9 529.8 210.3 528.0 210.6 526.2C210.9 524.4 211.2 522.6 211.6 520.8C211.9 519.0 212.2 517.1 212.6 515.3C212.9 513.5 213.3 511.7 213.6 509.9C214.0 508.1 214.3 506.3 214.7 504.5C215.1 502.7 215.4 500.9 215.8 499.1C216.2 497.3 216.6 495.5 217.0 493.7C217.4 491.9 218.0 489.3 218.2 488.4C218.7 487.6 220.3 485.3 221.3 483.8C222.2 482.2 223.2 480.7 224.1 479.1C225.1 477.5 226.0 476.0 226.8 474.4C227.7 472.8 228.6 471.2 229.4 469.5C230.3 467.9 231.1 466.3 231.9 464.7C232.7 463.0 233.4 461.4 234.2 459.7C235.0 458.0 235.7 456.4 236.4 454.7C237.2 453.0 237.9 451.3 238.6 449.7C239.3 448.0 239.9 446.3 240.6 444.6C241.3 442.9 242.0 441.2 242.6 439.5C243.3 437.7 243.9 436.0 244.6 434.3C245.2 432.6 245.8 430.9 246.5 429.1C247.1 427.4 247.7 425.7 248.4 424.0C249.0 422.2 249.6 420.5 250.3 418.8C250.9 417.1 251.5 415.3 252.1 413.6C252.8 411.9 253.4 410.2 254.0 408.5C254.7 406.7 255.3 405.0 256.0 403.3C256.6 401.6 257.3 399.9 257.9 398.2C258.6 396.5 259.3 394.8 260.0 393.1C260.7 391.4 261.7 388.9 262.1 388.0C262.5 388.8 264.0 391.0 264.9 392.4C265.8 393.9 266.7 395.4 267.5 396.9C268.4 398.4 269.2 399.9 270.0 401.4C270.8 402.9 271.6 404.5 272.3 406.0C273.1 407.5 273.8 409.1 274.5 410.6C275.2 412.2 275.9 413.8 276.6 415.3C277.2 416.9 277.9 418.5 278.5 420.1C279.1 421.6 279.7 423.2 280.3 424.8C280.9 426.4 281.4 428.0 282.0 429.6C282.5 431.2 283.1 432.9 283.6 434.5C284.1 436.1 284.6 437.7 285.1 439.4C285.5 441.0 286.0 442.6 286.5 444.3C286.9 445.9 287.3 447.6 287.8 449.2C288.2 450.9 288.6 452.5 289.0 454.2C289.4 455.9 289.8 457.5 290.2 459.2C290.6 460.9 291.0 462.5 291.3 464.2C291.7 465.9 292.1 467.6 292.4 469.2C292.8 470.9 293.1 472.6 293.5 474.3C293.8 475.9 294.1 477.6 294.5 479.3C294.8 481.0 295.1 482.7 295.5 484.4C295.8 486.1 296.1 487.8 296.4 489.4C296.7 491.1 297.1 492.8 297.4 494.5C297.7 496.2 298.0 497.9 298.3 499.6C298.6 501.3 298.9 503.0 299.3 504.6C299.6 506.3 299.9 508.0 300.2 509.7C300.5 511.4 300.8 513.1 301.1 514.8C301.4 516.5 301.8 518.2 302.1 519.9C302.4 521.5 302.7 523.2 303.0 524.9C303.3 526.6 303.7 528.3 304.0 530.0C304.3 531.7 304.6 533.4 305.0 535.0C305.3 536.7 305.6 538.4 306.0 540.1C306.3 541.8 306.6 543.4 307.0 545.1C307.3 546.8 307.7 548.5 308.0 550.2C308.4 551.8 308.7 553.5 309.1 555.2C309.5 556.8 309.8 558.5 310.2 560.2C310.6 561.8 311.1 564.2 311.4 565.2C311.6 566.2 311.6 566.0 311.6 566.2" stroke="#ff00ff" stroke-dasharray="10.2 4.6" stroke-dashoffset="0.0"/>
<path d="M377.42 566.20C377.5 566.0 377.5 566.0 377.6 564.9C377.8 563.9 378.1 561.5 378.4 559.8C378.6 558.1 378.9 556.4 379.2 554.7C379.4 553.0 379.7 551.3 379.9 549.6C380.2 547.9 380.5 546.2 380.7 544.5C381.0 542.8 381.3 541.1 381.5 539.4C381.8 537.7 382.1 536.0 382.4 534.3C382.6 532.6 382.9 530.9 383.2 529.2C383.5 527.4 383.7 525.7 384.0 524.0C384.3 522.3 384.6 520.6 384.9 518.9C385.2 517.2 385.5 515.5 385.8 513.8C386.1 512.1 386.4 510.4 386.7 508.7C387.0 507.0 387.3 505.3 387.6 503.6C387.9 501.9 388.2 500.2 388.5 498.5C388.8 496.8 389.1 495.1 389.5 493.4C389.8 491.7 390.1 490.1 390.5 488.4C390.8 486.7 391.1 485.0 391.5 483.3C391.8 481.6 392.2 479.9 392.5 478.2C392.9 476.5 393.2 474.8 393.6 473.2C394.0 471.5 394.3 469.8 394.7 468.1C395.1 466.4 395.5 464.7 395.9 463.1C396.2 461.4 396.6 459.7 397.0 458.0C397.4 456.3 397.8 454.7 398.3 453.0C398.7 451.3 399.1 449.7 399.5 448.0C399.9 446.3 400.4 444.7 400.8 443.0C401.3 441.3 401.7 439.7 402.2 438.0C402.6 436.3 403.1 434.7 403.5 433.0C404.0 431.4 404.5 429.7 405.0 428.1C405.4 426.4 405.9 424.8 406.4 423.1C406.9 421.5 407.4 419.8 408.0 418.2C408.5 416.6 409.0 414.9 409.5 413.3C410.1 411.6 410.6 410.0 411.2 408.4C411.7 406.8 412.3 405.1 412.8 403.5C413.4 401.9 414.0 400.3 414.6 398.6C415.2 397.0 415.8 395.4 416.4 393.8C417.0 392.2 417.6 390.6 418.2 389.0C418.8 387.4 419.8 385.0 420.1 384.2C420.5 385.1 421.4 388.0 422.1 389.9C422.8 391.7 423.5 393.6 424.2 395.5C424.9 397.4 425.6 399.2 426.3 401.1C427.0 403.0 427.7 404.8 428.4 406.7C429.1 408.6 429.8 410.4 430.5 412.3C431.2 414.2 431.9 416.1 432.6 418.0C433.3 419.8 433.9 421.7 434.6 423.6C435.2 425.5 435.8 427.4 436.4 429.3C437.0 431.2 437.9 434.1 438.1 435.1" stroke="#ff00ff" stroke-dasharray="10.2 4.6" stroke-dashoffset="0.0"/>
</g>
<path d="M84.00 555.95h9.00M436.00 555.95h-9.00M84.00 514.47h9.00M436.00 514.47h-9.00M84.00 482.30h9.00M436.00 482.30h-9.00M84.00 456.02h9.00M436.00 456.02h-9.00M84.00 433.79h9.00M436.00 433.79h-9.00M84.00 414.54h9.00M436.00 414.54h-9.00M84.00 397.56h9.00M436.00 397.56h-9.00M84.00 382.36h9.00M436.00 382.36h-9.00M84.00 314.60v9.00M84.00 565.90v-9.00M172.00 314.60v9.00M172.00 565.90v-9.00M260.00 314.60v9.00M260.00 565.90v-9.00M348.00 314.60v9.00M348.00 565.90v-9.00M436.00 314.60v9.00M436.00 565.90v-9.00" stroke="#000" stroke-width="1.40" fill="none"/>
<path d="M84.00 482.50h9.50M436.00 482.50h-9.50" stroke="#666" stroke-width="1.0" fill="none" opacity="1"/>
<path d="M84.00 556.15h9.50M436.00 556.15h-9.50" stroke="#666" stroke-width="1.0" fill="none" opacity="1"/>
<rect x="84.00" y="314.60" width="352.00" height="251.30" fill="none" stroke="#000" stroke-width="1.65"/>
<clipPath id="cp4"><rect x="470.10" y="314.60" width="352.00" height="251.30"/></clipPath>
<line x1="470.10" y1="482.50" x2="822.10" y2="482.50" stroke="#666" stroke-width="1.0"/>
<line x1="470.10" y1="556.15" x2="822.10" y2="556.15" stroke="#666" stroke-width="1.0"/>
<g clip-path="url(#cp4)" fill="none" stroke-width="1.45" stroke-linejoin="round">
<path d="M484.52 566.20C484.6 565.4 484.9 563.3 485.1 561.6C485.2 560.0 485.5 558.2 485.7 556.5C485.9 554.8 486.1 553.0 486.3 551.3C486.5 549.6 486.7 547.9 486.9 546.2C487.1 544.5 487.3 542.7 487.5 541.0C487.7 539.3 487.9 537.6 488.1 535.9C488.3 534.2 488.5 532.5 488.8 530.7C489.0 529.0 489.2 527.3 489.4 525.6C489.6 523.9 489.8 522.2 490.1 520.5C490.3 518.8 490.5 517.1 490.8 515.4C491.0 513.7 491.2 512.0 491.5 510.3C491.7 508.6 492.0 506.9 492.2 505.2C492.5 503.5 492.8 501.8 493.0 500.1C493.3 498.4 493.6 496.7 493.8 495.0C494.1 493.3 494.4 491.6 494.7 489.9C495.0 488.2 495.3 486.5 495.6 484.8C495.9 483.1 496.2 481.5 496.5 479.8C496.8 478.1 497.2 476.4 497.5 474.7C497.8 473.0 498.2 471.4 498.5 469.7C498.9 468.0 499.3 466.3 499.6 464.6C500.0 463.0 500.4 461.3 500.8 459.6C501.2 457.9 501.6 456.3 502.0 454.6C502.4 452.9 502.8 451.3 503.3 449.6C503.7 447.9 504.1 446.3 504.6 444.6C505.1 442.9 505.5 441.3 506.0 439.6C506.5 438.0 507.0 436.3 507.5 434.6C508.0 433.0 508.5 431.3 509.0 429.7C509.6 428.0 510.1 426.4 510.7 424.7C511.2 423.1 511.8 421.4 512.4 419.8C513.0 418.1 513.6 416.5 514.2 414.9C514.8 413.2 515.4 411.6 516.1 409.9C516.7 408.3 517.4 406.7 518.0 405.0C518.7 403.4 519.4 401.8 520.1 400.1C520.8 398.5 521.5 396.9 522.3 395.3C523.0 393.7 523.8 392.1 524.6 390.5C525.4 388.9 526.2 387.4 527.1 385.9C528.0 384.3 528.9 382.8 529.8 381.4C530.7 379.9 531.7 378.5 532.7 377.2C533.7 375.8 534.8 374.5 535.9 373.2C537.0 372.0 538.1 370.8 539.3 369.6C540.5 368.5 541.8 367.4 543.1 366.4C544.4 365.4 545.8 364.5 547.2 363.6C548.6 362.8 550.1 362.0 551.6 361.3C553.1 360.7 554.7 360.1 556.3 359.6C557.9 359.2 559.5 358.8 561.2 358.6C562.8 358.3 564.5 358.2 566.2 358.2C567.9 358.2 569.6 358.3 571.3 358.6C573.0 358.9 574.7 359.3 576.4 359.8C578.1 360.4 579.7 361.1 581.4 362.0C583.0 362.8 585.3 364.5 586.1 365.0C586.5 365.8 587.7 368.2 588.5 369.7C589.3 371.3 590.0 372.8 590.8 374.4C591.5 376.0 592.2 377.6 592.9 379.2C593.7 380.7 594.4 382.3 595.1 383.9C595.7 385.5 596.4 387.1 597.1 388.7C597.7 390.3 598.4 391.9 599.0 393.5C599.7 395.2 600.3 396.8 600.9 398.4C601.5 400.0 602.1 401.6 602.7 403.3C603.3 404.9 603.9 406.5 604.5 408.2C605.0 409.8 605.6 411.4 606.1 413.1C606.7 414.7 607.2 416.4 607.8 418.0C608.3 419.7 608.8 421.3 609.3 423.0C609.8 424.6 610.3 426.3 610.8 428.0C611.3 429.6 611.7 431.3 612.2 433.0C612.6 434.6 613.1 436.3 613.5 438.0C614.0 439.7 614.4 441.3 614.8 443.0C615.3 444.7 615.7 446.4 616.1 448.1C616.5 449.8 616.9 451.5 617.3 453.2C617.6 454.9 618.0 456.5 618.4 458.2C618.8 459.9 619.1 461.6 619.5 463.3C619.8 465.0 620.2 466.8 620.5 468.5C620.8 470.2 621.2 471.9 621.5 473.6C621.8 475.3 622.1 477.0 622.4 478.7C622.7 480.4 623.0 482.2 623.3 483.9C623.6 485.6 623.9 487.3 624.1 489.0C624.4 490.7 624.7 492.5 624.9 494.2C625.2 495.9 625.4 497.6 625.7 499.4C625.9 501.1 626.2 502.8 626.4 504.5C626.6 506.3 626.9 508.0 627.1 509.7C627.3 511.4 627.5 513.2 627.7 514.9C627.9 516.6 628.1 518.4 628.3 520.1C628.5 521.8 628.7 523.6 628.9 525.3C629.1 527.0 629.3 528.8 629.5 530.5C629.6 532.2 629.8 533.9 630.0 535.7C630.2 537.4 630.3 539.1 630.5 540.9C630.6 542.6 630.8 544.3 630.9 546.1C631.1 547.8 631.2 549.5 631.4 551.3C631.5 553.0 631.7 554.7 631.8 556.5C631.9 558.2 632.1 560.0 632.2 561.6C632.3 563.3 632.5 565.4 632.5 566.2" stroke="#ff0000"/>
<path d="M658.86 566.20C658.9 565.4 659.2 563.3 659.3 561.7C659.5 560.0 659.7 558.2 659.9 556.5C660.1 554.8 660.2 553.1 660.4 551.4C660.6 549.6 660.8 547.9 661.0 546.2C661.2 544.5 661.3 542.8 661.5 541.1C661.7 539.3 661.9 537.6 662.1 535.9C662.3 534.2 662.5 532.5 662.7 530.8C662.9 529.1 663.1 527.4 663.3 525.7C663.5 523.9 663.7 522.2 663.9 520.5C664.1 518.8 664.3 517.1 664.5 515.4C664.7 513.7 665.0 512.0 665.2 510.3C665.4 508.6 665.6 506.9 665.9 505.2C666.1 503.5 666.4 501.8 666.6 500.1C666.8 498.4 667.1 496.7 667.3 495.0C667.6 493.3 667.9 491.6 668.1 489.9C668.4 488.2 668.7 486.5 669.0 484.9C669.2 483.2 669.5 481.5 669.8 479.8C670.1 478.1 670.4 476.4 670.7 474.7C671.0 473.1 671.4 471.4 671.7 469.7C672.0 468.0 672.3 466.3 672.7 464.7C673.0 463.0 673.4 461.3 673.7 459.6C674.1 458.0 674.5 456.3 674.8 454.6C675.2 453.0 675.6 451.3 676.0 449.6C676.4 448.0 676.8 446.3 677.2 444.6C677.7 443.0 678.1 441.3 678.5 439.6C679.0 438.0 679.4 436.3 679.9 434.7C680.3 433.0 680.8 431.4 681.3 429.7C681.8 428.1 682.3 426.4 682.8 424.8C683.3 423.1 683.8 421.5 684.4 419.8C684.9 418.2 685.5 416.6 686.0 414.9C686.6 413.3 687.2 411.6 687.7 410.0C688.3 408.4 688.9 406.7 689.5 405.1C690.2 403.5 690.8 401.9 691.4 400.2C692.1 398.6 692.7 397.0 693.4 395.4C694.1 393.7 694.8 392.1 695.5 390.5C696.2 388.9 696.9 387.3 697.7 385.7C698.4 384.1 699.1 382.5 699.9 380.9C700.7 379.3 701.5 377.7 702.3 376.1C703.1 374.6 704.0 373.0 704.9 371.5C705.8 370.1 706.7 368.6 707.7 367.2C708.6 365.8 709.6 364.4 710.7 363.1C711.7 361.8 712.9 360.6 714.0 359.4C715.2 358.3 716.4 357.2 717.7 356.2C719.0 355.2 720.3 354.3 721.7 353.5C723.1 352.7 724.6 352.0 726.2 351.4C727.7 350.8 729.3 350.3 730.9 349.9C732.6 349.5 734.3 349.3 735.9 349.1C737.6 349.0 739.4 349.0 741.1 349.1C742.8 349.2 744.6 349.4 746.3 349.8C748.0 350.2 749.7 350.6 751.4 351.3C753.0 351.9 754.7 352.6 756.2 353.5C757.8 354.3 760.0 355.9 760.7 356.4C761.1 357.2 762.3 359.5 763.1 361.1C763.9 362.6 764.7 364.2 765.4 365.7C766.2 367.3 766.9 368.8 767.7 370.4C768.4 372.0 769.1 373.5 769.8 375.1C770.5 376.7 771.2 378.3 771.9 379.9C772.5 381.4 773.2 383.0 773.8 384.6C774.5 386.2 775.1 387.8 775.7 389.4C776.4 391.0 777.0 392.7 777.6 394.3C778.2 395.9 778.7 397.5 779.3 399.1C779.9 400.7 780.4 402.4 781.0 404.0C781.5 405.6 782.1 407.3 782.6 408.9C783.1 410.5 783.6 412.2 784.1 413.8C784.6 415.5 785.1 417.1 785.6 418.8C786.1 420.4 786.6 422.1 787.0 423.7C787.5 425.4 787.9 427.0 788.4 428.7C788.8 430.4 789.2 432.0 789.7 433.7C790.1 435.4 790.5 437.0 790.9 438.7C791.3 440.4 791.7 442.1 792.1 443.8C792.4 445.4 792.8 447.1 793.2 448.8C793.5 450.5 793.9 452.2 794.3 453.9C794.6 455.6 794.9 457.2 795.3 458.9C795.6 460.6 795.9 462.3 796.2 464.0C796.6 465.7 796.9 467.4 797.2 469.1C797.5 470.8 797.8 472.5 798.0 474.2C798.3 475.9 798.6 477.6 798.9 479.4C799.2 481.1 799.4 482.8 799.7 484.5C799.9 486.2 800.2 487.9 800.4 489.6C800.7 491.3 800.9 493.0 801.2 494.8C801.4 496.5 801.6 498.2 801.9 499.9C802.1 501.6 802.3 503.3 802.5 505.1C802.7 506.8 802.9 508.5 803.1 510.2C803.4 511.9 803.6 513.7 803.8 515.4C803.9 517.1 804.1 518.8 804.3 520.5C804.5 522.3 804.7 524.0 804.9 525.7C805.1 527.4 805.2 529.1 805.4 530.9C805.6 532.6 805.8 534.3 805.9 536.0C806.1 537.7 806.3 539.5 806.4 541.2C806.6 542.9 806.7 544.6 806.9 546.3C807.1 548.1 807.2 549.8 807.4 551.5C807.5 553.2 807.7 554.9 807.8 556.6C808.0 558.4 808.1 560.2 808.3 561.8C808.4 563.4 808.6 565.5 808.6 566.2" stroke="#ff0000"/>
<path d="M482.55 566.20C482.6 565.5 482.9 563.5 483.1 561.9C483.3 560.3 483.6 558.5 483.8 556.8C484.0 555.1 484.2 553.4 484.4 551.7C484.6 549.9 484.8 548.2 485.1 546.5C485.3 544.8 485.5 543.1 485.7 541.4C485.9 539.7 486.1 537.9 486.3 536.2C486.5 534.5 486.7 532.8 486.9 531.1C487.1 529.3 487.3 527.6 487.5 525.9C487.8 524.2 488.0 522.5 488.2 520.7C488.4 519.0 488.6 517.3 488.8 515.6C489.1 513.9 489.3 512.1 489.5 510.4C489.7 508.7 490.0 507.0 490.2 505.3C490.4 503.5 490.7 501.8 490.9 500.1C491.1 498.4 491.4 496.7 491.6 495.0C491.9 493.2 492.2 491.5 492.4 489.8C492.7 488.1 493.0 486.4 493.2 484.7C493.5 483.0 493.8 481.3 494.1 479.6C494.4 477.9 494.7 476.1 495.0 474.4C495.3 472.7 495.6 471.0 496.0 469.3C496.3 467.6 496.6 465.9 497.0 464.3C497.3 462.6 497.7 460.9 498.0 459.2C498.4 457.5 498.8 455.8 499.2 454.1C499.5 452.5 499.9 450.8 500.4 449.1C500.8 447.4 501.2 445.8 501.6 444.1C502.1 442.4 502.5 440.8 503.0 439.1C503.4 437.4 503.9 435.8 504.4 434.1C504.9 432.5 505.4 430.8 505.9 429.2C506.4 427.5 507.0 425.9 507.5 424.3C508.1 422.6 508.6 421.0 509.2 419.4C509.8 417.8 510.4 416.1 511.0 414.5C511.6 412.9 512.2 411.3 512.9 409.7C513.5 408.1 514.2 406.5 514.9 404.9C515.5 403.3 516.2 401.7 517.0 400.1C517.7 398.5 518.4 397.0 519.2 395.4C519.9 393.8 520.7 392.3 521.5 390.7C522.3 389.2 523.1 387.6 524.0 386.1C524.8 384.5 525.6 383.0 526.5 381.5C527.4 379.9 528.3 378.4 529.3 376.9C530.2 375.5 531.2 374.0 532.2 372.6C533.2 371.2 534.2 369.8 535.3 368.5C536.4 367.2 537.5 366.0 538.7 364.8C539.9 363.7 541.1 362.6 542.4 361.6C543.7 360.6 545.1 359.6 546.5 358.8C547.9 358.0 549.3 357.3 550.9 356.7C552.4 356.1 554.0 355.6 555.6 355.2C557.2 354.8 558.9 354.6 560.6 354.4C562.3 354.3 564.1 354.2 565.8 354.3C567.6 354.4 569.3 354.6 571.1 354.9C572.8 355.2 574.6 355.6 576.3 356.1C578.0 356.6 579.7 357.2 581.4 357.9C583.0 358.6 584.6 359.4 586.2 360.3C587.7 361.2 589.8 362.7 590.5 363.2C590.9 364.0 592.0 366.4 592.7 368.0C593.4 369.6 594.1 371.2 594.8 372.8C595.5 374.4 596.1 376.0 596.8 377.7C597.4 379.3 598.1 380.9 598.7 382.5C599.3 384.1 599.9 385.8 600.5 387.4C601.1 389.0 601.7 390.7 602.3 392.3C602.9 394.0 603.5 395.6 604.0 397.2C604.6 398.9 605.1 400.5 605.6 402.2C606.2 403.8 606.7 405.5 607.2 407.2C607.7 408.8 608.2 410.5 608.7 412.2C609.2 413.8 609.7 415.5 610.1 417.2C610.6 418.8 611.1 420.5 611.5 422.2C611.9 423.9 612.4 425.6 612.8 427.2C613.2 428.9 613.7 430.6 614.1 432.3C614.5 434.0 614.9 435.7 615.3 437.4C615.6 439.1 616.0 440.8 616.4 442.5C616.8 444.2 617.1 445.9 617.5 447.6C617.8 449.3 618.2 451.0 618.5 452.7C618.9 454.4 619.2 456.1 619.5 457.8C619.8 459.5 620.2 461.2 620.5 463.0C620.8 464.7 621.1 466.4 621.4 468.1C621.7 469.8 622.0 471.5 622.2 473.3C622.5 475.0 622.8 476.7 623.0 478.4C623.3 480.2 623.6 481.9 623.8 483.6C624.1 485.3 624.3 487.1 624.6 488.8C624.8 490.5 625.0 492.3 625.3 494.0C625.5 495.7 625.7 497.4 626.0 499.2C626.2 500.9 626.4 502.6 626.6 504.4C626.8 506.1 627.0 507.8 627.2 509.6C627.4 511.3 627.6 513.1 627.8 514.8C628.0 516.5 628.2 518.3 628.4 520.0C628.6 521.7 628.7 523.5 628.9 525.2C629.1 526.9 629.3 528.7 629.4 530.4C629.6 532.2 629.8 533.9 629.9 535.6C630.1 537.4 630.3 539.1 630.4 540.8C630.6 542.6 630.7 544.3 630.9 546.0C631.0 547.8 631.2 549.5 631.3 551.2C631.5 553.0 631.6 554.7 631.8 556.4C631.9 558.2 632.1 560.0 632.2 561.6C632.3 563.2 632.5 565.4 632.6 566.2" stroke="#00ff00"/>
<path d="M658.30 566.20C658.4 565.5 658.6 563.4 658.8 561.8C659.0 560.2 659.1 558.4 659.3 556.7C659.5 555.0 659.7 553.3 659.9 551.5C660.1 549.8 660.2 548.1 660.4 546.4C660.6 544.7 660.8 543.0 661.0 541.3C661.2 539.6 661.3 537.9 661.5 536.2C661.7 534.5 661.9 532.8 662.1 531.1C662.3 529.4 662.5 527.7 662.7 526.1C662.8 524.4 663.0 522.7 663.2 521.0C663.4 519.3 663.6 517.6 663.8 515.9C664.0 514.2 664.2 512.5 664.5 510.8C664.7 509.1 664.9 507.4 665.1 505.8C665.3 504.1 665.5 502.4 665.8 500.7C666.0 499.0 666.2 497.3 666.4 495.6C666.7 494.0 666.9 492.3 667.2 490.6C667.4 488.9 667.7 487.2 667.9 485.6C668.2 483.9 668.4 482.2 668.7 480.5C669.0 478.9 669.2 477.2 669.5 475.5C669.8 473.8 670.1 472.2 670.4 470.5C670.7 468.8 671.0 467.2 671.3 465.5C671.6 463.8 671.9 462.1 672.2 460.5C672.6 458.8 672.9 457.2 673.3 455.5C673.6 453.8 673.9 452.2 674.3 450.5C674.7 448.8 675.0 447.2 675.4 445.5C675.8 443.9 676.2 442.2 676.6 440.6C677.0 438.9 677.4 437.3 677.8 435.6C678.2 434.0 678.7 432.3 679.1 430.7C679.5 429.0 680.0 427.4 680.5 425.7C680.9 424.1 681.4 422.4 681.9 420.8C682.4 419.1 682.9 417.5 683.4 415.9C683.9 414.2 684.4 412.6 684.9 410.9C685.5 409.3 686.0 407.7 686.6 406.0C687.1 404.4 687.7 402.8 688.3 401.2C688.9 399.5 689.5 397.9 690.1 396.3C690.7 394.6 691.4 393.0 692.0 391.4C692.7 389.8 693.3 388.2 694.0 386.5C694.7 384.9 695.3 383.3 696.1 381.7C696.8 380.1 697.5 378.5 698.2 376.9C699.0 375.3 699.7 373.7 700.5 372.1C701.3 370.6 702.2 369.1 703.0 367.6C703.9 366.1 704.8 364.6 705.7 363.2C706.7 361.8 707.7 360.5 708.7 359.2C709.7 357.9 710.8 356.6 712.0 355.5C713.1 354.3 714.3 353.2 715.6 352.2C716.8 351.2 718.1 350.2 719.5 349.4C720.9 348.6 722.3 347.8 723.8 347.2C725.3 346.5 726.9 346.0 728.5 345.5C730.1 345.1 731.7 344.7 733.4 344.5C735.0 344.3 736.7 344.2 738.4 344.2C740.1 344.2 741.9 344.3 743.6 344.6C745.3 344.8 747.0 345.1 748.7 345.6C750.4 346.0 752.1 346.6 753.7 347.2C755.3 347.9 756.9 348.6 758.5 349.5C760.0 350.3 761.5 351.3 762.9 352.3C764.3 353.3 766.2 355.1 766.9 355.6C767.3 356.4 768.3 358.8 769.0 360.4C769.6 362.0 770.3 363.6 770.9 365.2C771.6 366.8 772.2 368.4 772.8 370.0C773.4 371.6 774.0 373.2 774.6 374.8C775.2 376.4 775.8 378.0 776.4 379.6C777.0 381.3 777.5 382.9 778.1 384.5C778.7 386.1 779.2 387.8 779.7 389.4C780.3 391.0 780.8 392.7 781.3 394.3C781.8 395.9 782.3 397.6 782.8 399.2C783.3 400.8 783.8 402.5 784.3 404.1C784.8 405.8 785.2 407.4 785.7 409.1C786.1 410.7 786.6 412.4 787.0 414.1C787.5 415.7 787.9 417.4 788.3 419.0C788.7 420.7 789.1 422.4 789.5 424.0C790.0 425.7 790.3 427.4 790.7 429.0C791.1 430.7 791.5 432.4 791.9 434.1C792.2 435.7 792.6 437.4 793.0 439.1C793.3 440.8 793.7 442.4 794.0 444.1C794.3 445.8 794.7 447.5 795.0 449.2C795.3 450.9 795.7 452.6 796.0 454.2C796.3 455.9 796.6 457.6 796.9 459.3C797.2 461.0 797.5 462.7 797.8 464.4C798.0 466.1 798.3 467.8 798.6 469.5C798.9 471.2 799.1 472.9 799.4 474.6C799.7 476.3 799.9 478.0 800.2 479.7C800.4 481.4 800.7 483.1 800.9 484.8C801.1 486.5 801.4 488.2 801.6 489.9C801.8 491.6 802.0 493.3 802.3 495.0C802.5 496.8 802.7 498.5 802.9 500.2C803.1 501.9 803.3 503.6 803.5 505.3C803.7 507.0 803.9 508.7 804.1 510.4C804.3 512.1 804.5 513.9 804.7 515.6C804.9 517.3 805.0 519.0 805.2 520.7C805.4 522.4 805.6 524.1 805.7 525.8C805.9 527.6 806.1 529.3 806.3 531.0C806.4 532.7 806.6 534.4 806.7 536.1C806.9 537.8 807.1 539.6 807.2 541.3C807.4 543.0 807.5 544.7 807.7 546.4C807.8 548.1 808.0 549.8 808.1 551.5C808.2 553.2 808.4 555.0 808.5 556.7C808.7 558.4 808.8 560.2 809.0 561.8C809.1 563.4 809.2 565.5 809.3 566.2" stroke="#00ff00"/>
<path d="M482.58 566.20C482.7 565.5 482.9 563.6 483.1 562.0C483.4 560.5 483.6 558.7 483.8 557.0C484.0 555.3 484.2 553.6 484.5 551.9C484.7 550.2 484.9 548.5 485.1 546.8C485.3 545.1 485.5 543.4 485.7 541.7C485.9 540.0 486.1 538.3 486.3 536.6C486.5 534.9 486.7 533.2 486.9 531.5C487.2 529.8 487.4 528.1 487.6 526.4C487.8 524.7 488.0 523.0 488.2 521.3C488.4 519.6 488.6 517.9 488.8 516.2C489.0 514.5 489.3 512.8 489.5 511.1C489.7 509.4 489.9 507.6 490.1 505.9C490.4 504.2 490.6 502.5 490.8 500.8C491.1 499.1 491.3 497.4 491.5 495.7C491.8 494.0 492.0 492.3 492.3 490.6C492.6 488.9 492.8 487.2 493.1 485.6C493.3 483.9 493.6 482.2 493.9 480.5C494.2 478.8 494.5 477.1 494.8 475.4C495.1 473.7 495.4 472.0 495.7 470.4C496.0 468.7 496.3 467.0 496.6 465.3C497.0 463.6 497.3 462.0 497.7 460.3C498.0 458.6 498.4 456.9 498.7 455.3C499.1 453.6 499.5 451.9 499.9 450.3C500.3 448.6 500.7 446.9 501.1 445.3C501.5 443.6 501.9 442.0 502.4 440.3C502.8 438.7 503.2 437.0 503.7 435.4C504.2 433.8 504.6 432.1 505.1 430.5C505.6 428.8 506.1 427.2 506.7 425.6C507.2 424.0 507.7 422.3 508.3 420.7C508.8 419.1 509.4 417.5 510.0 415.9C510.5 414.3 511.1 412.7 511.7 411.1C512.4 409.5 513.0 407.9 513.6 406.3C514.3 404.7 514.9 403.1 515.6 401.5C516.3 400.0 517.0 398.4 517.7 396.8C518.4 395.3 519.2 393.7 519.9 392.1C520.7 390.6 521.5 389.0 522.3 387.5C523.1 385.9 523.9 384.4 524.7 382.9C525.5 381.4 526.4 379.8 527.3 378.3C528.2 376.8 529.1 375.3 530.0 373.9C531.0 372.4 531.9 371.0 533.0 369.6C534.0 368.3 535.0 367.0 536.1 365.7C537.2 364.4 538.4 363.2 539.6 362.1C540.8 361.0 542.0 359.9 543.3 359.0C544.6 358.0 546.0 357.1 547.4 356.4C548.8 355.6 550.3 354.9 551.8 354.3C553.4 353.8 555.0 353.3 556.6 353.0C558.2 352.6 559.9 352.4 561.6 352.2C563.3 352.1 565.0 352.1 566.8 352.2C568.5 352.3 570.2 352.5 571.9 352.9C573.7 353.2 575.4 353.7 577.1 354.2C578.7 354.8 580.4 355.4 582.0 356.2C583.6 357.0 585.1 357.8 586.6 358.8C588.0 359.8 590.1 361.5 590.7 362.0C591.1 362.8 592.2 365.1 593.0 366.7C593.7 368.3 594.4 369.8 595.1 371.4C595.8 373.0 596.5 374.5 597.2 376.1C597.8 377.7 598.5 379.3 599.1 380.8C599.8 382.4 600.4 384.0 601.0 385.6C601.6 387.2 602.2 388.8 602.8 390.4C603.4 392.0 604.0 393.6 604.6 395.2C605.1 396.8 605.7 398.5 606.2 400.1C606.8 401.7 607.3 403.3 607.8 405.0C608.3 406.6 608.8 408.2 609.3 409.8C609.8 411.5 610.3 413.1 610.8 414.7C611.3 416.4 611.7 418.0 612.2 419.7C612.6 421.3 613.1 423.0 613.5 424.6C613.9 426.3 614.4 427.9 614.8 429.6C615.2 431.3 615.6 432.9 616.0 434.6C616.4 436.2 616.8 437.9 617.1 439.6C617.5 441.2 617.9 442.9 618.2 444.6C618.6 446.3 619.0 447.9 619.3 449.6C619.6 451.3 620.0 453.0 620.3 454.7C620.6 456.3 620.9 458.0 621.2 459.7C621.6 461.4 621.9 463.1 622.1 464.8C622.4 466.5 622.7 468.2 623.0 469.9C623.3 471.5 623.6 473.2 623.8 474.9C624.1 476.6 624.4 478.3 624.6 480.0C624.9 481.7 625.1 483.4 625.4 485.1C625.6 486.8 625.8 488.5 626.1 490.2C626.3 491.9 626.5 493.6 626.7 495.4C627.0 497.1 627.2 498.8 627.4 500.5C627.6 502.2 627.8 503.9 628.0 505.6C628.2 507.3 628.4 509.0 628.6 510.7C628.8 512.4 629.0 514.1 629.2 515.8C629.3 517.5 629.5 519.3 629.7 521.0C629.9 522.7 630.0 524.4 630.2 526.1C630.4 527.8 630.6 529.5 630.7 531.2C630.9 532.9 631.0 534.6 631.2 536.3C631.4 538.1 631.5 539.8 631.7 541.5C631.8 543.2 632.0 544.9 632.1 546.6C632.3 548.3 632.4 550.0 632.6 551.7C632.7 553.4 632.9 555.1 633.0 556.8C633.2 558.5 633.3 560.3 633.5 561.9C633.6 563.5 633.8 565.5 633.8 566.2" stroke="#0000ff"/>
<path d="M658.30 566.20C658.4 565.4 658.6 563.3 658.8 561.7C659.0 560.0 659.2 558.2 659.4 556.5C659.5 554.8 659.7 553.1 659.9 551.3C660.1 549.6 660.3 547.9 660.5 546.2C660.6 544.5 660.8 542.8 661.0 541.1C661.2 539.3 661.4 537.6 661.6 535.9C661.8 534.2 661.9 532.5 662.1 530.8C662.3 529.1 662.5 527.4 662.7 525.7C662.9 524.0 663.1 522.3 663.3 520.5C663.5 518.8 663.7 517.1 663.9 515.4C664.1 513.7 664.3 512.0 664.5 510.3C664.7 508.6 665.0 506.9 665.2 505.2C665.4 503.5 665.6 501.8 665.8 500.1C666.1 498.4 666.3 496.7 666.5 495.0C666.8 493.4 667.0 491.7 667.3 490.0C667.5 488.3 667.8 486.6 668.0 484.9C668.3 483.2 668.5 481.5 668.8 479.8C669.1 478.1 669.4 476.5 669.6 474.8C669.9 473.1 670.2 471.4 670.5 469.7C670.8 468.0 671.1 466.3 671.4 464.7C671.7 463.0 672.1 461.3 672.4 459.6C672.7 458.0 673.0 456.3 673.4 454.6C673.7 452.9 674.1 451.2 674.5 449.6C674.8 447.9 675.2 446.2 675.6 444.6C675.9 442.9 676.3 441.2 676.7 439.6C677.1 437.9 677.5 436.2 678.0 434.6C678.4 432.9 678.8 431.2 679.2 429.6C679.7 427.9 680.1 426.2 680.6 424.6C681.1 422.9 681.5 421.3 682.0 419.6C682.5 418.0 683.0 416.3 683.5 414.6C684.0 413.0 684.5 411.3 685.1 409.7C685.6 408.0 686.1 406.4 686.7 404.7C687.3 403.1 687.8 401.5 688.4 399.8C689.0 398.2 689.6 396.5 690.2 394.9C690.8 393.2 691.4 391.6 692.1 390.0C692.7 388.3 693.4 386.7 694.0 385.1C694.7 383.4 695.4 381.8 696.1 380.2C696.8 378.5 697.5 376.9 698.3 375.3C699.0 373.7 699.8 372.1 700.6 370.5C701.3 369.0 702.2 367.4 703.0 365.9C703.9 364.4 704.8 362.9 705.7 361.5C706.7 360.1 707.7 358.7 708.7 357.4C709.8 356.1 710.8 354.9 712.0 353.7C713.1 352.5 714.3 351.4 715.6 350.4C716.9 349.4 718.2 348.4 719.6 347.5C721.0 346.7 722.5 345.9 724.0 345.3C725.5 344.6 727.1 344.0 728.7 343.6C730.3 343.1 732.0 342.8 733.7 342.6C735.3 342.4 737.0 342.3 738.8 342.3C740.5 342.3 742.2 342.5 743.9 342.8C745.6 343.0 747.4 343.4 749.0 343.9C750.7 344.4 752.4 345.0 754.0 345.6C755.6 346.3 757.2 347.1 758.8 348.0C760.3 348.9 761.8 349.9 763.2 351.0C764.6 352.0 766.5 353.9 767.1 354.4C767.5 355.2 768.6 357.6 769.3 359.2C770.0 360.8 770.6 362.4 771.3 364.0C772.0 365.6 772.7 367.2 773.3 368.8C774.0 370.4 774.6 372.0 775.2 373.6C775.8 375.2 776.5 376.8 777.1 378.5C777.7 380.1 778.2 381.7 778.8 383.3C779.4 385.0 780.0 386.6 780.5 388.2C781.1 389.9 781.6 391.5 782.2 393.1C782.7 394.8 783.2 396.4 783.7 398.1C784.2 399.7 784.7 401.4 785.2 403.0C785.7 404.7 786.2 406.3 786.7 408.0C787.1 409.7 787.6 411.3 788.1 413.0C788.5 414.7 788.9 416.3 789.4 418.0C789.8 419.7 790.2 421.3 790.6 423.0C791.1 424.7 791.5 426.4 791.9 428.0C792.3 429.7 792.6 431.4 793.0 433.1C793.4 434.8 793.8 436.5 794.1 438.2C794.5 439.8 794.8 441.5 795.2 443.2C795.5 444.9 795.9 446.6 796.2 448.3C796.5 450.0 796.9 451.7 797.2 453.4C797.5 455.1 797.8 456.8 798.1 458.5C798.4 460.2 798.7 461.9 799.0 463.6C799.3 465.3 799.5 467.1 799.8 468.8C800.1 470.5 800.4 472.2 800.6 473.9C800.9 475.6 801.1 477.3 801.4 479.0C801.6 480.8 801.9 482.5 802.1 484.2C802.4 485.9 802.6 487.6 802.8 489.3C803.1 491.1 803.3 492.8 803.5 494.5C803.7 496.2 803.9 497.9 804.1 499.7C804.3 501.4 804.5 503.1 804.7 504.8C804.9 506.6 805.1 508.3 805.3 510.0C805.5 511.7 805.7 513.5 805.9 515.2C806.1 516.9 806.3 518.6 806.4 520.4C806.6 522.1 806.8 523.8 807.0 525.5C807.1 527.3 807.3 529.0 807.5 530.7C807.6 532.4 807.8 534.2 808.0 535.9C808.1 537.6 808.3 539.3 808.4 541.1C808.6 542.8 808.7 544.5 808.9 546.2C809.0 547.9 809.2 549.7 809.3 551.4C809.5 553.1 809.6 554.8 809.8 556.6C809.9 558.3 810.1 560.1 810.2 561.7C810.3 563.3 810.5 565.5 810.6 566.2" stroke="#0000ff"/>
<path d="M483.06 566.20C483.2 565.5 483.4 563.6 483.6 562.1C483.8 560.5 484.1 558.7 484.3 557.0C484.5 555.3 484.7 553.6 484.9 551.9C485.1 550.2 485.3 548.5 485.5 546.8C485.7 545.1 485.9 543.4 486.1 541.7C486.3 540.0 486.5 538.3 486.8 536.6C487.0 534.9 487.2 533.2 487.4 531.5C487.6 529.8 487.8 528.1 488.0 526.4C488.2 524.7 488.4 523.0 488.6 521.3C488.8 519.6 489.0 517.9 489.2 516.2C489.5 514.5 489.7 512.8 489.9 511.1C490.1 509.4 490.3 507.6 490.6 505.9C490.8 504.2 491.0 502.5 491.3 500.8C491.5 499.1 491.8 497.4 492.0 495.7C492.3 494.0 492.5 492.3 492.8 490.6C493.0 488.9 493.3 487.2 493.6 485.5C493.8 483.8 494.1 482.2 494.4 480.5C494.7 478.8 495.0 477.1 495.3 475.4C495.6 473.7 495.9 472.0 496.2 470.3C496.6 468.7 496.9 467.0 497.2 465.3C497.6 463.6 497.9 461.9 498.3 460.3C498.7 458.6 499.0 456.9 499.4 455.3C499.8 453.6 500.2 451.9 500.6 450.3C501.0 448.6 501.4 447.0 501.9 445.3C502.3 443.7 502.7 442.0 503.2 440.4C503.6 438.7 504.1 437.1 504.6 435.4C505.1 433.8 505.6 432.2 506.1 430.6C506.6 428.9 507.1 427.3 507.7 425.7C508.2 424.1 508.8 422.5 509.4 420.8C509.9 419.2 510.5 417.6 511.1 416.0C511.7 414.4 512.4 412.8 513.0 411.3C513.7 409.7 514.3 408.1 515.0 406.5C515.7 404.9 516.4 403.4 517.1 401.8C517.8 400.2 518.5 398.7 519.3 397.1C520.0 395.6 520.8 394.0 521.6 392.5C522.4 391.0 523.2 389.4 524.1 387.9C524.9 386.4 525.7 384.9 526.6 383.4C527.5 381.9 528.4 380.4 529.3 378.9C530.3 377.4 531.2 376.0 532.2 374.6C533.3 373.2 534.3 371.9 535.4 370.6C536.5 369.3 537.6 368.1 538.7 366.9C539.9 365.7 541.1 364.6 542.4 363.7C543.7 362.7 545.0 361.7 546.4 360.9C547.8 360.1 549.3 359.4 550.8 358.8C552.3 358.2 553.9 357.7 555.5 357.3C557.1 357.0 558.7 356.7 560.4 356.5C562.1 356.4 563.8 356.3 565.6 356.4C567.3 356.5 569.0 356.7 570.8 356.9C572.5 357.2 574.3 357.6 576.0 358.1C577.7 358.6 579.4 359.2 581.0 359.9C582.6 360.5 584.2 361.3 585.8 362.2C587.3 363.1 589.4 364.6 590.1 365.0C590.5 365.8 591.7 368.2 592.4 369.7C593.2 371.3 593.9 372.9 594.6 374.4C595.3 376.0 596.0 377.6 596.7 379.2C597.4 380.8 598.0 382.4 598.7 384.0C599.3 385.6 600.0 387.2 600.6 388.8C601.2 390.4 601.8 392.0 602.4 393.6C603.0 395.2 603.6 396.8 604.2 398.5C604.7 400.1 605.3 401.7 605.8 403.4C606.4 405.0 606.9 406.6 607.4 408.3C607.9 409.9 608.4 411.6 608.9 413.2C609.4 414.9 609.9 416.5 610.4 418.2C610.9 419.8 611.3 421.5 611.8 423.2C612.2 424.8 612.7 426.5 613.1 428.2C613.5 429.8 613.9 431.5 614.3 433.2C614.7 434.9 615.1 436.5 615.5 438.2C615.9 439.9 616.3 441.6 616.6 443.3C617.0 445.0 617.4 446.7 617.7 448.4C618.1 450.0 618.4 451.7 618.7 453.4C619.1 455.1 619.4 456.8 619.7 458.5C620.0 460.2 620.3 462.0 620.6 463.7C620.9 465.4 621.2 467.1 621.5 468.8C621.8 470.5 622.0 472.2 622.3 473.9C622.6 475.6 622.8 477.4 623.1 479.1C623.4 480.8 623.6 482.5 623.8 484.2C624.1 485.9 624.3 487.7 624.6 489.4C624.8 491.1 625.0 492.8 625.2 494.6C625.4 496.3 625.7 498.0 625.9 499.7C626.1 501.5 626.3 503.2 626.5 504.9C626.7 506.6 626.9 508.4 627.1 510.1C627.3 511.8 627.5 513.5 627.6 515.3C627.8 517.0 628.0 518.7 628.2 520.4C628.4 522.2 628.5 523.9 628.7 525.6C628.9 527.4 629.0 529.1 629.2 530.8C629.4 532.5 629.5 534.3 629.7 536.0C629.8 537.7 630.0 539.4 630.2 541.2C630.3 542.9 630.5 544.6 630.6 546.3C630.8 548.0 630.9 549.8 631.1 551.5C631.2 553.2 631.4 554.9 631.5 556.6C631.7 558.4 631.9 560.2 632.0 561.8C632.1 563.4 632.3 565.5 632.4 566.2" stroke="#ff00ff"/>
<path d="M658.84 566.20C658.9 565.4 659.2 563.3 659.4 561.6C659.5 560.0 659.7 558.2 659.9 556.5C660.1 554.8 660.3 553.0 660.5 551.3C660.7 549.6 660.8 547.9 661.0 546.1C661.2 544.4 661.4 542.7 661.6 541.0C661.8 539.3 661.9 537.6 662.1 535.8C662.3 534.1 662.5 532.4 662.7 530.7C662.9 529.0 663.1 527.3 663.3 525.5C663.5 523.8 663.7 522.1 663.8 520.4C664.0 518.7 664.2 517.0 664.4 515.3C664.6 513.6 664.8 511.8 665.1 510.1C665.3 508.4 665.5 506.7 665.7 505.0C665.9 503.3 666.1 501.6 666.4 499.9C666.6 498.2 666.8 496.5 667.0 494.8C667.3 493.1 667.5 491.4 667.8 489.7C668.0 488.0 668.3 486.3 668.5 484.6C668.8 482.9 669.0 481.2 669.3 479.5C669.6 477.8 669.9 476.1 670.1 474.4C670.4 472.7 670.7 471.0 671.0 469.4C671.3 467.7 671.6 466.0 671.9 464.3C672.2 462.6 672.6 460.9 672.9 459.2C673.2 457.6 673.6 455.9 673.9 454.2C674.3 452.5 674.6 450.8 675.0 449.2C675.4 447.5 675.7 445.8 676.1 444.1C676.5 442.4 676.9 440.8 677.3 439.1C677.7 437.4 678.2 435.8 678.6 434.1C679.0 432.4 679.5 430.8 679.9 429.1C680.4 427.4 680.9 425.8 681.3 424.1C681.8 422.5 682.3 420.8 682.8 419.1C683.3 417.5 683.9 415.8 684.4 414.2C684.9 412.5 685.5 410.9 686.0 409.2C686.6 407.6 687.2 405.9 687.8 404.3C688.3 402.6 688.9 401.0 689.6 399.4C690.2 397.7 690.8 396.1 691.5 394.4C692.1 392.8 692.8 391.2 693.5 389.5C694.1 387.9 694.8 386.3 695.6 384.7C696.3 383.0 697.0 381.4 697.8 379.8C698.5 378.2 699.3 376.6 700.1 375.0C700.9 373.4 701.7 371.9 702.6 370.3C703.5 368.8 704.4 367.3 705.3 365.9C706.2 364.5 707.2 363.1 708.3 361.7C709.3 360.4 710.4 359.1 711.5 357.9C712.6 356.7 713.8 355.6 715.1 354.6C716.3 353.5 717.6 352.6 719.0 351.7C720.4 350.8 721.8 350.0 723.3 349.4C724.8 348.7 726.4 348.1 728.0 347.6C729.6 347.2 731.2 346.8 732.9 346.6C734.6 346.3 736.3 346.2 738.0 346.2C739.7 346.2 741.5 346.3 743.2 346.5C744.9 346.7 746.7 347.0 748.4 347.4C750.1 347.8 751.8 348.3 753.5 348.9C755.2 349.6 756.8 350.3 758.4 351.1C760.0 351.9 761.5 352.8 763.0 353.8C764.4 354.8 766.4 356.5 767.1 357.0C767.5 357.8 768.5 360.2 769.2 361.8C769.8 363.3 770.5 364.9 771.1 366.5C771.8 368.1 772.4 369.7 773.0 371.3C773.7 372.9 774.3 374.5 774.9 376.1C775.5 377.7 776.0 379.3 776.6 380.9C777.2 382.5 777.8 384.1 778.3 385.7C778.9 387.3 779.4 388.9 780.0 390.5C780.5 392.2 781.0 393.8 781.5 395.4C782.0 397.0 782.5 398.7 783.0 400.3C783.5 401.9 784.0 403.6 784.5 405.2C784.9 406.8 785.4 408.5 785.9 410.1C786.3 411.8 786.8 413.4 787.2 415.0C787.6 416.7 788.1 418.3 788.5 420.0C788.9 421.6 789.3 423.3 789.7 425.0C790.1 426.6 790.5 428.3 790.9 429.9C791.3 431.6 791.6 433.3 792.0 434.9C792.4 436.6 792.7 438.3 793.1 439.9C793.4 441.6 793.8 443.3 794.1 444.9C794.4 446.6 794.8 448.3 795.1 450.0C795.4 451.6 795.7 453.3 796.0 455.0C796.3 456.7 796.6 458.4 796.9 460.0C797.2 461.7 797.5 463.4 797.8 465.1C798.1 466.8 798.4 468.5 798.6 470.2C798.9 471.8 799.2 473.5 799.4 475.2C799.7 476.9 799.9 478.6 800.2 480.3C800.4 482.0 800.6 483.7 800.9 485.4C801.1 487.1 801.3 488.8 801.6 490.5C801.8 492.2 802.0 493.9 802.2 495.6C802.4 497.3 802.7 499.0 802.9 500.7C803.1 502.4 803.3 504.1 803.5 505.8C803.7 507.5 803.9 509.2 804.0 510.9C804.2 512.6 804.4 514.3 804.6 516.0C804.8 517.7 805.0 519.4 805.1 521.1C805.3 522.8 805.5 524.5 805.6 526.2C805.8 527.9 806.0 529.6 806.1 531.3C806.3 533.0 806.5 534.7 806.6 536.4C806.8 538.1 806.9 539.8 807.1 541.5C807.2 543.2 807.4 544.9 807.5 546.6C807.7 548.3 807.8 550.0 808.0 551.7C808.1 553.4 808.3 555.1 808.4 556.8C808.6 558.5 808.7 560.3 808.8 561.9C809.0 563.5 809.1 565.5 809.2 566.2" stroke="#ff00ff"/>
<path d="M469.00 356.03C469.4 356.8 470.4 359.2 471.1 360.7C471.8 362.3 472.4 363.9 473.1 365.5C473.8 367.0 474.4 368.6 475.1 370.2C475.7 371.8 476.4 373.4 477.0 374.9C477.7 376.5 478.3 378.1 478.9 379.7C479.5 381.3 480.1 382.9 480.7 384.5C481.3 386.1 481.9 387.7 482.5 389.3C483.1 390.9 483.7 392.5 484.3 394.1C484.9 395.7 485.4 397.3 486.0 398.9C486.6 400.5 487.1 402.1 487.7 403.7C488.2 405.3 488.7 407.0 489.3 408.6C489.8 410.2 490.4 411.8 490.9 413.4C491.4 415.1 491.9 416.7 492.4 418.3C492.9 419.9 493.4 421.5 493.9 423.2C494.4 424.8 494.9 426.4 495.4 428.1C495.9 429.7 496.4 431.3 496.9 433.0C497.4 434.6 497.8 436.2 498.3 437.9C498.8 439.5 499.2 441.1 499.7 442.8C500.2 444.4 500.6 446.1 501.1 447.7C501.5 449.4 502.0 451.0 502.4 452.6C502.8 454.3 503.3 455.9 503.7 457.6C504.2 459.2 504.6 460.9 505.0 462.5C505.4 464.2 505.9 465.8 506.3 467.5C506.7 469.1 507.1 470.8 507.5 472.4C507.9 474.1 508.4 475.8 508.8 477.4C509.2 479.1 509.6 480.7 510.0 482.4C510.4 484.0 510.8 485.7 511.2 487.4C511.6 489.0 512.0 490.7 512.4 492.3C512.8 494.0 513.1 495.7 513.5 497.3C513.9 499.0 514.3 500.6 514.7 502.3C515.1 504.0 515.5 505.6 515.8 507.3C516.2 509.0 516.6 510.6 517.0 512.3C517.4 513.9 517.7 515.6 518.1 517.3C518.5 518.9 518.9 520.6 519.2 522.3C519.6 523.9 520.0 525.6 520.4 527.3C520.7 528.9 521.1 530.6 521.5 532.3C521.9 533.9 522.2 535.6 522.6 537.3C523.0 538.9 523.3 540.6 523.7 542.2C524.1 543.9 524.5 545.6 524.8 547.2C525.2 548.9 525.6 550.6 526.0 552.2C526.3 553.9 526.7 555.6 527.1 557.2C527.5 558.9 527.9 560.7 528.2 562.2C528.6 563.7 529.0 565.5 529.1 566.2" stroke="#ff0000" stroke-dasharray="10.2 4.6" stroke-dashoffset="0.0"/>
<path d="M584.53 566.20C584.6 565.5 584.9 563.3 585.1 561.7C585.3 560.1 585.5 558.3 585.7 556.6C585.9 554.9 586.2 553.2 586.4 551.4C586.6 549.7 586.8 548.0 587.1 546.3C587.3 544.6 587.5 542.9 587.7 541.1C588.0 539.4 588.2 537.7 588.5 536.0C588.7 534.3 589.0 532.6 589.2 530.9C589.5 529.2 589.7 527.4 590.0 525.7C590.3 524.0 590.6 522.3 590.9 520.6C591.1 518.9 591.4 517.2 591.8 515.5C592.1 513.8 592.4 512.1 592.7 510.4C593.0 508.7 593.4 507.0 593.7 505.4C594.1 503.7 594.4 502.0 594.8 500.3C595.2 498.6 595.6 496.9 595.9 495.3C596.3 493.6 596.7 491.9 597.1 490.2C597.5 488.5 597.9 486.9 598.3 485.2C598.8 483.5 599.2 481.9 599.6 480.2C600.0 478.5 600.5 476.8 600.9 475.2C601.3 473.5 601.8 471.8 602.2 470.2C602.7 468.5 603.1 466.9 603.6 465.2C604.0 463.5 604.5 461.9 605.0 460.2C605.4 458.5 605.9 456.9 606.3 455.2C606.8 453.5 607.3 451.9 607.8 450.2C608.2 448.6 608.7 446.9 609.2 445.2C609.7 443.6 610.1 441.9 610.6 440.3C611.1 438.6 611.6 436.9 612.1 435.3C612.6 433.6 613.0 432.0 613.5 430.3C614.0 428.6 614.5 427.0 615.0 425.3C615.5 423.7 616.0 422.0 616.5 420.3C617.0 418.7 617.5 417.0 618.0 415.4C618.5 413.7 619.0 412.1 619.5 410.4C620.0 408.8 620.5 407.1 621.0 405.4C621.5 403.8 622.0 402.1 622.5 400.5C623.0 398.8 623.5 397.2 624.1 395.5C624.6 393.9 625.1 392.2 625.6 390.6C626.1 388.9 626.6 387.3 627.2 385.7C627.7 384.0 628.2 382.4 628.8 380.8C629.4 379.1 629.9 377.5 630.5 375.9C631.1 374.3 631.7 372.7 632.3 371.1C632.9 369.5 633.6 367.9 634.3 366.3C634.9 364.7 635.6 363.1 636.3 361.6C637.1 360.0 637.8 358.5 638.6 357.0C639.4 355.4 640.7 353.2 641.1 352.4C641.5 353.2 642.7 355.4 643.4 356.9C644.2 358.4 645.0 359.9 645.7 361.5C646.5 363.0 647.2 364.5 647.9 366.0C648.6 367.6 649.3 369.1 650.0 370.6C650.7 372.2 651.4 373.7 652.1 375.3C652.8 376.8 653.4 378.4 654.1 380.0C654.8 381.5 655.4 383.1 656.0 384.7C656.7 386.2 657.3 387.8 657.9 389.4C658.5 391.0 659.1 392.5 659.7 394.1C660.3 395.7 660.9 397.3 661.5 398.9C662.1 400.5 662.6 402.1 663.2 403.7C663.8 405.3 664.3 406.9 664.9 408.5C665.4 410.1 666.0 411.8 666.5 413.4C667.0 415.0 667.6 416.6 668.1 418.2C668.6 419.9 669.1 421.5 669.6 423.1C670.1 424.7 670.6 426.4 671.1 428.0C671.6 429.6 672.1 431.3 672.6 432.9C673.1 434.5 673.6 436.2 674.0 437.8C674.5 439.4 675.0 441.1 675.4 442.7C675.9 444.4 676.4 446.0 676.8 447.7C677.3 449.3 677.7 451.0 678.2 452.6C678.6 454.2 679.1 455.9 679.5 457.5C680.0 459.2 680.4 460.8 680.9 462.5C681.3 464.1 681.7 465.8 682.2 467.4C682.6 469.1 683.0 470.7 683.5 472.4C683.9 474.0 684.3 475.7 684.7 477.4C685.1 479.0 685.6 480.7 686.0 482.3C686.4 484.0 686.8 485.6 687.2 487.3C687.6 488.9 688.0 490.6 688.4 492.2C688.8 493.9 689.2 495.6 689.6 497.2C690.0 498.9 690.4 500.5 690.8 502.2C691.2 503.8 691.6 505.5 692.0 507.2C692.4 508.8 692.8 510.5 693.1 512.2C693.5 513.8 693.9 515.5 694.3 517.1C694.7 518.8 695.0 520.5 695.4 522.1C695.8 523.8 696.1 525.4 696.5 527.1C696.9 528.8 697.2 530.4 697.6 532.1C698.0 533.8 698.3 535.4 698.7 537.1C699.0 538.8 699.4 540.4 699.7 542.1C700.1 543.8 700.4 545.4 700.8 547.1C701.1 548.8 701.5 550.4 701.8 552.1C702.2 553.8 702.5 555.4 702.8 557.1C703.2 558.8 703.5 560.6 703.8 562.1C704.1 563.6 704.5 565.5 704.6 566.2" stroke="#ff0000" stroke-dasharray="10.2 4.6" stroke-dashoffset="0.0"/>
<path d="M758.37 566.20C758.5 565.5 758.7 563.4 758.9 561.8C759.1 560.2 759.3 558.4 759.5 556.7C759.8 555.0 760.0 553.3 760.2 551.6C760.4 549.9 760.6 548.2 760.9 546.5C761.1 544.8 761.3 543.1 761.6 541.4C761.8 539.7 762.1 538.0 762.3 536.3C762.6 534.6 762.8 532.9 763.1 531.2C763.3 529.5 763.6 527.8 763.9 526.1C764.1 524.4 764.4 522.7 764.7 521.0C765.0 519.4 765.2 517.7 765.5 516.0C765.8 514.3 766.1 512.6 766.4 510.9C766.7 509.2 767.0 507.5 767.3 505.9C767.7 504.2 768.0 502.5 768.3 500.8C768.6 499.1 769.0 497.4 769.3 495.8C769.7 494.1 770.0 492.4 770.4 490.7C770.7 489.1 771.1 487.4 771.5 485.7C771.8 484.1 772.2 482.4 772.6 480.7C773.0 479.0 773.3 477.4 773.7 475.7C774.1 474.0 774.5 472.4 774.9 470.7C775.3 469.1 775.7 467.4 776.2 465.7C776.6 464.1 777.0 462.4 777.4 460.8C777.8 459.1 778.3 457.4 778.7 455.8C779.1 454.1 779.6 452.5 780.0 450.8C780.4 449.2 780.9 447.5 781.3 445.8C781.8 444.2 782.2 442.5 782.7 440.9C783.2 439.2 783.6 437.6 784.1 435.9C784.5 434.3 785.0 432.6 785.5 431.0C785.9 429.3 786.4 427.7 786.9 426.0C787.4 424.4 787.8 422.7 788.3 421.1C788.8 419.5 789.3 417.8 789.8 416.2C790.3 414.5 790.8 412.9 791.3 411.2C791.8 409.6 792.3 408.0 792.8 406.3C793.3 404.7 793.8 403.1 794.4 401.4C794.9 399.8 795.4 398.2 796.0 396.5C796.5 394.9 797.0 393.3 797.6 391.7C798.2 390.0 798.7 388.4 799.3 386.8C799.8 385.2 800.4 383.6 801.0 382.0C801.6 380.4 802.2 378.8 802.8 377.1C803.4 375.5 804.0 373.9 804.6 372.3C805.2 370.7 805.8 369.2 806.5 367.6C807.1 366.0 807.8 364.4 808.4 362.8C809.1 361.2 809.7 359.6 810.4 358.1C811.1 356.5 811.8 354.9 812.5 353.4C813.2 351.8 813.9 350.2 814.6 348.7C815.3 347.1 816.4 344.8 816.8 344.0C817.3 345.2 819.3 349.1 820.2 351.0C821.1 353.0 821.2 353.3 822.2 355.6C823.2 358.0 825.5 363.5 826.2 365.0" stroke="#ff0000" stroke-dasharray="10.2 4.6" stroke-dashoffset="0.0"/>
<path d="M469.30 356.83C469.7 357.6 470.7 360.0 471.4 361.5C472.1 363.1 472.7 364.7 473.4 366.3C474.1 367.8 474.7 369.4 475.4 371.0C476.0 372.6 476.7 374.1 477.3 375.7C478.0 377.3 478.6 378.9 479.2 380.5C479.8 382.1 480.4 383.7 481.1 385.3C481.7 386.9 482.3 388.5 482.8 390.1C483.4 391.7 484.0 393.3 484.6 394.9C485.2 396.5 485.7 398.1 486.3 399.7C486.9 401.3 487.4 402.9 488.0 404.5C488.5 406.1 489.1 407.8 489.6 409.4C490.1 411.0 490.7 412.6 491.2 414.2C491.7 415.8 492.2 417.5 492.7 419.1C493.2 420.7 493.8 422.3 494.3 424.0C494.8 425.6 495.2 427.2 495.7 428.9C496.2 430.5 496.7 432.1 497.2 433.8C497.7 435.4 498.1 437.0 498.6 438.7C499.1 440.3 499.5 441.9 500.0 443.6C500.5 445.2 500.9 446.9 501.4 448.5C501.8 450.2 502.3 451.8 502.7 453.4C503.2 455.1 503.6 456.7 504.0 458.4C504.5 460.0 504.9 461.7 505.3 463.3C505.7 465.0 506.2 466.6 506.6 468.3C507.0 469.9 507.4 471.6 507.8 473.2C508.3 474.9 508.7 476.6 509.1 478.2C509.5 479.9 509.9 481.5 510.3 483.2C510.7 484.8 511.1 486.5 511.5 488.2C511.9 489.8 512.3 491.5 512.7 493.1C513.1 494.8 513.4 496.5 513.8 498.1C514.2 499.8 514.6 501.4 515.0 503.1C515.4 504.8 515.8 506.4 516.1 508.1C516.5 509.8 516.9 511.4 517.3 513.1C517.7 514.7 518.0 516.4 518.4 518.1C518.8 519.7 519.2 521.4 519.5 523.1C519.9 524.7 520.3 526.4 520.7 528.1C521.0 529.7 521.4 531.4 521.8 533.1C522.2 534.7 522.5 536.4 522.9 538.1C523.3 539.7 523.6 541.4 524.0 543.0C524.4 544.7 524.8 546.4 525.1 548.0C525.5 549.7 525.9 551.4 526.3 553.0C526.6 554.7 527.0 556.4 527.4 558.0C527.8 559.7 528.2 561.7 528.5 563.0C528.8 564.4 529.1 565.7 529.3 566.2" stroke="#00ff00" stroke-dasharray="10.2 4.6" stroke-dashoffset="0.8"/>
<path d="M581.88 566.20C582.0 565.6 582.2 564.0 582.3 562.5C582.5 561.1 582.8 559.1 583.0 557.4C583.3 555.7 583.5 554.0 583.7 552.3C584.0 550.6 584.2 548.9 584.5 547.2C584.7 545.4 585.0 543.7 585.3 542.0C585.5 540.3 585.8 538.6 586.0 536.9C586.3 535.2 586.6 533.5 586.9 531.8C587.1 530.1 587.4 528.4 587.7 526.7C588.0 525.0 588.3 523.3 588.6 521.6C588.9 519.9 589.2 518.2 589.5 516.5C589.8 514.8 590.1 513.1 590.4 511.4C590.7 509.7 591.0 508.0 591.4 506.3C591.7 504.6 592.0 502.9 592.3 501.2C592.7 499.5 593.0 497.8 593.3 496.1C593.7 494.4 594.0 492.7 594.4 491.0C594.7 489.3 595.1 487.6 595.4 485.9C595.8 484.2 596.2 482.6 596.5 480.9C596.9 479.2 597.3 477.5 597.6 475.8C598.0 474.1 598.4 472.4 598.8 470.7C599.2 469.1 599.6 467.4 600.0 465.7C600.4 464.0 600.8 462.3 601.2 460.6C601.6 459.0 602.0 457.3 602.4 455.6C602.8 453.9 603.2 452.3 603.6 450.6C604.1 448.9 604.5 447.2 604.9 445.6C605.4 443.9 605.8 442.2 606.2 440.5C606.7 438.9 607.1 437.2 607.6 435.5C608.0 433.9 608.5 432.2 609.0 430.5C609.4 428.9 609.9 427.2 610.4 425.5C610.8 423.9 611.3 422.2 611.8 420.6C612.3 418.9 612.7 417.2 613.2 415.6C613.7 413.9 614.2 412.3 614.7 410.6C615.2 409.0 615.7 407.3 616.2 405.7C616.7 404.0 617.3 402.4 617.8 400.7C618.3 399.1 618.8 397.4 619.4 395.8C619.9 394.1 620.4 392.5 621.0 390.9C621.5 389.2 622.0 387.6 622.6 385.9C623.1 384.3 623.7 382.7 624.2 381.0C624.8 379.4 625.4 377.8 625.9 376.1C626.5 374.5 627.1 372.9 627.7 371.3C628.2 369.6 628.8 368.0 629.4 366.4C630.0 364.8 630.6 363.1 631.2 361.5C631.8 359.9 632.4 358.3 633.0 356.7C633.6 355.1 634.2 353.5 634.8 351.8C635.5 350.2 636.1 348.6 636.7 347.0C637.3 345.4 638.0 343.8 638.6 342.2C639.3 340.6 640.2 338.2 640.6 337.4L643.77 337.41C644.1 338.2 645.1 340.6 645.8 342.2C646.4 343.8 647.1 345.4 647.7 347.1C648.4 348.7 649.0 350.3 649.6 351.9C650.3 353.5 650.9 355.1 651.5 356.8C652.2 358.4 652.8 360.0 653.4 361.6C654.0 363.2 654.6 364.9 655.2 366.5C655.8 368.1 656.4 369.8 657.0 371.4C657.6 373.0 658.2 374.6 658.8 376.3C659.4 377.9 659.9 379.6 660.5 381.2C661.1 382.8 661.7 384.5 662.2 386.1C662.8 387.7 663.3 389.4 663.9 391.0C664.5 392.7 665.0 394.3 665.5 396.0C666.1 397.6 666.6 399.3 667.2 400.9C667.7 402.6 668.2 404.2 668.8 405.9C669.3 407.5 669.8 409.2 670.3 410.8C670.8 412.5 671.3 414.1 671.9 415.8C672.4 417.5 672.9 419.1 673.4 420.8C673.9 422.4 674.4 424.1 674.9 425.8C675.3 427.4 675.8 429.1 676.3 430.8C676.8 432.4 677.3 434.1 677.7 435.8C678.2 437.4 678.7 439.1 679.2 440.8C679.6 442.4 680.1 444.1 680.5 445.8C681.0 447.5 681.5 449.1 681.9 450.8C682.4 452.5 682.8 454.2 683.2 455.8C683.7 457.5 684.1 459.2 684.6 460.9C685.0 462.6 685.4 464.2 685.9 465.9C686.3 467.6 686.7 469.3 687.1 471.0C687.5 472.7 688.0 474.3 688.4 476.0C688.8 477.7 689.2 479.4 689.6 481.1C690.0 482.8 690.4 484.5 690.8 486.2C691.2 487.8 691.6 489.5 692.0 491.2C692.4 492.9 692.8 494.6 693.2 496.3C693.6 498.0 693.9 499.7 694.3 501.4C694.7 503.1 695.1 504.8 695.5 506.5C695.8 508.2 696.2 509.9 696.6 511.6C696.9 513.3 697.3 514.9 697.7 516.6C698.0 518.3 698.4 520.0 698.8 521.7C699.1 523.4 699.5 525.1 699.8 526.8C700.2 528.5 700.5 530.2 700.9 531.9C701.2 533.6 701.6 535.3 701.9 537.0C702.2 538.7 702.6 540.5 702.9 542.2C703.3 543.9 703.6 545.6 703.9 547.3C704.2 549.0 704.6 550.7 704.9 552.4C705.2 554.1 705.6 555.8 705.9 557.5C706.2 559.2 706.6 561.2 706.8 562.6C707.1 564.1 707.4 565.6 707.5 566.2" stroke="#00ff00" stroke-dasharray="10.2 4.6" stroke-dashoffset="0.8"/>
<path d="M757.66 566.20C757.7 565.6 757.9 564.0 758.1 562.6C758.3 561.1 758.5 559.2 758.7 557.5C759.0 555.8 759.2 554.2 759.4 552.5C759.6 550.8 759.8 549.1 760.1 547.4C760.3 545.7 760.5 544.1 760.8 542.4C761.0 540.7 761.3 539.0 761.5 537.3C761.7 535.6 762.0 534.0 762.2 532.3C762.5 530.6 762.7 528.9 763.0 527.2C763.3 525.5 763.5 523.9 763.8 522.2C764.1 520.5 764.3 518.8 764.6 517.1C764.9 515.5 765.2 513.8 765.4 512.1C765.7 510.4 766.0 508.7 766.3 507.1C766.6 505.4 766.9 503.7 767.2 502.0C767.5 500.3 767.8 498.7 768.1 497.0C768.4 495.3 768.7 493.6 769.0 492.0C769.3 490.3 769.6 488.6 770.0 487.0C770.3 485.3 770.6 483.6 770.9 481.9C771.3 480.3 771.6 478.6 771.9 476.9C772.3 475.3 772.6 473.6 773.0 471.9C773.3 470.3 773.7 468.6 774.0 466.9C774.4 465.3 774.7 463.6 775.1 461.9C775.5 460.3 775.8 458.6 776.2 456.9C776.6 455.3 777.0 453.6 777.4 452.0C777.7 450.3 778.1 448.7 778.5 447.0C778.9 445.3 779.3 443.7 779.7 442.0C780.1 440.4 780.5 438.7 780.9 437.1C781.4 435.4 781.8 433.8 782.2 432.1C782.6 430.5 783.0 428.8 783.5 427.2C783.9 425.5 784.3 423.9 784.8 422.2C785.2 420.6 785.7 419.0 786.1 417.3C786.6 415.7 787.1 414.0 787.5 412.4C788.0 410.8 788.5 409.1 788.9 407.5C789.4 405.9 789.9 404.2 790.4 402.6C790.9 401.0 791.4 399.4 791.9 397.7C792.4 396.1 792.9 394.5 793.4 392.9C793.9 391.3 794.4 389.6 794.9 388.0C795.5 386.4 796.0 384.8 796.5 383.2C797.1 381.6 797.6 380.0 798.2 378.4C798.7 376.7 799.3 375.1 799.8 373.5C800.4 371.9 801.0 370.3 801.6 368.7C802.1 367.1 802.7 365.5 803.3 364.0C803.9 362.4 804.5 360.8 805.1 359.2C805.7 357.6 806.3 356.0 806.9 354.4C807.6 352.9 808.2 351.3 808.8 349.7C809.5 348.1 810.1 346.6 810.8 345.0C811.4 343.4 812.1 341.8 812.7 340.3C813.4 338.7 814.4 336.4 814.8 335.6C815.5 337.4 817.9 343.1 819.4 346.6C820.8 350.1 822.0 353.3 823.4 356.6C824.7 360.0 826.7 365.0 827.4 366.6" stroke="#00ff00" stroke-dasharray="10.2 4.6" stroke-dashoffset="0.8"/>
<path d="M469.00 356.03C469.4 356.8 470.4 359.2 471.1 360.7C471.8 362.3 472.4 363.9 473.1 365.5C473.8 367.0 474.4 368.6 475.1 370.2C475.7 371.8 476.4 373.4 477.0 374.9C477.7 376.5 478.3 378.1 478.9 379.7C479.5 381.3 480.1 382.9 480.7 384.5C481.3 386.1 481.9 387.7 482.5 389.3C483.1 390.9 483.7 392.5 484.3 394.1C484.9 395.7 485.4 397.3 486.0 398.9C486.6 400.5 487.1 402.1 487.7 403.7C488.2 405.3 488.7 407.0 489.3 408.6C489.8 410.2 490.4 411.8 490.9 413.4C491.4 415.1 491.9 416.7 492.4 418.3C492.9 419.9 493.4 421.5 493.9 423.2C494.4 424.8 494.9 426.4 495.4 428.1C495.9 429.7 496.4 431.3 496.9 433.0C497.4 434.6 497.8 436.2 498.3 437.9C498.8 439.5 499.2 441.1 499.7 442.8C500.2 444.4 500.6 446.1 501.1 447.7C501.5 449.4 502.0 451.0 502.4 452.6C502.8 454.3 503.3 455.9 503.7 457.6C504.2 459.2 504.6 460.9 505.0 462.5C505.4 464.2 505.9 465.8 506.3 467.5C506.7 469.1 507.1 470.8 507.5 472.4C507.9 474.1 508.4 475.8 508.8 477.4C509.2 479.1 509.6 480.7 510.0 482.4C510.4 484.0 510.8 485.7 511.2 487.4C511.6 489.0 512.0 490.7 512.4 492.3C512.8 494.0 513.1 495.7 513.5 497.3C513.9 499.0 514.3 500.6 514.7 502.3C515.1 504.0 515.5 505.6 515.8 507.3C516.2 509.0 516.6 510.6 517.0 512.3C517.4 513.9 517.7 515.6 518.1 517.3C518.5 518.9 518.9 520.6 519.2 522.3C519.6 523.9 520.0 525.6 520.4 527.3C520.7 528.9 521.1 530.6 521.5 532.3C521.9 533.9 522.2 535.6 522.6 537.3C523.0 538.9 523.3 540.6 523.7 542.2C524.1 543.9 524.5 545.6 524.8 547.2C525.2 548.9 525.6 550.6 526.0 552.2C526.3 553.9 526.7 555.6 527.1 557.2C527.5 558.9 527.9 560.7 528.2 562.2C528.6 563.7 529.0 565.5 529.1 566.2" stroke="#0000ff" stroke-dasharray="10.2 4.6" stroke-dashoffset="0.0"/>
<path d="M581.47 566.20C581.6 565.5 581.8 563.3 582.0 561.7C582.3 560.2 582.5 558.3 582.7 556.6C583.0 554.9 583.2 553.2 583.4 551.5C583.7 549.8 583.9 548.1 584.2 546.4C584.4 544.6 584.7 542.9 585.0 541.2C585.2 539.5 585.5 537.8 585.7 536.1C586.0 534.4 586.3 532.7 586.6 531.0C586.8 529.3 587.1 527.6 587.4 525.9C587.7 524.2 588.0 522.5 588.3 520.8C588.6 519.1 588.9 517.4 589.2 515.7C589.5 514.0 589.8 512.3 590.1 510.6C590.4 508.9 590.7 507.2 591.1 505.5C591.4 503.8 591.7 502.1 592.0 500.4C592.4 498.7 592.7 497.0 593.0 495.3C593.4 493.6 593.7 491.9 594.1 490.2C594.4 488.5 594.8 486.8 595.1 485.1C595.5 483.4 595.9 481.8 596.2 480.1C596.6 478.4 597.0 476.7 597.3 475.0C597.7 473.3 598.1 471.6 598.5 469.9C598.9 468.3 599.3 466.6 599.7 464.9C600.1 463.2 600.5 461.5 600.9 459.8C601.3 458.2 601.7 456.5 602.1 454.8C602.5 453.1 602.9 451.5 603.3 449.8C603.8 448.1 604.2 446.4 604.6 444.8C605.1 443.1 605.5 441.4 605.9 439.7C606.4 438.1 606.8 436.4 607.3 434.7C607.7 433.1 608.2 431.4 608.7 429.7C609.1 428.1 609.6 426.4 610.1 424.7C610.5 423.1 611.0 421.4 611.5 419.8C612.0 418.1 612.4 416.4 612.9 414.8C613.4 413.1 613.9 411.5 614.4 409.8C614.9 408.2 615.4 406.5 615.9 404.9C616.4 403.2 617.0 401.6 617.5 399.9C618.0 398.3 618.5 396.6 619.1 395.0C619.6 393.3 620.1 391.7 620.7 390.1C621.2 388.4 621.7 386.8 622.3 385.1C622.8 383.5 623.4 381.9 623.9 380.2C624.5 378.6 625.1 377.0 625.6 375.3C626.2 373.7 626.8 372.1 627.4 370.5C627.9 368.8 628.5 367.2 629.1 365.6C629.7 364.0 630.3 362.3 630.9 360.7C631.5 359.1 632.1 357.5 632.7 355.9C633.3 354.3 633.9 352.7 634.5 351.0C635.2 349.4 635.8 347.8 636.4 346.2C637.0 344.6 637.7 343.0 638.3 341.4C639.0 339.8 639.9 337.4 640.3 336.6L643.47 336.61C643.8 337.4 644.8 339.8 645.5 341.4C646.1 343.0 646.8 344.6 647.4 346.3C648.1 347.9 648.7 349.5 649.3 351.1C650.0 352.7 650.6 354.3 651.2 356.0C651.9 357.6 652.5 359.2 653.1 360.8C653.7 362.4 654.3 364.1 654.9 365.7C655.5 367.3 656.1 369.0 656.7 370.6C657.3 372.2 657.9 373.8 658.5 375.5C659.1 377.1 659.6 378.8 660.2 380.4C660.8 382.0 661.4 383.7 661.9 385.3C662.5 386.9 663.0 388.6 663.6 390.2C664.2 391.9 664.7 393.5 665.2 395.2C665.8 396.8 666.3 398.5 666.9 400.1C667.4 401.8 667.9 403.4 668.5 405.1C669.0 406.7 669.5 408.4 670.0 410.0C670.5 411.7 671.0 413.3 671.6 415.0C672.1 416.7 672.6 418.3 673.1 420.0C673.6 421.6 674.1 423.3 674.6 425.0C675.0 426.6 675.5 428.3 676.0 430.0C676.5 431.6 677.0 433.3 677.4 435.0C677.9 436.6 678.4 438.3 678.9 440.0C679.3 441.6 679.8 443.3 680.2 445.0C680.7 446.7 681.2 448.3 681.6 450.0C682.1 451.7 682.5 453.4 682.9 455.0C683.4 456.7 683.8 458.4 684.3 460.1C684.7 461.8 685.1 463.4 685.6 465.1C686.0 466.8 686.4 468.5 686.8 470.2C687.2 471.9 687.7 473.5 688.1 475.2C688.5 476.9 688.9 478.6 689.3 480.3C689.7 482.0 690.1 483.7 690.5 485.4C690.9 487.0 691.3 488.7 691.7 490.4C692.1 492.1 692.5 493.8 692.9 495.5C693.3 497.2 693.6 498.9 694.0 500.6C694.4 502.3 694.8 504.0 695.2 505.7C695.5 507.4 695.9 509.1 696.3 510.8C696.6 512.5 697.0 514.1 697.4 515.8C697.7 517.5 698.1 519.2 698.5 520.9C698.8 522.6 699.2 524.3 699.5 526.0C699.9 527.7 700.2 529.4 700.6 531.1C700.9 532.8 701.3 534.5 701.6 536.2C701.9 537.9 702.3 539.7 702.6 541.4C703.0 543.1 703.3 544.8 703.6 546.5C703.9 548.2 704.3 549.9 704.6 551.6C704.9 553.3 705.3 555.0 705.6 556.7C705.9 558.4 706.2 560.2 706.5 561.8C706.8 563.4 707.2 565.5 707.4 566.2" stroke="#0000ff" stroke-dasharray="10.2 4.6" stroke-dashoffset="0.0"/>
<path d="M756.38 566.20C756.5 565.5 756.7 563.5 756.9 562.0C757.1 560.4 757.3 558.6 757.5 556.9C757.7 555.2 758.0 553.6 758.2 551.9C758.4 550.2 758.6 548.5 758.9 546.8C759.1 545.1 759.3 543.4 759.6 541.8C759.8 540.1 760.0 538.4 760.3 536.7C760.5 535.0 760.8 533.3 761.0 531.7C761.3 530.0 761.5 528.3 761.8 526.6C762.0 524.9 762.3 523.3 762.6 521.6C762.8 519.9 763.1 518.2 763.4 516.5C763.7 514.8 763.9 513.2 764.2 511.5C764.5 509.8 764.8 508.1 765.1 506.5C765.4 504.8 765.7 503.1 766.0 501.4C766.3 499.7 766.6 498.1 766.9 496.4C767.2 494.7 767.5 493.0 767.8 491.4C768.1 489.7 768.4 488.0 768.8 486.4C769.1 484.7 769.4 483.0 769.7 481.3C770.1 479.7 770.4 478.0 770.8 476.3C771.1 474.7 771.4 473.0 771.8 471.3C772.1 469.7 772.5 468.0 772.8 466.3C773.2 464.7 773.6 463.0 773.9 461.3C774.3 459.7 774.7 458.0 775.0 456.4C775.4 454.7 775.8 453.0 776.2 451.4C776.6 449.7 777.0 448.1 777.3 446.4C777.7 444.7 778.1 443.1 778.5 441.4C778.9 439.8 779.4 438.1 779.8 436.5C780.2 434.8 780.6 433.2 781.0 431.5C781.4 429.9 781.9 428.2 782.3 426.6C782.7 424.9 783.2 423.3 783.6 421.7C784.1 420.0 784.5 418.4 785.0 416.7C785.4 415.1 785.9 413.4 786.3 411.8C786.8 410.2 787.3 408.5 787.7 406.9C788.2 405.3 788.7 403.6 789.2 402.0C789.7 400.4 790.2 398.8 790.7 397.1C791.2 395.5 791.7 393.9 792.2 392.3C792.7 390.6 793.2 389.0 793.7 387.4C794.3 385.8 794.8 384.2 795.3 382.6C795.9 381.0 796.4 379.3 796.9 377.7C797.5 376.1 798.1 374.5 798.6 372.9C799.2 371.3 799.8 369.7 800.3 368.1C800.9 366.5 801.5 364.9 802.1 363.3C802.7 361.7 803.3 360.2 803.9 358.6C804.5 357.0 805.1 355.4 805.7 353.8C806.3 352.2 807.0 350.7 807.6 349.1C808.2 347.5 808.9 345.9 809.5 344.4C810.2 342.8 810.9 341.2 811.5 339.7C812.2 338.1 813.2 335.8 813.6 335.0C814.3 336.8 816.7 342.5 818.2 346.0C819.6 349.5 820.8 352.7 822.2 356.0C823.5 359.4 825.5 364.4 826.2 366.0" stroke="#0000ff" stroke-dasharray="10.2 4.6" stroke-dashoffset="0.0"/>
<path d="M469.00 356.03C469.4 356.8 470.4 359.2 471.1 360.7C471.8 362.3 472.4 363.9 473.1 365.5C473.8 367.0 474.4 368.6 475.1 370.2C475.7 371.8 476.4 373.4 477.0 374.9C477.7 376.5 478.3 378.1 478.9 379.7C479.5 381.3 480.1 382.9 480.7 384.5C481.3 386.1 481.9 387.7 482.5 389.3C483.1 390.9 483.7 392.5 484.3 394.1C484.9 395.7 485.4 397.3 486.0 398.9C486.6 400.5 487.1 402.1 487.7 403.7C488.2 405.3 488.7 407.0 489.3 408.6C489.8 410.2 490.4 411.8 490.9 413.4C491.4 415.1 491.9 416.7 492.4 418.3C492.9 419.9 493.4 421.5 493.9 423.2C494.4 424.8 494.9 426.4 495.4 428.1C495.9 429.7 496.4 431.3 496.9 433.0C497.4 434.6 497.8 436.2 498.3 437.9C498.8 439.5 499.2 441.1 499.7 442.8C500.2 444.4 500.6 446.1 501.1 447.7C501.5 449.4 502.0 451.0 502.4 452.6C502.8 454.3 503.3 455.9 503.7 457.6C504.2 459.2 504.6 460.9 505.0 462.5C505.4 464.2 505.9 465.8 506.3 467.5C506.7 469.1 507.1 470.8 507.5 472.4C507.9 474.1 508.4 475.8 508.8 477.4C509.2 479.1 509.6 480.7 510.0 482.4C510.4 484.0 510.8 485.7 511.2 487.4C511.6 489.0 512.0 490.7 512.4 492.3C512.8 494.0 513.1 495.7 513.5 497.3C513.9 499.0 514.3 500.6 514.7 502.3C515.1 504.0 515.5 505.6 515.8 507.3C516.2 509.0 516.6 510.6 517.0 512.3C517.4 513.9 517.7 515.6 518.1 517.3C518.5 518.9 518.9 520.6 519.2 522.3C519.6 523.9 520.0 525.6 520.4 527.3C520.7 528.9 521.1 530.6 521.5 532.3C521.9 533.9 522.2 535.6 522.6 537.3C523.0 538.9 523.3 540.6 523.7 542.2C524.1 543.9 524.5 545.6 524.8 547.2C525.2 548.9 525.6 550.6 526.0 552.2C526.3 553.9 526.7 555.6 527.1 557.2C527.5 558.9 527.9 560.7 528.2 562.2C528.6 563.7 529.0 565.5 529.1 566.2" stroke="#ff00ff" stroke-dasharray="10.2 4.6" stroke-dashoffset="7.4"/>
<path d="M581.71 566.20C581.8 565.5 582.1 563.5 582.3 562.0C582.5 560.4 582.7 558.6 583.0 556.9C583.2 555.2 583.4 553.5 583.7 551.8C583.9 550.2 584.2 548.5 584.4 546.8C584.7 545.1 584.9 543.4 585.2 541.7C585.5 540.1 585.7 538.4 586.0 536.7C586.3 535.0 586.6 533.3 586.8 531.7C587.1 530.0 587.4 528.3 587.7 526.6C588.0 524.9 588.3 523.3 588.6 521.6C588.9 519.9 589.2 518.2 589.5 516.6C589.8 514.9 590.1 513.2 590.4 511.5C590.7 509.9 591.1 508.2 591.4 506.5C591.7 504.8 592.0 503.2 592.4 501.5C592.7 499.8 593.0 498.1 593.4 496.5C593.7 494.8 594.1 493.1 594.4 491.5C594.8 489.8 595.1 488.1 595.5 486.5C595.8 484.8 596.2 483.1 596.6 481.5C596.9 479.8 597.3 478.1 597.7 476.5C598.1 474.8 598.5 473.2 598.8 471.5C599.2 469.8 599.6 468.2 600.0 466.5C600.4 464.9 600.8 463.2 601.2 461.6C601.6 459.9 602.0 458.2 602.5 456.6C602.9 454.9 603.3 453.3 603.7 451.6C604.1 450.0 604.6 448.3 605.0 446.7C605.4 445.0 605.9 443.4 606.3 441.7C606.7 440.1 607.2 438.5 607.6 436.8C608.1 435.2 608.5 433.5 609.0 431.9C609.5 430.2 609.9 428.6 610.4 427.0C610.8 425.3 611.3 423.7 611.8 422.1C612.3 420.4 612.8 418.8 613.2 417.2C613.7 415.5 614.2 413.9 614.7 412.3C615.2 410.6 615.7 409.0 616.2 407.4C616.7 405.7 617.2 404.1 617.7 402.5C618.2 400.9 618.8 399.3 619.3 397.6C619.8 396.0 620.3 394.4 620.9 392.8C621.4 391.2 621.9 389.5 622.5 387.9C623.0 386.3 623.6 384.7 624.1 383.1C624.7 381.5 625.2 379.9 625.8 378.3C626.3 376.7 626.9 375.0 627.5 373.4C628.0 371.8 628.6 370.2 629.2 368.6C629.8 367.0 630.3 365.4 630.9 363.8C631.5 362.2 632.1 360.6 632.7 359.0C633.3 357.5 633.9 355.9 634.5 354.3C635.1 352.7 635.7 351.1 636.3 349.5C636.9 347.9 637.5 346.3 638.2 344.7C638.8 343.2 639.7 340.8 640.1 340.0C640.5 340.8 641.7 343.1 642.5 344.6C643.2 346.1 644.0 347.7 644.7 349.2C645.5 350.7 646.2 352.3 647.0 353.8C647.7 355.4 648.4 356.9 649.2 358.5C649.9 360.1 650.6 361.6 651.3 363.2C652.0 364.8 652.6 366.3 653.3 367.9C654.0 369.5 654.6 371.1 655.3 372.7C656.0 374.2 656.6 375.8 657.2 377.4C657.9 379.0 658.5 380.6 659.1 382.2C659.7 383.8 660.3 385.4 660.9 387.0C661.5 388.6 662.1 390.2 662.7 391.8C663.3 393.5 663.9 395.1 664.4 396.7C665.0 398.3 665.6 399.9 666.1 401.6C666.7 403.2 667.2 404.8 667.8 406.4C668.3 408.1 668.8 409.7 669.4 411.3C669.9 413.0 670.4 414.6 670.9 416.3C671.4 417.9 671.9 419.5 672.4 421.2C672.9 422.8 673.4 424.5 673.9 426.1C674.4 427.8 674.9 429.4 675.3 431.1C675.8 432.7 676.3 434.4 676.7 436.0C677.2 437.7 677.7 439.4 678.1 441.0C678.6 442.7 679.0 444.3 679.4 446.0C679.9 447.7 680.3 449.3 680.8 451.0C681.2 452.7 681.6 454.3 682.0 456.0C682.5 457.7 682.9 459.4 683.3 461.0C683.7 462.7 684.1 464.4 684.5 466.0C684.9 467.7 685.3 469.4 685.8 471.1C686.2 472.8 686.5 474.4 686.9 476.1C687.3 477.8 687.7 479.5 688.1 481.1C688.5 482.8 688.9 484.5 689.3 486.2C689.6 487.9 690.0 489.6 690.4 491.2C690.8 492.9 691.1 494.6 691.5 496.3C691.9 498.0 692.2 499.7 692.6 501.3C693.0 503.0 693.3 504.7 693.7 506.4C694.1 508.1 694.4 509.8 694.8 511.5C695.1 513.1 695.5 514.8 695.8 516.5C696.2 518.2 696.5 519.9 696.9 521.6C697.2 523.3 697.6 524.9 697.9 526.6C698.3 528.3 698.6 530.0 698.9 531.7C699.3 533.4 699.6 535.1 700.0 536.8C700.3 538.4 700.6 540.1 701.0 541.8C701.3 543.5 701.6 545.2 702.0 546.9C702.3 548.6 702.6 550.2 703.0 551.9C703.3 553.6 703.6 555.3 704.0 557.0C704.3 558.7 704.7 560.5 705.0 562.0C705.3 563.6 705.7 565.5 705.8 566.2" stroke="#ff00ff" stroke-dasharray="10.2 4.6" stroke-dashoffset="0.5"/>
<path d="M756.38 566.20C756.5 565.5 756.7 563.5 756.9 561.9C757.1 560.3 757.3 558.5 757.5 556.8C757.8 555.1 758.0 553.4 758.2 551.7C758.4 550.0 758.6 548.4 758.9 546.7C759.1 545.0 759.3 543.3 759.6 541.6C759.8 539.9 760.1 538.2 760.3 536.5C760.5 534.8 760.8 533.1 761.0 531.4C761.3 529.7 761.6 528.0 761.8 526.4C762.1 524.7 762.3 523.0 762.6 521.3C762.9 519.6 763.1 517.9 763.4 516.2C763.7 514.5 764.0 512.8 764.3 511.1C764.5 509.5 764.8 507.8 765.1 506.1C765.4 504.4 765.7 502.7 766.0 501.0C766.3 499.3 766.6 497.7 766.9 496.0C767.2 494.3 767.5 492.6 767.9 490.9C768.2 489.2 768.5 487.6 768.8 485.9C769.1 484.2 769.5 482.5 769.8 480.8C770.1 479.2 770.5 477.5 770.8 475.8C771.2 474.1 771.5 472.5 771.9 470.8C772.2 469.1 772.6 467.4 772.9 465.8C773.3 464.1 773.7 462.4 774.0 460.8C774.4 459.1 774.8 457.4 775.2 455.7C775.5 454.1 775.9 452.4 776.3 450.7C776.7 449.1 777.1 447.4 777.5 445.7C777.9 444.1 778.3 442.4 778.7 440.8C779.1 439.1 779.5 437.4 780.0 435.8C780.4 434.1 780.8 432.5 781.2 430.8C781.7 429.2 782.1 427.5 782.5 425.9C783.0 424.2 783.4 422.6 783.9 420.9C784.3 419.3 784.8 417.6 785.2 416.0C785.7 414.3 786.2 412.7 786.6 411.0C787.1 409.4 787.6 407.7 788.1 406.1C788.6 404.5 789.0 402.8 789.5 401.2C790.0 399.6 790.5 397.9 791.0 396.3C791.5 394.7 792.1 393.0 792.6 391.4C793.1 389.8 793.6 388.1 794.1 386.5C794.7 384.9 795.2 383.3 795.7 381.7C796.3 380.0 796.8 378.4 797.4 376.8C797.9 375.2 798.5 373.6 799.0 372.0C799.6 370.3 800.2 368.7 800.7 367.1C801.3 365.5 801.9 363.9 802.5 362.3C803.1 360.7 803.7 359.1 804.3 357.5C804.9 355.9 805.5 354.3 806.1 352.7C806.7 351.1 807.3 349.5 807.9 347.9C808.6 346.3 809.2 344.7 809.8 343.2C810.5 341.6 811.4 339.2 811.8 338.4C812.5 339.6 814.6 342.9 816.0 345.6C817.4 348.3 819.0 351.9 820.2 354.4C821.4 357.0 822.0 358.3 823.2 361.0C824.4 363.8 826.5 369.4 827.2 371.0" stroke="#ff00ff" stroke-dasharray="10.2 4.6" stroke-dashoffset="0.5"/>
</g>
<path d="M470.10 555.95h9.00M822.10 555.95h-9.00M470.10 514.47h9.00M822.10 514.47h-9.00M470.10 482.30h9.00M822.10 482.30h-9.00M470.10 456.02h9.00M822.10 456.02h-9.00M470.10 433.79h9.00M822.10 433.79h-9.00M470.10 414.54h9.00M822.10 414.54h-9.00M470.10 397.56h9.00M822.10 397.56h-9.00M470.10 382.36h9.00M822.10 382.36h-9.00M470.10 368.62h9.00M822.10 368.62h-9.00M470.10 356.08h9.00M822.10 356.08h-9.00M470.10 344.54h9.00M822.10 344.54h-9.00M470.10 333.85h9.00M822.10 333.85h-9.00M470.10 314.60v9.00M470.10 565.90v-9.00M558.10 314.60v9.00M558.10 565.90v-9.00M646.10 314.60v9.00M646.10 565.90v-9.00M734.10 314.60v9.00M734.10 565.90v-9.00M822.10 314.60v9.00M822.10 565.90v-9.00" stroke="#000" stroke-width="1.40" fill="none"/>
<path d="M470.10 482.50h9.50M822.10 482.50h-9.50" stroke="#666" stroke-width="1.0" fill="none" opacity="1"/>
<path d="M470.10 556.15h9.50M822.10 556.15h-9.50" stroke="#666" stroke-width="1.0" fill="none" opacity="1"/>
<rect x="470.10" y="314.60" width="352.00" height="251.30" fill="none" stroke="#000" stroke-width="1.65"/>
<text transform="translate(75.5,123.50) scale(1.2,1)" font-size="15.80" text-anchor="end">10</text>
<text transform="translate(75.5,223.64) scale(1.2,1)" font-size="15.80" text-anchor="end">5</text>
<text transform="translate(75.5,297.43) scale(1.2,1)" font-size="15.80" text-anchor="end">3</text>
<g transform="translate(58.2,199.20) rotate(-90)">
<path d="M0.8 -5.6L2.6 -6.8L6.6 2.6L15.0 -17.7H48.8" fill="none" stroke="#000" stroke-width="1.0" stroke-linejoin="miter"/>
<path d="M2.4 -6.6L6.4 2.4" fill="none" stroke="#000" stroke-width="1.5"/>
<text x="15.0" y="0" font-size="17.5" textLength="12.6" lengthAdjust="spacingAndGlyphs">Δ</text>
<text x="28.6" y="-1.8" font-size="17" font-style="italic" textLength="9.6" lengthAdjust="spacingAndGlyphs">χ</text>
<text x="40.0" y="-8.2" font-size="11.5" stroke="none" textLength="6.6" lengthAdjust="spacingAndGlyphs">2</text>
</g>
<text transform="translate(75.5,387.86) scale(1.2,1)" font-size="15.80" text-anchor="end">10</text>
<text transform="translate(75.5,487.80) scale(1.2,1)" font-size="15.80" text-anchor="end">5</text>
<text transform="translate(75.5,561.45) scale(1.2,1)" font-size="15.80" text-anchor="end">3</text>
<g transform="translate(58.2,463.70) rotate(-90)">
<path d="M0.8 -5.6L2.6 -6.8L6.6 2.6L15.0 -17.7H48.8" fill="none" stroke="#000" stroke-width="1.0" stroke-linejoin="miter"/>
<path d="M2.4 -6.6L6.4 2.4" fill="none" stroke="#000" stroke-width="1.5"/>
<text x="15.0" y="0" font-size="17.5" textLength="12.6" lengthAdjust="spacingAndGlyphs">Δ</text>
<text x="28.6" y="-1.8" font-size="17" font-style="italic" textLength="9.6" lengthAdjust="spacingAndGlyphs">χ</text>
<text x="40.0" y="-8.2" font-size="11.5" stroke="none" textLength="6.6" lengthAdjust="spacingAndGlyphs">2</text>
</g>
<text transform="translate(83.80,589.4) scale(1.2,1)" font-size="15.80" text-anchor="middle">-1</text>
<text transform="translate(171.80,589.4) scale(1.2,1)" font-size="15.80" text-anchor="middle">-0.5</text>
<text transform="translate(259.80,589.4) scale(1.2,1)" font-size="15.80" text-anchor="middle">0</text>
<text transform="translate(347.80,589.4) scale(1.2,1)" font-size="15.80" text-anchor="middle">0.5</text>
<text transform="translate(435.80,589.4) scale(1.2,1)" font-size="15.80" text-anchor="middle">1</text>
<text x="223.90" y="604.8" font-size="17.0" textLength="72.4" lengthAdjust="spacingAndGlyphs">True <tspan font-style="italic">δ</tspan>/<tspan font-style="italic">π</tspan></text>
<text transform="translate(469.90,589.4) scale(1.2,1)" font-size="15.80" text-anchor="middle">-1</text>
<text transform="translate(557.90,589.4) scale(1.2,1)" font-size="15.80" text-anchor="middle">-0.5</text>
<text transform="translate(645.90,589.4) scale(1.2,1)" font-size="15.80" text-anchor="middle">0</text>
<text transform="translate(733.90,589.4) scale(1.2,1)" font-size="15.80" text-anchor="middle">0.5</text>
<text transform="translate(821.90,589.4) scale(1.2,1)" font-size="15.80" text-anchor="middle">1</text>
<text x="610.00" y="604.8" font-size="17.0" textLength="72.4" lengthAdjust="spacingAndGlyphs">True <tspan font-style="italic">δ</tspan>/<tspan font-style="italic">π</tspan></text>
<text x="368.80" y="73.00" font-size="17.00" text-anchor="end" textLength="118.7" lengthAdjust="spacingAndGlyphs">2-horn DUNE</text>
<line x1="376.6" x2="420" y1="67.20" y2="67.20" stroke="#00ff00" stroke-width="1.4"/>
<text x="368.80" y="90.10" font-size="17.00" text-anchor="end" textLength="118.7" lengthAdjust="spacingAndGlyphs">3-horn DUNE</text>
<line x1="376.6" x2="420" y1="84.30" y2="84.30" stroke="#ff0000" stroke-width="1.4"/>
<text x="368.80" y="107.20" font-size="17.00" text-anchor="end" textLength="116.3" lengthAdjust="spacingAndGlyphs">nuPIL DUNE</text>
<line x1="376.6" x2="420" y1="101.40" y2="101.40" stroke="#0000ff" stroke-width="1.4"/>
<text x="150.10" y="107.10" font-size="17.00" text-anchor="end" textLength="40.0" lengthAdjust="spacingAndGlyphs">CPV</text>
<line x1="154.2" x2="190.1" y1="101.6" y2="101.6" stroke="#000" stroke-width="1.3"/>
<text x="149.60" y="123.80" font-size="17.00" text-anchor="end" textLength="42.1" lengthAdjust="spacingAndGlyphs">MCP</text>
<line x1="154.2" x2="190.1" y1="117.8" y2="117.8" stroke="#000" stroke-width="1.3" stroke-dasharray="10.2 4.6"/>
<text x="481.20" y="74.10" font-size="17.00" text-anchor="start" textLength="181.2" lengthAdjust="spacingAndGlyphs">including T2HK data</text>
<text x="481.00" y="338.70" font-size="17.00" text-anchor="start" textLength="248.3" lengthAdjust="spacingAndGlyphs">including 2-horn DUNE data</text>
<text x="241.60" y="344.40" font-size="17.00" text-anchor="end" textLength="51.0" lengthAdjust="spacingAndGlyphs">T2HK</text>
<line x1="245.4" x2="276.5" y1="338.7" y2="338.7" stroke="#ff0000" stroke-width="1.4"/>
<text x="241.60" y="363.60" font-size="17.00" text-anchor="end" textLength="97.0" lengthAdjust="spacingAndGlyphs">T2HKK1.5<tspan dy="-4.5" font-size="11.5" stroke="none">°</tspan></text>
<line x1="245.4" x2="276.5" y1="358.1" y2="358.1" stroke="#00ff00" stroke-width="1.4"/>
<text x="393.20" y="344.40" font-size="17.00" text-anchor="end" textLength="97.4" lengthAdjust="spacingAndGlyphs">T2HKK2.0<tspan dy="-4.5" font-size="11.5" stroke="none">°</tspan></text>
<line x1="397.2" x2="427.8" y1="338.7" y2="338.7" stroke="#0000ff" stroke-width="1.4"/>
<text x="393.20" y="363.60" font-size="17.00" text-anchor="end" textLength="97.4" lengthAdjust="spacingAndGlyphs">T2HKK2.5<tspan dy="-4.5" font-size="11.5" stroke="none">°</tspan></text>
<line x1="397.2" x2="427.8" y1="358.1" y2="358.1" stroke="#ff00ff" stroke-width="1.4"/>
</svg></body></html>
